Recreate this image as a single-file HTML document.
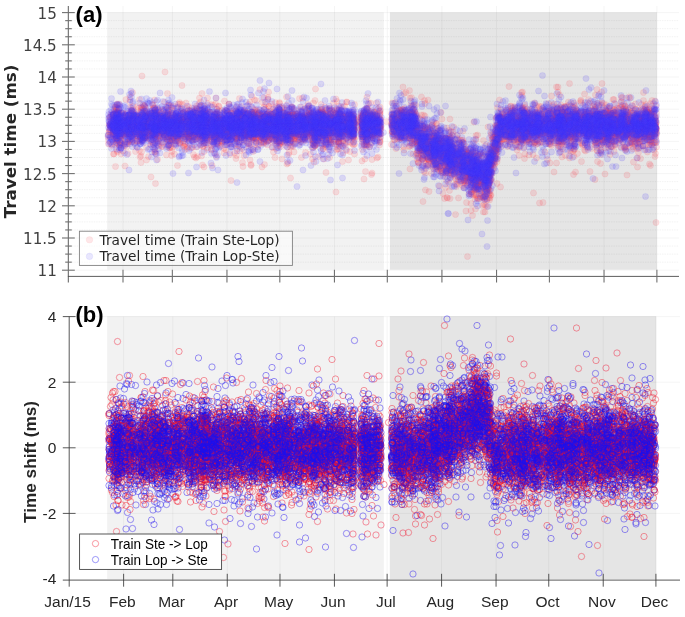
<!DOCTYPE html>
<html lang="en"><head><meta charset="utf-8"><title>Travel time and time shift</title>
<style>html,body{margin:0;padding:0;background:#fff}svg{display:block}.dj{font-family:"DejaVu Sans","Liberation Sans",sans-serif}.ar{font-family:"Liberation Sans","DejaVu Sans",sans-serif}</style></head><body>
<svg width="685" height="617" viewBox="0 0 685 617">
<rect width="685" height="617" fill="#fff"/>
<defs>
<marker id="mr" markerWidth="20" markerHeight="20" refX="10" refY="10" markerUnits="userSpaceOnUse" overflow="visible"><circle cx="10" cy="10" r="6.2" fill="#fa3c48" fill-opacity=".15" stroke="#fa3c48" stroke-opacity=".1" stroke-width="1.6"/></marker>
<marker id="mb" markerWidth="20" markerHeight="20" refX="10" refY="10" markerUnits="userSpaceOnUse" overflow="visible"><circle cx="10" cy="10" r="6.2" fill="#4034fa" fill-opacity=".15" stroke="#4034fa" stroke-opacity=".1" stroke-width="1.6"/></marker>
<marker id="or" markerWidth="20" markerHeight="20" refX="10" refY="10" markerUnits="userSpaceOnUse" overflow="visible"><circle cx="10" cy="10" r="6.3" fill="none" stroke="#f01428" stroke-opacity=".42" stroke-width="2"/></marker>
<marker id="ob" markerWidth="20" markerHeight="20" refX="10" refY="10" markerUnits="userSpaceOnUse" overflow="visible"><circle cx="10" cy="10" r="6.3" fill="none" stroke="#1a10ee" stroke-opacity=".42" stroke-width="2"/></marker>
<filter id="bl" x="0" y="0" width="1400" height="1300" filterUnits="userSpaceOnUse"><feGaussianBlur stdDeviation=".7"/></filter>
</defs>
<g id="top">
<rect x="107.2" y="12.3" width="276.6" height="257.4" fill="#f2f2f2"/>
<rect x="389.9" y="12.3" width="267.0" height="257.4" fill="#e5e5e5"/>
<line x1="75" x2="679.0" y1="12.60" y2="12.60" stroke="#000" stroke-opacity=".045" stroke-width="1"/><line x1="72" x2="679.0" y1="20.65" y2="20.65" stroke="#000" stroke-opacity=".085" stroke-width=".8" stroke-dasharray=".85 .85"/><line x1="72" x2="679.0" y1="28.70" y2="28.70" stroke="#000" stroke-opacity=".085" stroke-width=".8" stroke-dasharray=".85 .85"/><line x1="72" x2="679.0" y1="36.75" y2="36.75" stroke="#000" stroke-opacity=".085" stroke-width=".8" stroke-dasharray=".85 .85"/><line x1="75" x2="679.0" y1="44.80" y2="44.80" stroke="#000" stroke-opacity=".045" stroke-width="1"/><line x1="72" x2="679.0" y1="52.85" y2="52.85" stroke="#000" stroke-opacity=".085" stroke-width=".8" stroke-dasharray=".85 .85"/><line x1="72" x2="679.0" y1="60.90" y2="60.90" stroke="#000" stroke-opacity=".085" stroke-width=".8" stroke-dasharray=".85 .85"/><line x1="72" x2="679.0" y1="68.95" y2="68.95" stroke="#000" stroke-opacity=".085" stroke-width=".8" stroke-dasharray=".85 .85"/><line x1="75" x2="679.0" y1="77.00" y2="77.00" stroke="#000" stroke-opacity=".045" stroke-width="1"/><line x1="72" x2="679.0" y1="85.05" y2="85.05" stroke="#000" stroke-opacity=".085" stroke-width=".8" stroke-dasharray=".85 .85"/><line x1="72" x2="679.0" y1="93.10" y2="93.10" stroke="#000" stroke-opacity=".085" stroke-width=".8" stroke-dasharray=".85 .85"/><line x1="72" x2="679.0" y1="101.15" y2="101.15" stroke="#000" stroke-opacity=".085" stroke-width=".8" stroke-dasharray=".85 .85"/><line x1="75" x2="679.0" y1="109.20" y2="109.20" stroke="#000" stroke-opacity=".045" stroke-width="1"/><line x1="72" x2="679.0" y1="117.25" y2="117.25" stroke="#000" stroke-opacity=".085" stroke-width=".8" stroke-dasharray=".85 .85"/><line x1="72" x2="679.0" y1="125.30" y2="125.30" stroke="#000" stroke-opacity=".085" stroke-width=".8" stroke-dasharray=".85 .85"/><line x1="72" x2="679.0" y1="133.35" y2="133.35" stroke="#000" stroke-opacity=".085" stroke-width=".8" stroke-dasharray=".85 .85"/><line x1="75" x2="679.0" y1="141.40" y2="141.40" stroke="#000" stroke-opacity=".045" stroke-width="1"/><line x1="72" x2="679.0" y1="149.45" y2="149.45" stroke="#000" stroke-opacity=".085" stroke-width=".8" stroke-dasharray=".85 .85"/><line x1="72" x2="679.0" y1="157.50" y2="157.50" stroke="#000" stroke-opacity=".085" stroke-width=".8" stroke-dasharray=".85 .85"/><line x1="72" x2="679.0" y1="165.55" y2="165.55" stroke="#000" stroke-opacity=".085" stroke-width=".8" stroke-dasharray=".85 .85"/><line x1="75" x2="679.0" y1="173.60" y2="173.60" stroke="#000" stroke-opacity=".045" stroke-width="1"/><line x1="72" x2="679.0" y1="181.65" y2="181.65" stroke="#000" stroke-opacity=".085" stroke-width=".8" stroke-dasharray=".85 .85"/><line x1="72" x2="679.0" y1="189.70" y2="189.70" stroke="#000" stroke-opacity=".085" stroke-width=".8" stroke-dasharray=".85 .85"/><line x1="72" x2="679.0" y1="197.75" y2="197.75" stroke="#000" stroke-opacity=".085" stroke-width=".8" stroke-dasharray=".85 .85"/><line x1="75" x2="679.0" y1="205.80" y2="205.80" stroke="#000" stroke-opacity=".045" stroke-width="1"/><line x1="72" x2="679.0" y1="213.85" y2="213.85" stroke="#000" stroke-opacity=".085" stroke-width=".8" stroke-dasharray=".85 .85"/><line x1="72" x2="679.0" y1="221.90" y2="221.90" stroke="#000" stroke-opacity=".085" stroke-width=".8" stroke-dasharray=".85 .85"/><line x1="72" x2="679.0" y1="229.95" y2="229.95" stroke="#000" stroke-opacity=".085" stroke-width=".8" stroke-dasharray=".85 .85"/><line x1="75" x2="679.0" y1="238.00" y2="238.00" stroke="#000" stroke-opacity=".045" stroke-width="1"/><line x1="72" x2="679.0" y1="246.05" y2="246.05" stroke="#000" stroke-opacity=".085" stroke-width=".8" stroke-dasharray=".85 .85"/><line x1="72" x2="679.0" y1="254.10" y2="254.10" stroke="#000" stroke-opacity=".085" stroke-width=".8" stroke-dasharray=".85 .85"/><line x1="72" x2="679.0" y1="262.15" y2="262.15" stroke="#000" stroke-opacity=".085" stroke-width=".8" stroke-dasharray=".85 .85"/><line x1="75" x2="679.0" y1="270.20" y2="270.20" stroke="#000" stroke-opacity=".045" stroke-width="1"/><line x1="123.00" x2="123.00" y1="6" y2="270" stroke="#000" stroke-opacity=".045" stroke-width="1"/><line x1="172.34" x2="172.34" y1="6" y2="270" stroke="#000" stroke-opacity=".045" stroke-width="1"/><line x1="226.96" x2="226.96" y1="6" y2="270" stroke="#000" stroke-opacity=".045" stroke-width="1"/><line x1="279.82" x2="279.82" y1="6" y2="270" stroke="#000" stroke-opacity=".045" stroke-width="1"/><line x1="334.44" x2="334.44" y1="6" y2="270" stroke="#000" stroke-opacity=".045" stroke-width="1"/><line x1="387.30" x2="387.30" y1="6" y2="270" stroke="#000" stroke-opacity=".045" stroke-width="1"/><line x1="441.92" x2="441.92" y1="6" y2="270" stroke="#000" stroke-opacity=".045" stroke-width="1"/><line x1="496.55" x2="496.55" y1="6" y2="270" stroke="#000" stroke-opacity=".045" stroke-width="1"/><line x1="549.41" x2="549.41" y1="6" y2="270" stroke="#000" stroke-opacity=".045" stroke-width="1"/><line x1="604.03" x2="604.03" y1="6" y2="270" stroke="#000" stroke-opacity=".045" stroke-width="1"/><line x1="656.89" x2="656.89" y1="6" y2="270" stroke="#000" stroke-opacity=".045" stroke-width="1"/>
</g>
<g fill="none" stroke="none" transform="scale(.5)" filter="url(#bl)">
<polyline points="578,256 387,280 847,279 526,261 922,310 692,231 672,226 951,342 822,261 288,244 1015,232 233,256 1268,238 730,232 1007,234 1018,173 834,287 829,259 1239,240 260,239 820,278 298,246 867,324 460,259 431,252 1039,295 992,312 1102,283 897,321 1115,253 662,266 651,242 634,239 1045,242 1123,241 634,275 1078,246 707,247 852,288 828,230 945,351 960,348 856,200 678,236 537,281 538,253 707,290 624,265 854,298 1256,267 630,291 1186,232 758,275 434,233 677,243 1125,222 1124,275 626,244 437,260 991,315 1061,277 279,271 629,251 739,234 792,244 1272,272 552,256 498,241 290,221 680,264 1063,233 995,296 431,249 367,269 1059,251 1039,244 498,252 372,240 918,361 407,263 233,239 512,277 1086,233 674,278 393,245 1196,264 944,356 875,303 451,255 1262,223 1188,208 342,251 562,234 252,243 1128,261 947,362 842,249 883,326 585,227 237,225 1011,251 977,313 678,259 1045,214 707,258 522,240 1153,261 659,283 486,250 969,339 449,266 510,234 511,231 358,236 255,250 820,236 1055,255 559,219 906,321 538,244 1047,244 1029,268 631,264 982,347 441,276 522,252 731,248 1160,247 708,255 532,257 551,267 406,252 286,242 727,231 452,281 1228,260 353,274 869,330 1167,244 297,255 507,274 1108,228 647,250 385,266 306,272 852,302 926,285 1041,250 820,234 434,288 755,248 896,342 1021,239 625,257 970,387 830,283 334,252 1113,260 1230,276 327,262 407,245 1148,244 1215,262 265,240 731,278 1227,252 293,233 791,205 1034,254 696,284 371,268 1294,267 1040,242 344,303 557,253 1073,250 230,222 528,285 454,287 726,261 254,254 1045,248 660,236 1044,241 662,251 1189,260 1223,266 557,284 1024,251 494,255 877,298 376,234 361,243 980,366 358,259 1245,232 1223,252 887,331 290,261 840,298 961,362 1310,257 1108,242 1195,257 508,234 1250,246 625,233 662,266 627,267 1046,245 733,228 708,273 1043,238 836,273 473,260 521,260 550,244 1051,222 627,241 571,277 914,369 981,332 1046,249 914,341 660,245 494,256 598,255 386,229 304,236 438,266 436,257 1304,241 531,242 880,279 788,231 876,262 585,256 576,326 255,251 820,286 582,252 250,263 993,253 227,246 1270,250 1201,240 914,302 319,260 565,241 457,255 355,232 327,233 584,258 311,253 1089,220 502,252 857,294 1261,254 1113,326 233,258 1193,252 977,360 1079,264 411,263 255,233 1150,250 1289,242 484,248 1166,263 658,259 558,227 225,244 435,257 1169,229 1200,279 1246,270 1303,249 852,272 1260,245 353,233 383,242 663,248 901,356 848,261 232,279 982,321 430,246 733,244 1286,235 808,243 279,271 941,334 494,252 237,255 809,244 635,233 541,261 406,221 727,252 532,261 877,301 632,273 293,235 900,306 951,418 1272,234 1292,233 1101,225 412,261 439,238 1179,250 899,276 788,269 786,245 535,249 354,256 357,241 1228,244 423,247 856,280 680,258 687,233 945,350 534,236 725,253 1208,269 487,256 1005,229 556,260 1197,272 649,251 954,371 1303,239 248,270 546,285 1268,262 233,265 734,249 866,292 566,275 336,252 811,273 907,304 644,238 1057,258 1018,229 498,260 1304,201 1006,278 681,233 671,239 409,263 1005,245 1174,258 726,227 563,250 665,275 1242,241 1256,258 1307,253 880,298 818,276 620,248 877,309 1244,248 841,295 625,258 347,287 1170,252 1198,267 307,260 709,247 819,293 1156,253 281,274 1295,304 1060,286 1174,252 855,294 1191,272 1080,266 279,280 432,244 1238,267 230,289 613,274 1114,233 820,196 1050,262 935,318 312,252 723,248 1182,244 872,287 275,231 1260,257 587,253 664,254 889,307 1189,256 733,242 1110,238 526,257 356,281 312,259 289,257 1178,233 549,234 357,241 743,248 353,242 664,235 919,345 1220,262 1095,245 393,294 756,314 1302,288 312,256 1219,269 503,261 567,216 1233,242 309,200 443,284 308,235 538,212 1204,230 1197,237 1243,248 497,288 282,260 987,290 1222,237 1278,233 1163,286 1140,254 609,236 325,253 1014,246 367,292 638,245 1256,261 528,258 1313,245 1217,234 575,223 355,331 1221,229 420,224 226,240 1193,246 953,375 263,230 317,248 1024,262 1201,327 352,245 271,245 1247,231 405,270 1024,246 597,281 992,302 235,265 410,263 1302,236 970,424 647,255 728,358 670,245 699,238 538,236 895,316 703,242 930,327 1275,334 947,336 1089,251 574,254 506,271 437,256 283,247 1104,265 947,286 569,244 308,267 848,277 893,276 707,236 463,259 725,259 1034,254 313,266 1227,252 1190,231 279,256 503,224 981,381 633,231 570,285 798,252 978,366 959,360 883,315 236,242 458,249 937,344 605,278 1194,277 346,230 566,224 1298,243 370,277 691,290 532,236 1118,239 363,250 537,280 1115,251 1305,256 1172,250 1296,224 1029,256 924,335 459,241 900,321 547,254 650,261 241,243 1091,252 473,278 955,331 423,274 1034,243 315,319 724,238 474,232 1094,240 1113,225 927,336 422,280 1119,261 1015,260 981,336 1127,283 543,228 575,236 387,265 679,230 1151,277 647,270 1259,245 311,267 1047,233 1166,257 604,248 551,247 1300,273 368,254 686,271 333,310 599,238 805,239 1303,274 1007,269 377,254 391,279 259,283 1252,234 587,286 932,293 722,236 752,260 958,332 1302,241 759,222 473,256 329,235 489,282 1033,236 1152,264 563,239 679,265 1062,254 299,247 925,371 415,255 555,242 525,271 1045,251 1306,241 1097,261 1230,253 869,257 1164,251 590,267 426,258 367,246 901,317 1303,268 290,252 971,342 423,254 1276,260 728,259 803,229 436,259 671,226 614,264 240,255 1102,275 459,275 1158,264 1120,254 569,249 1158,239 753,206 1140,235 722,265 506,227 744,269 584,249 1058,219 371,287 397,254 1265,253 1249,233 1277,305 1017,266 625,281 1130,262 563,216 571,246 1200,253 906,347 461,232 1176,234 1051,259 393,259 453,221 632,250 580,251 662,247 709,308 531,270 581,263 630,291 433,265 1089,278 719,242 1041,234 1106,223 389,243 495,287 499,249 238,267 510,264 723,265 405,248 807,247 594,229 935,356 992,281 1022,212 1008,252 291,248 693,262 784,249 488,259 507,243 1073,264 259,281 806,246 609,254 1204,206 400,264 942,316 1074,255 957,351 236,259 987,314 709,288 1139,167 242,247 466,247 929,362 385,282 1137,232 432,248 989,292 1183,261 1136,224 742,243 724,257 762,257 661,254 507,242 1075,258 442,238 794,254 559,225 480,302 626,269 956,336 1152,218 688,241 672,245 1260,266 292,257 441,278 942,344 870,300 316,261 1194,237 329,261 649,267 1188,237 1253,266 1208,242 472,272 1270,247 225,248 1203,258 971,325 1139,256 1090,304 574,262 1146,268 1236,260 1204,275 1251,243 597,242 311,231 1168,231 946,323 592,271 432,196 1302,241 456,270 1117,260 1132,244 373,242 977,340 481,263 537,267 409,257 1208,238 1190,249 977,320 754,235 524,276 591,232 1253,244 342,264 1286,237 522,247 788,241 451,239 308,248 235,250 1250,256 537,242 1129,230 581,248 724,250 1132,266 608,269 1074,263 730,229 638,247 1039,244 881,297 805,219 1304,212 1277,244 258,266 1252,246 799,232 354,240 1124,231 1118,264 978,389 1215,271 1078,256 606,233 583,249 470,289 335,238 685,230 840,298 612,237 1043,224 827,245 510,240 786,243 970,384 1272,249 1050,273 1221,281 795,278 1031,274 920,293 877,328 642,209 843,194 825,268 1209,266 1124,229 1025,238 1230,228 289,258 1061,231 725,250 1041,270 536,227 752,263 1150,254 485,232 640,241 1068,236 1201,309 1221,230 1055,283 552,239 858,296 1044,191 1030,229 501,250 1094,241 1217,286 1171,247 619,216 410,281 760,238 470,253 634,239 732,237 980,396 1286,255 1188,251 1201,250 704,246 1093,241 528,214 794,241 1291,276 873,306 1080,243 559,239 1128,244 237,247 411,250 499,273 1065,231 637,253 1151,261 350,262 470,248 835,265 788,254 977,342 904,315 318,245 437,271 265,280 1204,250 636,225 868,298 902,263 956,343 607,275 504,251 351,273 445,263 259,252 1303,290 830,240 611,281 473,240 571,282 948,365 1023,256 560,270 1161,202 447,282 685,249 343,214 925,333 413,252 942,355 1021,213 882,295 983,345 708,256 342,273 1030,219 644,234 1240,280 1213,255 596,275 900,288 334,250 241,272 1143,287 267,238 1034,300 792,236 584,225 1287,259 914,290 289,252 349,252 1031,242 1132,244 1023,245 761,257 942,325 244,239 413,234 1003,267 704,272 329,259 727,227 1163,252 627,206 381,266 904,293 980,318 565,283 1043,250 628,240 741,258 1024,268 1138,246 1300,259 1199,255 939,334 1128,247 1020,291 1301,207 847,283 1053,233 380,238 1270,256 596,246 614,247 313,233 1212,222 617,227 1245,273 542,236 1247,218 386,259 988,293 1138,249 805,219 1165,233 1205,241 392,253 1063,267 845,297 324,243 573,210 240,241 746,260 878,285 271,258 1211,257 403,272 404,237 744,346 1229,230 286,266 1204,248 463,241 745,235 603,239 488,300 1262,270 225,272 1014,247 1082,251 660,221 869,303 459,245 1022,248 756,218 1281,292 1167,248 1251,231 1198,260 1294,263 798,259 338,258 425,274 1055,224 636,260 1149,287 307,253 586,228 1156,226 970,357 988,279 1304,275 242,259 946,339 1037,255 1000,233 296,253 1064,218 887,291 505,275 227,254 801,221 321,241 758,254 1072,247 474,245 1272,248 1155,307 633,270 285,224 536,246 267,230 462,361 330,250 459,248 475,254 1117,246 403,312 239,251 1225,269 904,348 671,264 1051,230 801,237 408,303 1294,224 1259,229 1123,246 546,262 382,246 893,302 231,235 1001,225 981,299 1133,227 892,346 1233,268 1200,257 264,222 493,266 1174,229 416,258 1050,242 461,257 500,268 1278,283 1053,284 366,249 1293,247 293,226 629,249 238,249 1194,251 966,347 605,234 1203,272 1067,247 1310,284 644,246 522,238 237,269 1057,268 980,325 1138,253 385,295 870,271 734,243 437,285 869,315 1267,221 1169,188 1202,230 504,264 1171,246 530,243 480,257 1171,245 619,244 1176,221 635,234 708,245 838,280 459,262 502,329 327,247 408,255 703,264 920,353 368,235 1195,277 1077,262 1130,269 960,353 392,246 734,257 984,325 1100,276 1130,230 950,347 1150,268 661,243 633,237 796,247 406,254 1049,267 393,250 1033,260 978,355 1222,255 250,332 1074,258 882,326 652,289 1101,242 947,386 1008,279 1182,254 1243,245 1227,243 881,314 753,245 460,267 685,262 251,235 648,238 912,347 945,431 890,331 497,266 629,261 1142,212 1254,246 415,222 228,308 883,344 1112,254 868,271 1209,240 952,369 453,222 504,236 995,249 1098,244 682,243 1302,252 909,329 239,257 340,251 1251,237 905,308 1218,280 1194,301 1179,246 906,324 687,261 484,262 949,304 809,232 431,229 1131,264 449,275 487,222 786,234 1154,234 1279,265 1265,259 899,302 506,262 437,237 678,248 457,267 896,297 908,324 1157,238 1055,243 830,224 885,274 532,244 1227,257 672,268 1160,276 1065,250 821,258 1203,223 756,259 632,287 680,261 658,300 319,263 1242,259 1106,268 1053,263 290,244 726,272 1256,241 282,270 1199,257 1243,247 488,240 473,229 785,253 729,220 1188,234 272,234 384,259 881,337 1073,223 743,259 890,332 921,329 238,260 1311,307 579,251 756,245 219,259 569,257 818,231 736,254 1272,234 1022,276 992,262 581,278 622,241 783,227 1214,247 311,278 258,253 561,275 347,262 871,305 1143,242 874,247 383,253 661,285 1276,250 1187,262 1297,256 495,270 425,285 792,297 1180,264 1215,262 859,303 294,250 338,296 350,244 547,237 556,262 990,268 338,250 954,329 996,254 1006,262 822,251 1030,266 428,238 799,240 502,244 941,352 1099,260 976,375 1292,232 945,337 1203,241 820,274 737,228 881,287 1001,374 1243,237 624,224 731,272 1217,263 668,242 1125,237 277,248 220,239 1239,243 550,270 434,239 973,334 236,240 1165,291 839,278 475,268 935,310 583,213 725,247 1215,252 807,241 833,279 753,242 1013,224 1174,231 650,245 1245,284 851,257 328,237 947,360 535,246 1163,287 279,301 291,242 325,273 241,245 1117,254 1224,284 1277,265 381,242 1264,287 306,249 511,265 513,245 330,144 824,224 706,266 1261,235 638,259 941,379 1099,271 338,282 800,256 321,235 463,271 900,327 1313,282 377,263 633,267 995,215 855,300 959,327 1291,299 882,325 293,236 682,226 469,306 566,253 634,288 886,387 435,243 489,263 512,260 911,429 260,244 554,237 430,249 980,311 454,249 1221,254 1200,246 628,271 1308,300 661,231 1058,250 1113,238 952,331 995,264 373,266 273,269 312,242 1121,250 440,247 1290,250 1124,261 957,364 855,254 876,288 726,261 612,233 478,284 823,261 396,276 1109,231 1238,246 826,287 669,240 1121,237 224,230 234,252 542,228 960,368 325,262 970,309 1304,253 346,255 437,290 626,264 616,209 1198,229 290,253 1000,233 1110,232 1165,224 1196,254 225,254 739,252 314,279 575,242 339,253 842,301 1011,264 989,330 553,260 801,253 906,342 438,267 1109,237 1005,259 1203,252 1227,241 961,378 1262,254 856,334 871,266 481,237 642,243 631,247 1284,236 916,329 1012,254 406,255 550,315 1179,252 1262,259 685,246 644,226 732,246 519,252 313,228 707,263 1077,255 336,255 587,280 262,270 794,270 954,359 1302,239 957,363 815,242 515,262 869,300 882,285 528,283 975,353 1091,245 742,250 908,336 562,255 334,278 755,245 1207,232 829,225 682,239 1288,244 473,222 1040,275 1125,298 748,272 460,309 1215,251 556,250 239,226 419,225 1195,259 637,245 991,295 1020,255 722,231 553,234 867,278 508,225 518,281 1180,251 613,265 329,271 908,331 807,239 280,236 599,197 523,255 1298,219 1221,235 255,284 463,261 1220,255 403,269 842,282 267,265 257,260 663,273 234,225 309,304 921,332 697,264 310,260 897,346 681,251 953,374 499,262 1176,238 640,224 1033,269 618,231 1214,258 443,239 481,267 1184,248 569,248 1117,238 464,255 454,256 1042,237 1123,243 442,258 484,232 367,249 277,265 427,210 513,230 626,250 1283,217 631,252 548,244 1101,263 932,340 511,219 481,273 1203,262 1119,190 1099,220 399,221 936,332 263,236 1276,286 397,236 1120,263 262,266 837,285 895,313 448,297 825,219 833,255 229,275 611,244 925,324 1052,247 955,331 937,307 1171,265 414,238 860,268 538,271 1253,230 905,330 1142,232 230,241 684,266 700,261 574,261 412,258 736,243 1196,267 1278,271 637,266 1064,251 727,257 1128,249 437,213 252,284 730,259 1212,222 1223,293 1004,241 641,241 809,223 1117,291 1102,255 883,309 361,238 754,240 568,266 708,245 1288,256 1124,242 648,318 823,231 317,272 678,244 749,225 613,239 322,235 583,278 1015,282 365,265 1046,249 1254,350 838,281 570,238 408,254 1033,242 442,248 341,293 903,277 617,217 1274,276 1221,260 874,318 1045,255 1259,241 422,256 472,258 581,261 931,335 972,383 324,267 1211,243 1017,241 615,246 1150,240 621,308 1208,248 1093,256 1299,261 630,292 1021,275 1278,241 725,242 1190,215 628,275 784,206 416,271 1151,231 514,261 992,252 376,227 1254,248 1267,244 219,251 922,322 952,332 352,292 503,229 289,264 924,281 1102,278 1240,243 1059,246 1217,250 677,285 982,335 971,354 977,355 900,307 651,265 504,242 1213,245 1144,246 1004,268 266,256 1251,213 907,254 237,265 648,245 612,255 1102,247 1218,266 971,340 629,281 408,225 599,247 222,248 278,260 1306,251 827,210 886,296 1128,260 827,238 866,301 490,264 872,318 1129,254 538,249 548,240 380,245 878,293 1062,267 803,265 236,248 1167,242 479,254 1213,269 1280,260 1147,232 433,227 1280,274 328,221 1250,244 357,250 448,306 1300,251 1161,236 546,264 393,241 663,234 867,318 1246,252 353,268 576,231 637,265 802,269 571,255 490,271 1078,269 581,257 309,215 571,252 1138,238 678,225 731,260 1127,251 1125,257 1257,230 508,255 402,283 1244,260 1183,232 697,261 1287,201 941,325 1265,238 981,333 880,342 387,266 353,261 706,259 645,262 314,269 286,230 556,253 811,240 645,229 1057,245 1140,301 1179,261 402,260 432,278 724,283 1278,255 900,317 1303,255 417,252 640,241 514,255 1291,232 526,235 1147,349 841,266 638,262 1291,262 1080,231 1047,247 412,270 980,326 1128,271 914,286 1312,445 306,210 1075,287 676,240 579,250 363,219 544,278 948,342 1205,242 433,251 895,317 700,303 668,234 995,265 928,327 1244,258 1100,244 678,227 935,347 344,280 1058,310 307,236 1305,270 344,243 530,236 1130,233 784,234 863,296 336,291 287,270 1259,242 585,266 942,331 315,246 294,250 701,285 356,253 541,239 560,250 558,240 584,277 749,224 965,311 262,225 689,212 279,247 325,293 1217,295 1145,237 978,369 313,236 613,266 1043,262 982,322 998,238 673,236 424,267 439,273 849,281 680,248 391,241 232,229 506,303 759,267 879,333 402,258 666,236 562,229 981,319 1213,271 1248,262 1115,216 597,275 1186,260 995,285 408,250 1262,267 965,329 978,315 1212,263 1295,280 257,271 431,237 438,260 658,270 729,241 1179,255 1049,317 759,260 451,251 537,232 744,237 417,281 383,280 954,312 732,242 684,237 744,319 1123,246 487,234 458,259 1078,212 836,301 928,336 1123,246 949,297 995,270 883,305 447,260 377,271 267,250 921,301 821,239 347,251 939,345 934,329 500,229 416,234 517,244 397,259 696,246 1122,234 762,249 808,245 995,303 1152,250 858,280 257,250 252,258 880,267 288,258 808,187 1155,241 940,329 518,271 867,310 500,255 501,235 234,255 432,267 312,227 797,222 729,270 901,276 560,279 1299,328 841,300 1191,286 286,210 1250,256 243,268 227,256 944,327 233,255 1171,271 824,279 604,221 220,234 687,260 584,263 984,306 433,229 1167,267 891,375 233,272 473,251 935,344 991,284 1198,271 559,205 913,332 1250,212 640,238 602,284 869,286 1204,251 1224,270 925,342 328,248 1199,218 1104,251 311,268 799,246 845,256 1253,269 625,318 623,266 489,267 391,225 841,287 384,216 436,266 1110,260 473,213 809,258 859,322 578,231 574,247 976,377 751,240 643,258 472,266 480,255 613,273 337,210 458,258 1060,263 826,308 1132,274 545,250 576,280 828,272 870,276 702,252 371,239 857,276 820,239 900,312 435,228 379,253 858,383 1205,261 450,252 341,268 392,269 536,251 971,354 569,243 238,265 815,243 1295,268 475,234 1115,276 707,270 984,326 461,263 449,243 541,248 367,243 548,253 510,289 859,302 1022,269 336,229 682,221 291,253 235,254 627,252 1021,262 275,272 539,222 393,251 543,238 1260,289 409,229 795,255 807,246 700,241 806,226 1202,224 937,352 946,352 888,294 636,237 725,273 501,289 1224,270 234,281 845,252 1153,231 743,257 623,226 525,246 525,243 852,303 550,266 1193,253 1105,260 578,234 500,204 442,292 479,263 463,227 954,395 460,276 827,250 409,242 745,252 1168,249 293,258 239,274 1140,272 590,241 969,344 1136,246 977,376 1020,268 462,222 700,245 543,244 1253,269 231,214 253,243 531,236 1139,219 644,259 234,255 903,295 1203,247 334,260 1020,256 757,260 482,238 289,245 664,253 737,206 1198,247 283,244 1253,271 753,244 736,260 696,262 629,249 1183,229 447,258 527,226 285,238 1142,283 876,308 1188,264 519,260 799,260 544,276 1309,263 474,253 515,238 351,257 646,253 1199,290 488,269 357,273 1196,206 626,288 981,362 404,187 795,241 396,258 729,243 418,239 1157,276 955,337 965,354 661,236 1187,271 312,236 1141,232 651,266 340,242 351,261 1028,250 478,233 303,277 566,244 1170,210 1150,257 1173,244 311,231 689,288 848,267 500,223 679,250 618,267 292,264 1298,248 1200,228 1299,290 415,238 283,258 1222,256 1215,272 1058,236 1115,226 571,266 356,265 365,209 1129,214 384,247 571,267 926,329 1118,260 1121,248 1144,237 537,262 347,273 1076,239 427,288 1083,252 266,271 1103,192 1064,258 238,236 872,313 833,307 360,286 286,218 817,263 489,276 413,289 706,248 666,252 585,258 248,242 929,323 302,290 1097,207 512,247 975,349 344,241 831,250 557,270 532,245 311,236 856,288 842,299 460,245 920,344 632,261 1179,247 975,382 1267,324 553,239 365,271 573,268 1157,260 706,276 1116,252 423,209 1261,256 785,264 534,228 423,252 1145,251 291,263 472,260 836,284 1144,261 1278,250 576,254 449,255 291,239 258,239 1292,234 909,317 903,312 675,257 1188,260 998,235 528,260 375,244 305,270 499,240 809,217 289,275 505,262 586,240 1178,245 478,260 561,266 976,373 958,336 466,264 408,271 561,284 585,253 1236,258 892,306 537,248 230,214 976,322 1131,269 801,254 603,241 861,315 982,301 755,244 1142,304 290,233 1140,275 1280,244 1053,281 620,261 1149,211 1187,252 1255,232 632,266 919,305 661,268 992,300 799,247 1122,282 839,268 1219,261 1156,239 238,208 233,262 582,267 1174,258 646,238 486,245 907,313 1162,200 618,247 745,221 804,248 747,257 1274,297 1181,264 967,353 614,242 1147,242 1189,284 309,299 1229,273 1292,270 315,248 877,318 1156,264 344,243 245,235 476,290 1141,255 1079,271 519,220 856,303 1069,249 1103,257 551,269 349,246 1029,261 970,366 279,255 242,308 489,246 516,257 272,225 403,263 1172,255 661,286 355,246 512,244 957,348 842,297 1025,259 939,329 310,256 542,264 495,275 725,259 400,254 430,271 1253,252 611,230 625,266 661,243 529,258 1299,269 1180,227 506,244 685,256 528,259 1105,240 475,238 580,249 299,260 1218,259 1125,245 291,258 645,247 1265,247 456,264 1116,252 929,345 686,282 793,243 291,276 282,255 1281,251 494,274 608,260 479,254 600,236 246,302 315,289 269,231 572,232 1296,260 818,256 257,244 356,251 365,263 1113,250 435,266 1251,263 1129,263 553,274 837,326 558,249 588,267 1212,257 1011,257 369,293 294,253 927,320 649,260 221,247 1240,243 709,249 892,294 1162,262 1028,281 1038,264 991,300 396,256 383,253 923,317 878,291 495,235 577,259 474,271 701,274 927,335 990,319 597,255 585,269 459,275 519,247 234,256 1195,250 915,314 1220,255 1107,270 848,343 1277,246 431,253 1212,260 1148,245 886,308 899,342 1121,250 1066,265 932,335 318,231 334,262 1023,223 1213,231 405,272 675,259 458,251 474,267 1284,271 1242,259 548,282 825,243 952,334 980,335 510,271 226,251 875,289 760,226 542,263 1217,239 401,270 978,306 1249,234 386,242 516,259 527,277 510,270 591,232 623,245 545,273 240,263 630,233 391,262 1205,262 560,288 1178,272 978,350 481,268 946,352 570,269 952,363 402,264 353,267 953,361 1197,267 235,236 292,232 1059,260 1065,263 1202,242 1043,217 1070,284 812,221 1277,259 1290,257 844,288 554,257 392,220 400,251 1219,246 532,229 583,282 432,251 813,261 1255,271 1047,237 695,248 391,242 1141,250 1059,268 537,213 644,272 856,312 1223,249 483,256 677,264 282,325 220,252 957,350 666,240 507,253 1310,241 326,245 1283,243 1006,254 653,266 1076,254 754,259 898,261 812,274 252,269 693,277 339,252 632,242 677,260 1214,236 944,340 577,249 325,249 741,229 363,265 901,291 972,358 310,249 1228,199 1123,285 1172,244 1204,279 1110,262 363,240 663,221 1177,252 329,204 1190,249 1045,278 234,277 904,305 299,248 1120,255 747,268 1290,244 922,329 495,262 581,247 538,253 1272,219 474,259 682,263 749,244 974,329 1160,244 361,246 942,384 406,292 366,240 792,242 749,256 305,245 1211,268 1165,260 628,324 805,239 901,333 1122,210 399,266 1159,260 228,246 547,246 529,247 1062,264 831,256 642,227 1243,260 933,304 538,243 1309,271 410,252 1119,248 408,212 584,215 605,247 310,245 392,316 245,293 1181,250 665,222 533,262 496,244 579,235 401,237 956,348 240,251 412,238 871,297 1181,235 1127,285 732,263 1078,257 1097,234 632,251 1027,253 1027,274 1131,311 865,323 1120,246 280,267 953,332 261,254 581,284 919,331 307,271 479,244 1231,242 1276,279 1130,226 973,357 310,258 222,265 1237,235 605,236 404,277 237,223 500,234 1271,235 484,230 1039,262 982,270 676,249 1187,249 727,250 960,308 393,212 1228,248 267,263 460,265 1153,231 626,253 284,281 400,246 284,221 1292,265 235,255 971,364 1142,274 257,251 283,260 1044,287 1200,274 910,333 868,322 438,258 462,226 1290,250 1261,250 697,255 1088,238 521,242 1272,241 288,232 293,254 1300,274 553,271 487,242 313,223 1214,252 996,231 873,322 892,327 1140,244 476,245 965,390 1046,267 906,264 403,245 1224,282 328,233 1154,247 862,283 585,230 1098,253 926,280 1105,248 298,260 788,266 573,278 285,252 1242,204 450,259 949,330 411,231 660,235 611,223 529,251 1175,273 1051,261 1272,285 955,359 1121,271 912,358 977,351 589,278 487,244 1208,233 701,258 656,275 1286,262 953,360 1273,262 1038,243 1189,261 1143,290 596,244 1253,271 291,278 316,221 695,258 1310,202 364,245 1139,253 493,238 546,260 676,262 760,255 1022,222 950,378 498,246 474,278 468,233 807,250 289,226 287,256 850,277 989,302 364,171 658,279 451,271 1118,283 369,243 1057,259 951,338 228,240 483,260 365,240 1260,286 1182,249 324,262 1124,245 289,249 636,245 563,259 908,319 828,256 1207,243 377,253 343,261 385,239 313,248 1049,225 375,243 265,244 325,247 1086,244 888,282 425,254 982,313 599,235 827,238 514,230 674,256 1147,272 840,258 1295,263 266,251 1203,210 644,219 929,317 945,321 284,233 659,218 552,234 733,216 387,309 868,277 1250,262 1248,245 826,250 537,241 561,244 438,252 259,254 1040,258 845,260 619,262 929,309 844,312 1202,249 858,291 1178,256 992,277 578,247 1012,281 1114,256 309,249 925,350 573,257 379,221 1038,230 1255,224 1109,261 1118,244 404,244 1279,255 399,252 525,284 561,244 1296,257 370,289 531,234 568,239 663,249 857,276 805,229 621,265 958,381 902,317 668,220 1127,240 227,308 599,243 454,250 1153,223 1277,262 388,259 309,259 568,243 900,289 425,239 538,271 893,314 440,253 628,269 1035,225 1211,245 488,312 479,291 659,257 555,245 626,283 604,259 226,254 1153,247 487,241 497,230 804,233 1212,220 743,247 671,256 533,282 1222,256 234,216 1005,235 684,241 669,256 1249,240 236,235 281,264 431,208 1289,244 704,258 379,238 823,272 803,276 1149,274 617,237 658,280 479,244 1069,249 1156,260 837,301 1100,273 948,244 294,236 1127,274 658,249 460,246 1183,297 1152,245 536,261 952,338 977,334 735,242 282,263 969,398 1045,216 894,290 259,244 1025,221 738,225 1166,245 380,239 524,271 1214,244 787,233 312,252 386,240 638,243 393,251 1213,242 1222,293 1288,275 242,251 864,282 802,271 422,258 1226,271 257,242 596,249 1014,258 447,261 537,245 356,281 1194,291 527,260 223,247 792,244 475,249 1175,286 1008,273 514,223 432,268 940,344 889,317 1047,262 1219,279 506,240 928,325 311,307 1055,247 637,254 407,232 1049,271 943,355 971,292 411,257 905,270 733,287 1057,279 290,275 1290,275 658,238 361,252 843,266 1052,259 1279,247 392,217 583,244 1274,257 957,330 231,234 472,277 279,282 956,355 346,268 1141,225 1005,263 330,238 1059,273 239,251 353,238 336,227 976,365 993,271 484,259 553,282 1064,284 642,267 599,263 1253,257 886,351 262,257 1081,255 1193,237 738,266 474,272 420,249 316,266 435,239 810,258 730,244 1264,285 289,241 918,314 899,381 1148,299 681,244 430,277 941,359 1025,263 872,284 1236,257 835,270 1004,268 992,257 640,259 1092,262 992,300 644,244 602,256 1162,228 951,330 642,229 348,257 421,236 803,243 1002,219 953,333 955,365 226,257 586,254 497,209 642,251 589,238 1165,257 1266,230 516,264 1217,258 874,308 984,325 1292,264 335,261 358,255 272,259 272,255 396,253 1019,252 827,278 403,254 611,262 672,249 1051,248 838,308 883,341 867,289 698,267 370,225 409,228 445,274 678,284 1303,282 569,248 396,236 685,254 414,279 703,230 335,248 744,242 494,249 843,277 1242,281 505,254 1050,237 1087,258 836,324 932,355 1059,244 1236,261 650,264 1040,249 544,232 1047,256 1147,224 885,314 483,228 1051,244 1018,248 938,367 800,278 939,347 462,252 802,235 498,271 355,259 340,256 464,242 389,233 957,334 1065,264 600,252 734,261 942,361 643,222 549,252 377,275 1213,245 1299,226 1143,251 287,257 833,252 546,267 258,255 530,247 1091,235 325,236 1003,245 1140,263 1265,247 485,225 957,312 1020,254 784,243 659,263 610,258 1121,263 699,268 694,263 917,330 676,284 1271,261 328,256 822,209 559,232 449,202 517,266 275,257 971,411 619,220 984,299 845,319 370,252 931,330 956,343 367,234 882,225 994,324 825,290 1001,252 320,234 1248,273 558,246 1290,256 890,307 942,355 1152,258 459,272 631,249 374,267 1302,275 637,313 650,280 1034,250 304,270 1263,271 934,353 981,328 574,245 883,271 227,230 1107,222 928,325 388,239 1157,260 1272,257 594,258 749,246 430,275 891,325 287,260 636,219 1226,221 793,212 415,250 1219,226 409,265 611,244 899,308 1214,246 733,247 486,227 410,256 360,270 1002,250 655,234 518,245 633,234 551,247 604,256 994,367 407,243 970,354 597,233 262,272 1164,265 304,255 448,253 1253,293 348,257 1305,241 659,239 855,273 386,229 1203,235 1135,266 218,249 1066,309 917,317 1043,251 349,240 1178,237 724,235 410,244 1195,270 1113,214 1109,261 664,261 894,297 882,316 649,272 785,237 1119,255 463,243 649,229 1063,250 783,247 431,241 993,267 1043,185 328,274 842,289 868,314 360,236 1308,244 645,244 914,345 479,254 531,231 609,265 1218,245 978,347 1010,272 1162,205 734,194 233,247 1218,257 839,276 891,319 873,260 262,239 532,245 315,258 1154,253 941,322 1109,232 251,232 402,237 971,344 872,299 1119,276 1296,246 353,243 966,394 237,216 556,261 1051,258 488,237 265,242 473,277 697,252 1099,238 957,334 415,256 259,249 1013,239 1301,256 1238,278 629,236 1126,224 1297,255 607,251 378,268 944,356 889,397 722,227 1217,270 340,242 1164,245 229,277 1005,279 784,251 294,223 949,355 933,405 508,249 975,375 694,231 1088,266 902,340 1286,261 883,300 412,238 994,277 437,234 307,263 702,246 733,244 829,252 728,237 431,251 965,353 508,227 535,283 1073,247 1014,278 1227,266 1151,262 787,219 829,287 522,275 828,241 253,268 599,259 605,236 1000,254 996,272 1019,274 374,218 1112,246 1279,235 1204,272 661,226 1239,239 1150,238 1130,253 1280,255 1229,225 617,230 1238,249 304,239 1059,232 459,272 796,252 629,282 1150,251 435,251 311,253 1281,247 836,311 1041,278 950,334 697,249 531,279 511,234 934,335 796,259 1254,242 1149,266 827,227 1279,285 951,373 827,267 628,259 917,396 1225,244 789,249 604,269 683,236 531,251 897,346 867,294 256,287 1179,206 1253,249 825,212 1248,233 961,366 1047,217 809,242 1176,259 517,290 1248,293 308,228 1071,232 555,240 1275,249 638,277 1209,277 758,267 872,302 1137,267 661,265 697,230 1267,249 630,263 735,235 926,361 531,258 1076,256 817,252 950,335 859,301 426,245 813,240 1227,250 438,271 684,235 1234,263 945,360 1068,249 1199,245 316,259 1208,286 1282,241 503,273 801,227 540,242 1073,240 689,248 929,348 1074,243 1014,246 1116,249 379,241 412,258 462,270 1251,258 1001,279 953,357 975,363 289,211 1251,265 1149,266 330,257 901,311 1001,287 631,268 733,254 498,251 822,252 678,220 1178,254 1049,238 514,246 868,270 336,223 954,340 993,296 854,297 724,233 916,308 995,250 1095,267 941,355 394,258 1187,259 377,276 961,347 489,247 903,313 1116,174 784,262 405,252 344,279 274,237 1239,252 1006,240 888,322 1046,257 1122,275 1045,252 641,245 1232,225 850,281 646,298 1036,280 830,270 1119,236 1130,258 987,336 1283,209 1286,228 931,316 905,317 681,268 400,279 444,221 1169,300 1095,319 821,243 577,265 978,325 878,277 1303,269 671,279 671,252 350,255 233,220 866,307 1274,279 341,227 964,363 548,255 1190,270 695,226 1044,262 1265,251 866,302 379,278 305,248 397,265 602,238 1146,242 535,290 1230,259 1141,253 472,259 627,295 492,227 431,245 556,261 266,259 375,297 385,241 1186,249 1299,242 891,315 1242,254 1193,231 1282,233 290,248 545,246 404,275 461,266 621,227 577,267 840,277 546,235 234,226 1163,323 273,259 1301,231 266,213 636,255 458,229 974,352 892,340 1138,255 892,303 325,265 1207,234 353,275 1031,235 692,277 1116,251 487,238 1061,247 1124,233 1239,271 431,246 1251,268 1250,238 826,235 1197,249 533,271 534,244 953,390 500,252 827,255 727,230 949,337 309,266 495,271 261,247 1116,286 733,237 1159,257 445,283 916,344 586,241 306,269 559,242 1143,266 564,231 990,275 1176,268 964,349 952,271 868,278 1018,280 1287,243 413,276 922,297 353,239 1233,267 449,259 853,331 1263,258 970,331 643,219 817,242 1286,223 357,246 1103,233 680,244 832,243 1078,259 525,257 344,236 578,305 548,227 871,289 1287,252 527,243 464,263 620,254 1240,235 386,259 552,258 568,267 647,267 240,290 235,252 1112,282 979,352 933,355 1108,241 577,253 339,247 529,329 879,372 1263,261 456,248 927,316 316,259 813,276 852,256 1253,246 858,274 458,274 1038,266 651,266 401,220 329,259 326,286 350,275 569,264 414,227 1027,246 1116,259 897,302 505,225 760,281 706,253 856,317 842,270 1224,254 602,244 1088,224 342,271 514,263 908,337 561,251 851,292 1292,246 1007,231 548,257 739,240 1103,220 1189,239 642,252 585,249 1077,248 1266,298 834,253 702,257 842,279 423,291 661,228 511,276 383,295 1275,276 980,331 642,259 334,247 599,255 1278,255 421,247 295,229 286,239 323,293 453,261 926,322 335,241 827,247 252,199 561,258 1287,221 485,325 487,265 486,254 306,286 255,236 382,271 936,306 831,279 482,251 536,237 1233,241 1025,244 942,407 1230,261 1136,234 706,275 1313,294 1190,256 706,258 991,294 464,226 1045,280 941,346 1120,293 490,267 535,255 310,242 589,259 1235,216 1113,223 846,265 613,234 404,239 865,333 286,273 921,280 397,248 1147,278 951,353 792,259 1243,215 556,261 773,243 1275,248 877,341 375,241 989,283 612,269 730,249 251,242 1290,279 1281,242 552,256 879,308 961,357 372,248 550,226 509,267 526,264 1178,253 285,250 1231,271 976,333 506,255 983,321 632,261 989,264 570,246 1186,212 437,221 231,224 311,229 1024,252 530,239 289,263 272,268 844,249 563,224 418,247 1203,230 339,232 277,245 1028,223 910,333 724,272 870,302 335,257 1088,260 475,239 1037,268 1078,262 1178,265 964,326 304,262 649,242 1251,257 437,253 964,354 709,240 475,256 270,248 886,346 855,295 688,265 650,249 1167,244 434,248 962,353 786,250 632,262 1297,246 1251,271 731,242 993,235 583,230 530,263 1295,254 281,260 1178,258 727,247 569,277 556,232 961,352 520,241 1120,254 1042,281 941,339 469,258 991,289 408,270 372,206 405,244 356,260 866,303 315,258 847,286 754,232 259,256 845,284 693,301 1218,216 409,253 410,245 625,266 1286,251 735,230 570,266 1205,280 697,320 434,257 685,292 1035,247 232,263 414,265 1215,254 967,357 1040,279 430,307 1295,255 279,199 805,259 237,271 1290,243 947,323 1087,220 985,303 474,242 319,263 1155,265 520,239 1246,219 799,220 994,265 880,302 315,252 378,252 1204,265 1027,252 637,275 596,252 1056,259 1098,243 931,335 1233,228 507,240 1089,238 625,244 560,269 647,248 1311,249 587,241 289,258 1059,257 380,261 549,254 511,276 967,363 1298,280 344,248 988,313 1256,240 1155,252 459,251 882,301 1075,250 637,258 227,267 845,319 685,258 1035,262 622,266 482,228 1228,233 991,298 1155,258 881,296 479,262 832,265 235,241 379,260 815,254 1031,262 498,292 283,245 621,253 350,243 942,337 373,252 523,275 670,248 517,227 343,225 1290,269 1080,253 390,268 361,287 945,319 1223,240 601,268 570,239 809,257 1030,268 860,260 868,325 870,305 544,255 509,252 578,229 393,246 531,265 1216,282 985,322 1002,244 268,271 990,315 935,513 1126,253 267,248 1313,258 867,244 889,276 875,334 445,267 859,302 874,300 257,263 903,300 868,288 955,270 1195,262 1140,256 1291,251 1287,258 524,265 308,217 1039,252 283,234 1177,225 754,231 259,266 504,256 304,236 1121,245 1245,235 1155,222 336,247 234,273 1053,274 366,250 412,250 424,243 406,257 528,244 1282,240 1114,246 659,315 613,243 1200,278 257,247 309,268 502,331 649,245 227,270 514,260 980,315 1039,230 915,270 1197,241 826,254 260,280 1252,251 555,247 1101,245 649,249 233,245 304,246 319,261 1076,262 250,242 681,252 316,263 657,243 1049,253 792,251 361,272 1100,289 610,244 236,230 294,240 341,233 1280,261 560,253 858,291 401,212 1223,248 416,233 736,259 999,200 723,239 1291,257 609,279 1206,259 750,233 1074,226 356,248 1235,251 1174,249 745,260 847,292 1105,256 415,196 1245,237 265,276 916,354 1291,255 739,241 1201,273 1296,248 611,274 240,252 353,256 523,246 360,259 243,255 1045,248 800,260 670,259 631,246 417,248 1252,262 1120,231 578,256 1100,255 1261,285 1136,246 1073,274 302,262 349,239 727,249 820,244 258,243 965,339 571,251 222,246 943,342 1006,228 732,291 1007,249 266,232 1217,243 1049,243 872,304 1103,255 729,290 727,274 557,255 696,257 1044,252 1076,215 614,241 622,248 414,283 947,326 981,391 950,331 474,248 242,241 1261,263 1201,244 942,318 316,250 457,269 318,252 1147,251 412,261 1119,253 416,265 1099,263 392,253 865,266 889,316 564,261 1215,244 1082,241 686,239 534,256 257,252 286,254 811,241 955,346 1291,251 1292,217 929,352 894,304 1059,226 559,227 740,250 1222,227 1117,293 1130,224 575,287 758,250 681,277 534,256 550,243 426,245 856,318 404,227 524,259 1117,273 1099,252 596,226 830,246 293,266 1288,273 363,245 1218,246 1195,235 804,223 670,244 428,270 404,240 1280,258 675,254 983,313 758,240 823,195 597,221 1034,258 675,298 302,354 941,340 594,228 256,232 587,241 921,318 864,268 997,251 1160,243 238,253 831,248 598,231 557,237 706,265 586,236 584,215 1150,251 1274,258 1264,252 1201,250 645,272 901,301 402,263 403,253 1215,270 1028,232 332,242 976,254 1165,250 1307,218 998,253 1272,258 358,269 1086,405 1005,248 1013,242 605,234 959,365 559,258 350,281 496,236 464,244 679,292 900,238 580,231 1242,252 539,224 427,259 265,262 505,256 284,260 905,321 241,277 820,338 1253,227 797,247 410,267 1264,211 282,221 321,260 1101,260 920,327 975,362 275,248 354,271 394,217 379,274 1242,211 831,236 749,250 453,252 904,351 892,302 1291,242 1047,221 1165,254 1303,284 1090,263 993,277 917,279 1232,230 646,257 794,240 1283,279 1222,251 226,260 846,273 972,367 650,268 306,239 1042,260 635,248 1137,243 1068,254 1114,246 505,239 901,312 645,247 955,363 735,269 618,226 907,283 663,268 932,354 675,232 895,289 450,253 1049,238 277,246 681,265 361,278 557,251 652,345 1090,252 639,253 1291,258 252,229 941,354 569,251 1146,227 1210,236 990,298 530,257 1199,260 335,274 868,338 523,286 706,246 1215,237 1179,235 696,263 537,271 359,239 1276,251 671,231 542,275 1257,254 640,266 1077,238 612,255 645,270 626,255 1198,228 1231,239 1298,246 1170,259 961,382 1113,174 629,250 231,250 982,390 491,230 558,289 1281,317 1289,233 1270,287 313,248 947,342 941,327 555,232 587,272 929,298 409,258 736,230 745,259 1062,229 938,304 390,257 636,260 956,365 233,227 318,277 623,249 256,253 1059,251 485,279 1228,239 1187,252 1186,255 297,272 656,257 678,285 665,263 1081,243 1185,220 338,250 1066,248 496,242 430,228 482,266 236,246 528,195 809,273 694,243 533,274 368,274 573,234 1273,256 233,231 1143,235 1021,229 303,250 1166,237 429,249 1212,233 1296,262 360,242 881,278 705,227 294,253 1114,236 1203,289 1274,272 856,329 1274,258 950,353 978,343 339,253 1304,228 514,256 756,262 260,194 557,292 1171,235 236,265 350,237 641,275 643,265 682,244 563,255 1073,280 1212,272 594,245 374,237 610,243 1116,184 426,244 340,296 709,259 978,395 1263,237 232,272 1078,265 403,256 1311,241 324,227 1227,230 657,239 531,263 304,266 833,232 892,292 794,222 1204,167 1208,248 1101,279 1064,248 1194,232 598,267 1167,244 698,229 1040,232 806,235 325,243 377,261 589,269 1045,221 1057,257 1196,266 408,272 393,251 1084,239 373,244 1274,229 216,273 914,311 809,227 854,296 1265,269 307,260 473,233 290,274 438,254 1206,252 562,250 560,267 1300,267 649,252 622,255 451,279 297,235 645,251 438,254 242,273 1188,236 892,277 741,239 973,364 611,245 370,252 1178,262 575,257 460,259 497,263 1280,237 1269,245 1073,271 957,345 968,333 334,274 1119,235 1285,283 546,225 610,230 602,270 1171,229 433,233 1171,302 631,266 484,245 730,255 559,249 1120,218 391,256 1204,264 405,250 819,240 994,271 432,238 1203,251 1201,260 312,245 1291,258 996,290 363,240 1310,268 447,225 311,237 359,238 233,255 866,294 659,261 757,250 1183,268 401,291 230,234 975,341 1295,280 238,263 431,266 363,273 1046,273 1193,268 953,339 1206,258 447,242 761,221 1032,291 1139,243 993,275 1081,256 395,313 653,232 620,263 366,225 394,233 1197,254 953,364 1253,275 527,267 511,237 527,287 673,256 734,255 974,413 576,231 240,234 790,249 587,229 507,237 537,184 817,255 841,276 634,261 384,260 308,221 1015,249 940,350 308,239 1066,265 263,220 798,228 1068,287 289,237 444,251 948,338 660,253 1152,251 666,251 1209,276 295,236 1067,386 610,249 1166,262 847,230 293,238 836,286 462,250 806,267 253,226 995,318 1215,235 623,280 922,312 515,236 682,241 897,314 523,272 1174,261 419,244 1243,260 934,317 1036,253 1215,271 454,268 1016,250 413,255 1137,277 288,254 406,240 265,248 596,252 1286,261 451,258 1265,278 1046,249 1187,252 1169,251 1183,264 882,260 942,322 467,244 563,286 263,252 1100,256 1267,259 829,233 327,251 855,287 1120,279 1228,257 394,223 1069,244 1077,251 628,260 852,328 731,343 1249,259 824,270 301,263 804,234 237,252 723,258 590,236 531,250 254,239 474,276 1121,265 1115,254 1014,221 255,259 507,234 1261,275 947,366 252,270 1097,252 1047,238 1201,256 1039,257 694,204 1152,240 316,262 547,271 492,271 1152,222 900,325 430,259 1062,276 1017,272 1073,316 1288,258 1297,230 1312,254 968,330 1155,235 520,179 1042,242 1129,249 651,278 1100,257 616,243 563,251 1161,235 523,253 526,229 1238,273 1077,258 626,253 600,257 1114,255 574,253 641,223 461,244 334,258 1289,261 932,337 1271,218 859,282 798,244 225,232 1122,282 611,247 937,339 1293,258 564,237 1000,235 558,241 397,251 664,262 420,241 388,243 375,294 293,320 1186,254 1188,231 241,270 1043,259 887,304 392,243 970,360 414,249 1226,257 648,264 1037,242 1168,260 1081,253 1114,229 663,264 408,250 805,276 567,261 376,266 731,236 852,284 1219,231 452,247 505,254 499,239 1278,296 741,273 602,264 640,256 434,268 259,232 412,243 1165,239 531,249 888,320 915,312 1097,222 1229,241 1157,248 1300,262 982,329 303,236 697,236 1278,244 1189,218 647,282 805,241 959,341 833,253 603,253 951,359 908,350 1247,244 395,274 397,257 1223,231 843,306 543,235 995,283 1213,210 1179,248 394,246 1279,263 303,255 536,238 1138,270 507,250 294,276 618,230 434,251 994,275 540,238 873,327 338,251 512,225 1058,260 849,259 865,249 458,259 318,292 658,244 1273,253 271,244 860,306 287,262 1065,269 595,264 1029,213 531,264 1128,249 1289,292 566,239 230,219 1108,208 402,236 653,254 791,237 889,291 926,262 228,263 1223,251 1019,273 339,289 1033,279 1042,256 232,245 1266,247 329,259 732,248 1306,268 407,267 1102,242 1180,253 265,283 291,242 1125,283 245,227 811,261 1213,225 1172,272 341,271 1129,226 489,244 1304,223 661,281 990,299 598,255 990,273 901,320 1035,232 289,269 333,284 1049,268 643,268 1073,253 577,249 579,266 695,252 415,246 905,298 346,266 598,242 879,282 894,256 547,249 706,235 601,254 652,274 1245,250 1179,232 1311,262 893,335 243,243 1269,257 818,236 634,286 1175,257 686,306 831,268 1190,221 523,269 635,237 394,239 1178,220 389,267 1297,251 1054,238 812,185 414,269 945,324 949,348 651,236 1111,286 464,281 390,268 797,239 1288,270 478,225 474,252 1150,264 429,227 1135,211 625,286 907,333 609,237 859,304 632,244 1142,245 873,333 1049,254 813,236 493,252 371,235 1078,232 1028,247 914,328 363,248 610,276 461,262 473,266 1273,249 636,281 1038,251 628,227 1170,235 616,212 1175,251 324,258 1045,256 534,261 985,274 1191,271 736,251 342,276 594,252 309,246 443,247 427,263 296,250 675,270 1083,284 1152,274 359,247 975,346 308,269 979,315 1134,245 934,308 725,251 1180,237 1175,240 407,293 1180,343 1108,240 954,370 283,304 703,256 646,269 742,238 1125,255 670,248 1079,406 562,253 415,247 293,295 304,257 1054,244 260,258 680,228 490,223 587,267 883,290 1252,220 967,424 621,237 233,239 698,257 897,299 448,255 879,296 506,274 743,232 428,273 389,233 231,255 351,282 955,326 978,359 879,282 1146,303 304,242 222,288 709,241 1167,247 788,261 1153,261 266,220 311,259 951,377 1145,275 1258,194 1235,256 644,270 899,332 1263,242 904,324 706,258 1216,245 237,254 881,308 736,242 538,247 262,228 1124,275 1179,272 1272,263 748,257 500,267 1151,245 1298,218 663,234 1058,256 575,256 1109,226 388,224 834,258 334,259 648,240 554,245 377,220 979,400 1221,255 351,232 574,228 1175,268 1082,249 998,266 1241,256 1205,249 1118,261 956,343 861,284 1048,252 744,261 475,298 305,272 513,256 725,245 729,256 623,229 817,250 883,313 273,251 984,304 1274,239 593,237 263,284 969,351 290,246 748,265 493,225 1101,278 1265,265 583,269 807,252 894,306 1170,262 1212,272 330,263 343,283 1217,260 996,257 498,266 512,282 353,249 867,287 1194,179 1127,233 524,334 636,231 1297,274 898,272 661,258 945,322 558,250 1085,285 572,263 965,375 217,288 406,281 1122,269 785,255 937,331 701,253 1177,246 428,269 844,334 1164,253 330,262 317,282 708,262 1287,230 562,254 1071,257 964,374 739,294 1002,244 1003,237 1106,275 475,256 645,264 1098,266 410,236 985,329 581,294 856,258 336,256 398,260 672,284 791,254 1311,286 384,257 761,259 985,278 908,290 336,244 935,313 947,348 409,275 332,257 599,239 977,348 815,248 533,250 829,257 1144,243 1097,257 455,270 1147,247 625,260 356,274 815,257 1261,245 410,219 532,232 810,256 760,284 1202,253 1202,303 1220,309 1194,245 846,316 785,272 459,254 1034,277 854,298 657,251 414,238 343,271 250,267 1288,240 283,264 1015,243 802,233 557,233 256,252 240,252 1281,256 356,261 660,262 681,241 239,291 628,259 1095,233 436,256 952,323 468,252 379,264 1198,257 503,252 1239,253 536,195 300,269 504,228 419,224 1170,246 726,239 438,259 740,247 337,236 743,235 478,234 637,228 1238,250 1026,249 573,194 428,238 597,247 449,248 955,345 988,326 1052,250 1249,295 454,251 955,325 950,324 733,265 1123,288 1179,240 275,250 870,288 572,219 923,342 428,277 975,350 252,240 537,276 1043,262 959,357 1140,239 961,306 938,352 1186,266 1130,230 817,269 657,275 1168,224 360,208 340,244 233,257 942,388 1158,239 857,305 1147,263 1231,238 1122,246 472,317 877,331 881,338 991,311 1256,248 806,174 911,311 893,304 584,275 686,244 1014,272 815,260 979,387 629,253 1286,245 961,367 1044,248 1119,219 992,281 521,255 240,233 970,381 1232,284 1141,231 384,240 282,215 1122,238 567,232 233,209 413,254 1118,255 379,251 333,244 970,364 1222,243 1179,274 1206,250 230,273 1258,261 505,240 1206,280 375,265 837,325 572,234 1156,250 1279,248 401,204 701,255 652,248 660,250 504,272 1158,256 1221,248 1291,242 1046,252 289,211 598,279 832,265 650,257 706,244 529,259 315,246 1075,267 271,253 405,330 1282,221 350,239 1082,256 1276,234 725,248 940,355 484,273 807,241 667,206 625,252 1228,260 941,308 904,342 1170,250 390,275 230,250 297,313 1214,276 381,269 1019,256 292,241 833,258 1097,245 639,268 588,260 1129,252 301,249 1224,279 228,253 825,256 1199,236 788,260 1026,253 894,303 911,303 1053,267 1142,252 301,281 1188,263 1024,241 1036,272 1175,245 1103,248 459,221 403,252 409,256 1273,227 940,338 560,261 1044,250 1239,263 1229,234 826,249 948,357 561,250 630,238 687,247 671,228 748,230 983,358 577,243 242,259 547,232 351,238 926,323 449,263 824,247 1150,227 877,279 277,234 491,259 1200,250 226,228 504,193 316,254 1116,268 1187,253 823,255 1122,278 894,311 1088,232 588,243 1224,229 256,307 1116,251 971,360 432,268 696,258 579,235 1015,264 1037,247 895,396 1028,259 415,239 406,234 426,265 1239,264 1087,245 1091,241 576,250 1097,260 891,276 473,242 287,252 606,247 1293,260 568,273 1083,213 673,267 406,256 379,267 568,237 881,302 934,362 889,339 680,272 408,255 339,237 1022,249 736,220 486,245 507,266 902,310 913,361 511,258 1313,263 1120,257 1245,195 483,264 520,275 1142,248 481,266 409,252 303,253 933,349 960,397 509,254 434,273 532,248 1098,264 405,233 503,258 1049,261 991,250 634,248 695,236 761,253 366,257 1206,253 504,261 278,255 291,215 1196,257 278,262 723,233 1184,262 233,242 1121,247 697,254 1215,256 450,266 1307,245 1086,256 1042,234 824,227 679,276 859,289 386,262 1240,240 625,295 1236,244 1072,244 526,265 984,347 619,249 612,253 268,241 1102,245 897,321 709,276 1226,246 1046,253 983,305 425,242 879,288 600,230 387,255 513,248 1130,257 350,267 824,261 506,249 941,330 1225,293 612,259 1022,233 628,259 481,251 645,248 295,237 531,270 556,275 1126,266 1151,278 972,350 745,229 1194,226 271,253 694,275 831,258 1290,267 633,254 594,267 978,379 808,257 893,311 946,323 1132,213 501,236 808,255 1297,263 887,320 411,255 957,397 936,320 1075,251 876,296 434,218 1132,267 961,340 1139,229 1177,199 354,256 1259,267 536,198 1272,272 1292,267 500,236 864,316 1071,259 1073,227 1119,233 833,229 738,270 1242,294 1221,259 744,231 1226,245 605,196 1302,229 497,227 522,268 524,258 538,235 507,250 744,233 721,244 234,240 545,295 1298,239 627,242 1195,302 1028,280 1112,235 1076,270 601,265 338,237 457,244 925,366 904,305 453,228 1213,284 998,291 927,330 605,234 387,247 1035,284 1149,260 724,247 496,262 386,240 726,268 284,152 1068,286 608,276 1095,252 732,249 944,317 557,243 1308,224 968,335 359,284 1258,252 235,304 673,265 412,275 879,294 952,356 1216,265 518,253 232,285 461,255 1256,247 571,231 336,278 669,247 622,236 641,245 510,266 281,247 869,318 423,271 266,239 706,263 344,295 1109,242 558,267 584,262 545,263 894,312 452,300 952,279 559,207 464,246 593,266 1201,288 1117,252 239,290 1224,250 688,269 1232,270 543,208 551,278 263,234 749,249 1032,237 660,240 653,232 232,245 1121,274 1271,208 973,377 359,205 1026,263 1113,259 296,263 683,263 835,258 529,228 303,284 953,355 1193,277 474,252 674,221 753,237 1271,278 380,256 405,275 1138,247 730,264 440,264 246,226 694,256 675,234 433,313 1256,260 824,244 1014,250 241,268 1313,257 705,236 587,245 359,239 1170,234 1253,259 583,242 949,378 579,269 954,375 526,235 1017,272 357,250 632,241 990,317 999,249 523,234 252,260 821,225 258,268 371,247 413,273 987,304 1070,228 366,241 1178,255 976,386 971,398 236,259 336,228 670,243 549,215 400,251 1104,267 1310,248 1267,235 927,319 475,266 1271,256 302,258 738,255 408,287 607,236 829,283 222,227 673,300 1287,253 405,235 555,261 1182,243 1046,242 975,348 621,253 1085,228 832,251 1149,242 1054,247 869,294 703,244 843,230 808,240 1104,242 296,254 1232,244 1119,246 361,218 1163,236 575,269 872,285 629,254 307,216 992,306 1107,273 377,250 312,253 705,243 1198,251 1217,235 1203,184 477,251 904,329 855,317 972,344 602,214 501,246 950,398 1000,283 398,252 1217,235 903,341 795,235 324,255 466,236 557,276 624,273 591,275 330,245 975,347 301,227 524,233 1221,251 688,264 911,307 1000,249 1273,263 1262,282 301,250 693,252 826,246 358,245 1303,226 283,216 951,373 744,249 1310,233 850,207 908,320 1048,280 298,263 1241,249 454,260 751,258 1015,293 663,258 1139,316 929,317 900,323 435,261 664,254 1029,221 548,245 748,242 266,225 683,248 282,242 585,259 478,262 1189,238 533,254 700,239 1038,311 1207,207 320,254 218,264 1220,225 575,269 549,231 313,252 918,311 1175,271 324,258 1064,247 1093,265 1189,249 1023,226 433,247 352,268 816,249 1293,227 1265,239 558,253 549,238 997,282 898,312 1004,236 1115,263 1176,264 955,346 1090,265 890,315 1141,275 382,238 244,289 1290,212 814,228 622,227 1148,245 628,258 1193,263 1285,273 1043,261 608,249 596,258 729,246 341,242 976,378 497,261 256,250 1017,265 397,243 949,328 1305,225 1260,225 344,258 264,249 905,304 957,337 470,219 490,272 512,251 956,329 313,243 501,247 1094,261 392,253 1038,262 1176,232 1192,286 1198,248 1279,284 1147,293 904,324 545,245 1311,256 457,267 262,241 819,181 791,252 1058,257 434,251 606,250 558,257 851,289 1001,243 296,244 962,364 1048,251 895,299 1237,265 411,255 972,318 646,230 231,256 1148,269 1118,249 1148,237 1250,257 1043,259 1299,289 328,260 706,250 1128,274 265,243 477,242 387,262 1213,241 328,269 427,239 1168,237 1096,254 1261,245 306,225 1184,256 605,255 981,329 1016,244 822,268 965,371 1128,225 845,317 513,246 622,269 1250,250 936,364 1221,243 880,291 706,240 1168,253 784,236 621,231 539,273 444,271 1151,242 1103,265 1144,254 1249,255 349,308 644,281 376,263 674,268 552,253 989,327 407,246 553,217 1233,268 597,254 425,252 1206,261 446,262 853,265 618,254 665,242 845,280 757,269 353,251 260,243 1306,254 685,250 624,253 1050,264 1313,269 370,243 1089,244 1242,237 552,297 896,326 475,225 870,297 251,290 271,228 512,278 1194,235 427,258 693,204 875,284 451,275 1291,260 591,272 816,235 916,315 1291,238 978,349 1155,238 658,253 549,274 1050,308 1014,246 466,260 437,256 1024,217 574,235 308,263 545,267 456,271 893,330 648,289 471,275 433,273 1163,253 302,245 353,244 1117,281 662,255 686,240 1168,263 807,255 242,257 1124,263 400,256 895,297 1066,276 584,259 660,247 598,246 947,390 1049,281 1164,248 1153,225 533,250 976,339 1282,267 858,320 1079,269 524,231 698,250 684,275 852,287 1180,251 746,253 880,280 305,248 1264,272 952,352 868,302 749,254 337,248 951,378 818,221 1045,270 548,257 955,377 475,242 957,366 980,351 744,252 474,224 582,231 682,273 436,237 243,257 863,347 1239,248 945,350 292,273 1110,262 220,273 739,258 362,245 978,368 1273,254 497,249 1279,232 311,367 1248,222 1071,210 621,248 1055,228 239,236 449,269 552,233 585,231 383,234 601,245 1277,257 352,243 1097,243 846,279 834,318 1116,249 1135,273 379,254 745,271 1303,268 529,256 1147,282 1064,245 1094,260 1148,313 1310,248 389,249 800,225 1146,214 1303,256 982,343 242,279 672,384 461,258 353,253 313,247 1115,254 955,346 1067,257 724,257 1078,260 1097,256 1273,243 759,290 1014,254 511,259 339,253 282,312 1287,251 311,231 1069,263 1217,227 922,311 1304,247 1067,270 517,227 1057,280 1195,323 610,217 431,236 285,244 552,277 784,264 1191,190 1125,254 397,246 940,356 628,256 1292,219 545,238 435,268 989,290 489,256 1214,215 1242,249 543,253 280,233 942,300 1199,269 243,263 474,282 1242,239 1309,238 1169,243 1117,232 339,275 1059,254 572,264 997,260 525,274 301,235 1149,291 634,249 387,250 958,355 1275,259 1302,230 241,248 576,264 674,218 1273,275 314,230 1021,261 1248,208 1149,261 564,239 288,254 531,209 1242,252 1216,257 522,277 307,289 1220,270 593,245 254,293 664,259 1121,270 1226,245 483,234 629,252 239,244 553,283 551,205 1183,249 1242,230 306,239 1120,249 1147,254 684,262 612,257 1250,265 271,291 630,256 256,240 465,236 547,263 682,241 330,231 1053,254 864,251 1174,289 406,272 709,279 538,249 728,291 852,306 596,252 1150,255 1114,244 528,238 1301,269 1214,222 290,253 665,242 760,284 675,245 1047,221 746,258 391,249 424,270 1082,242 796,248 356,251 702,271 1082,231 1040,258 1265,255 1077,282 1108,344 489,260 1296,237 848,322 584,227 1105,211 446,264 326,274 865,318 1282,254 1085,256 353,215 920,337 438,275 815,232 726,257 1216,247 636,255 253,253 275,282 375,274 448,259 905,330 1171,238 1196,232 819,265 649,242 689,257 993,300 1187,229 1129,213 621,255 1292,255 349,262 398,250 1111,238 1143,265 342,257 1304,275 565,241 637,281 434,255 1251,300 1214,255 993,308 1226,226 1173,246 735,217 960,386 405,230 1150,259 741,257 284,284 554,269 278,229 921,317 1153,248 379,241 287,244 1255,262 942,330 580,238 1178,247 239,244 855,274 1295,252 641,251 1263,248 571,231 891,306 653,270 243,266 796,249 1260,258 515,230 825,265 432,247 707,237 1171,236 1116,219 1205,244 636,235 1008,254 620,256 925,326 962,339 505,279 1224,253 588,243 998,279 550,274 967,328 694,235 1284,247 566,261 500,320 357,270 432,255 827,274 971,357 1071,259 967,281 271,303 1281,234 1239,247 732,228 873,275 457,287 353,257 948,359 1229,219 927,375 1191,230 423,273 468,245 1304,253 523,230 262,255 1135,262 617,269 1190,270 925,357 398,208 709,232 304,234 629,247 1107,241 1226,199 1167,259 1282,263 619,233 740,270 425,272 735,270 708,249 230,245 1119,251 550,269 915,307 1230,289 1284,254 1026,259 571,252 522,232 475,248 650,287 868,273 1052,265 1202,243 706,274 1048,234 435,287 978,353 829,222 1244,228 1221,240 255,250 1091,275 950,324 483,264 723,269 904,335 453,259 226,263 1262,258 981,360 666,226 1184,254 1257,259 538,243 1047,265 685,214 358,235 1126,217 1130,239 1015,257 407,235 674,233 1279,259 231,242 1052,251 1134,247 1311,255 483,275 709,247 1101,255 266,247 800,274 278,254 1022,284 414,243 952,391 430,253 586,284 225,238 393,263 820,246 1240,215 619,260 454,265 976,347 955,348 515,243 438,245 1091,260 734,264 878,306 1173,278 1306,240 1301,233 234,268 532,259 706,222 1299,260 473,311 943,388 319,228 894,300 308,263 1119,272 1093,276 563,262 561,253 1181,260 724,322 870,292 1301,251 587,219 855,313 735,239 1276,261 1004,257 232,258 1059,248 670,263 843,298 387,234 640,252 604,256 1129,239 1176,258 847,309 947,367 934,331 705,240 234,301 295,264 682,252 630,276 908,311 1264,276 672,264 573,272 274,272 603,238 929,304 567,276 728,263 1172,234 1256,249 1017,245 1123,244 254,268 872,337 911,307 659,246 1149,215 551,242 662,233 538,267 964,363 646,297 640,267 1134,240 264,242 286,275 377,252 433,224 872,247 955,397 854,308 1170,242 785,264 375,265 404,252 1227,282 1202,254 674,260 364,244 337,281 722,235 640,259 1172,242 391,279 1192,239 730,318 261,239 226,254 1234,252 1054,254 980,349 984,278 588,304 1310,265 489,219 257,242 1203,242 448,244 567,250 849,201 1088,262 946,334 959,349 474,247 991,290 1299,271 324,247 960,320 549,267 583,292 1266,294 305,219 1204,272 755,258 820,248 426,249 338,269 709,237 1279,245 601,256 610,240 632,242 546,249 408,233 993,277 546,269 1111,234 758,243 232,248 349,248 238,240 1220,277 829,270 938,388 893,283 475,242 1132,290 824,253 340,257 981,330 681,247 732,275 1289,255 241,245 498,255 1140,254 1282,263 330,262 623,263 1210,348 726,229 545,252 702,237 1130,255 883,305 343,311 565,242 530,278 237,218 616,249 848,283 548,268 577,240 539,276 1211,275 831,210 724,242 410,264 423,250 1280,242 575,240 789,268 942,339 794,244 1242,274 754,262 852,306 1073,260 955,326 1052,253 308,231 1063,270 436,259 733,284 282,234 877,284 1312,267 1297,225 1285,250 703,256 586,293 1173,258 636,259 263,252 950,342 419,242 709,259 487,247 398,271 945,309 553,262 1177,253 705,288 752,254 1299,273 289,213 943,359 795,256 681,232 484,260 488,264 708,232 956,309 242,272 386,274 721,250 423,298 1278,234 231,256 451,244 1243,195 860,302 901,274 1216,226 328,231 942,333 480,273 228,257 1308,286 983,265 1076,260 1181,269 296,263 653,242 819,242 465,240 1287,249 374,270 337,212 430,280 475,270 1270,247 1145,249 646,226 884,238 731,268 233,280 248,244 709,247 816,254 631,241 1301,249 635,279 792,266 1044,279 1157,274 1201,272 861,260 1170,250 335,240 1292,250 235,257 517,225 928,343 633,269 564,318 1036,242 310,232 1233,270 674,255 283,275 1308,228 510,221 1191,265 1041,247 751,261 1240,264 733,265 1313,226 1207,265 434,246 845,300 1234,229 338,258 362,251 1053,246 642,261 703,257 1123,225 1273,266 386,238 1070,285 892,289 475,234 436,252 454,255 1265,239 219,235 677,234 1029,243 567,267 942,371 1065,232 447,248 864,315 290,255 813,248 629,273 258,260 314,269 644,245 423,262 1052,261 423,242 955,364 303,255 413,244 359,254 512,256 876,300 1280,249 851,253 233,248 632,250 1097,222 1295,260 366,263 992,237 928,332 293,232 501,238 510,246 1219,232 978,338 1167,256 359,243 968,362 1125,259 1129,253 971,340 297,242 1004,258 1054,257 1108,241 1199,245 1289,241 319,239 1134,250 573,240 1190,280 1002,243 443,286 965,411 226,268 963,344 819,292 750,267 296,247 275,213 981,303 1099,239 495,242 472,261 630,273 1064,236 1145,256 1215,259 1199,245 522,237 581,263 1105,237 527,255 873,279 716,260 1137,204 505,260 789,280 860,256 288,276 441,270 262,265 834,306 917,316 1001,270 1151,344 241,232 289,248 827,252 753,279 677,248 868,299 243,281 826,226 238,258 703,236 820,241 1165,267 738,259 1255,241 1181,248 943,312 269,247 819,225 802,275 746,235 1070,242 509,200 978,337 559,243 1301,264 1239,250 707,250 504,247 1280,261 869,292 1045,255 1311,235 1040,245 1228,303 851,274 549,260 1034,250 1292,209 373,278 858,284 693,264 1119,251 904,319 585,258 477,258 973,339 219,263 629,236 600,269 1196,285 1025,257 708,249 647,261 389,314 356,275 809,244 922,328 1235,269 1169,235 357,208 456,248 890,300 493,255 691,252 1196,244 506,248 1179,249 1139,238 1050,235 870,277 958,320 1118,249 847,302 1017,269 754,241 706,257 617,235 1123,250 631,246 866,328 353,244 1070,242 748,236 932,336 1049,210 1278,273 408,240 940,313 1086,266 1214,228 885,302 1227,256 413,236 1229,250 1068,243 537,228 1002,247 614,230 1045,273 1170,253 311,303 1102,247 1195,211 1284,252 955,332 1075,259 762,268 369,258 305,209 1148,206 1001,283 994,290 451,260 240,233 636,225 659,251 217,270 729,260 1270,283 575,232 729,224 876,291 654,219 619,246 338,251 576,273 1060,277 760,253 424,266 812,260 910,310 628,244 1264,226 429,245 349,246 822,270 1008,250 1287,248 1125,279 491,228 381,266 226,241 945,332 370,299 1080,219 658,259 1044,260 685,229 230,228 1312,212 415,207 308,227 1047,244 683,240 921,332 1137,269 1297,225 236,238 1049,238 856,319 892,302 460,235 747,224 391,254 1181,230 509,237 1034,260 1045,251 1226,252 233,256 530,238 685,232 807,240 743,349 839,262 806,255 1206,250 523,254 1156,244 755,246 1001,263 413,261 1102,254 546,267 1126,237 1075,252 1012,251 629,246 1176,262 408,334 1124,251 1175,295 833,255 501,260 501,247 875,337 1312,246 1138,277 363,240 511,264 428,234 734,259 1251,274 940,315 934,335 1109,265 802,220 1112,247 974,358 784,238 1212,260 784,248 1082,247 343,252 1080,246 387,223 1136,272 1215,289 876,257 626,234 476,230 893,361 805,258 1216,241 760,268 635,245 565,225 1241,228 404,262 1100,261 817,246 890,315 1211,254 1117,262 681,238 313,237 476,238 503,251 1289,252 652,229 783,289 1004,258 1080,285 734,217 1116,235 312,253 1273,233 261,215 1045,184 291,226 612,263 1123,215 568,239 642,265 559,219 899,328 687,256 578,243 494,272 747,268 609,259 914,277 1253,256 1222,269 260,239 487,261 607,279 729,273 319,260 625,242 1287,185 1042,244 1043,255 607,235 899,327 404,255 357,253 529,257 1174,244 624,254 402,258 318,230 320,242 735,277 618,240 459,253 648,236 1160,230 1277,269 949,309 693,234 1100,326 553,238 966,395 1226,259 547,252 740,247 597,240 1281,249 938,356 1122,255 752,269 700,246 1018,275 1072,254 867,305 396,236 234,240 986,315 1062,264 600,241 231,241 250,279 552,252 492,263 518,250 631,249 582,244 480,227 350,242 928,314 580,241 1212,236 1053,227 919,327 1068,256 1043,275 1176,271 596,268 869,294 907,340 294,257 1119,265 1053,244 1248,216 533,252 494,270 1059,239 356,247 612,262 1045,273 970,352 1017,242 634,263 723,244 226,255 233,235 432,229 967,392 1280,261 224,291 559,237 938,347 1129,252 1162,252 958,370 876,331 458,262 1039,239 976,333 650,254 380,233 818,240 1194,238 424,331 404,268 1080,254 1106,266 1254,248 1113,260 630,257 826,241 1115,268 252,243 369,238 238,239 701,264 1082,274 846,403 924,340 843,312 645,262 646,246 957,311 915,331 362,226 1171,265 915,302 922,325 901,284 928,332 744,273 784,252 903,316 1069,206 947,328 947,380 376,227 1311,237 464,233 574,229 1274,248 804,225 488,225 557,275 684,264 637,273 1002,272 685,266 1307,263 1272,292 936,356 404,255 1178,241 483,213 834,289 650,249 910,337 1122,229 447,236 1143,231 369,235 1047,260 1292,250 561,267 1182,249 955,359 395,268 901,339 903,322 494,259 1147,241 970,373 804,275 248,265 741,289 394,246 475,252 1082,260 1108,270 244,227 1077,225 646,247 525,241 1062,257 330,252 237,225 747,260 492,264 1251,230 1262,275 652,258 634,245 617,253 680,246 989,312 551,272 1046,256 759,244 677,282 427,252 659,253 1162,243 246,248 1291,221 900,397 1124,255 831,240 444,281 314,285 825,260 677,258 750,237 513,257 1123,255 1195,269 891,347 414,248 525,264 974,400 887,323 1063,251 1103,255 486,333 856,283 1154,229 873,288 502,277 607,270 1130,260 800,257 734,273 919,354 917,323 1082,254 323,263 344,244 1294,220 876,312 1075,243 601,258 945,350 786,253 802,252 1048,254 617,252 231,257 964,345 792,249 373,250 514,257 1194,254 337,235 705,271 796,229 503,249 386,255 1009,251 527,265 400,258 1090,265 1073,281 1058,258 315,217 1118,256 847,254 1191,237 240,263 508,233 1170,261 352,226 839,294 1265,253 1205,251 845,284 950,332 303,243 1153,250 1125,225 244,261 746,234 1231,291 700,260 293,271 323,280 1205,248 230,263 981,359 630,260 694,238 1231,209 863,307 505,245 1123,258 377,266 1269,248 361,237 1190,251 894,299 929,360 331,259 399,273 803,245 1237,238 1224,260 1198,242 628,255 403,239 265,185 1013,263 364,249 993,273 1281,267 362,235 555,268 284,251 929,328 521,231 232,242 428,256 838,315 1053,263 1147,250 558,254 1009,243 639,247 459,260 748,260 574,294 395,235 840,268 1116,276 1200,244 630,270 1017,273 455,278 506,265 910,328 894,312 1206,233 893,337 506,299 253,258 894,337 1310,313 963,350 217,281 650,258 1301,247 549,220 1237,234 561,293 382,247 1227,254 1072,289 1058,246 725,299 662,250 743,285 391,242 503,242 735,291 335,187 679,252 885,279 1084,227 320,245 347,212 1249,253 343,266 984,296 732,282 439,237 840,286 687,249 635,249 1167,224 1103,253 1251,247 465,252 1064,262 733,262 882,306 396,269 1052,261 403,258 259,253 1100,287 295,234 649,252 977,346 582,242 261,253 452,243 234,257 980,289 935,370 400,231 1064,252 1047,241 309,266 1152,229 391,234 1002,257 353,232 336,240 656,243 833,284 1312,259 1121,303 283,272 434,275 393,271 334,248 1016,231 1069,245 1153,238 1143,254 423,258 624,249 650,264 1192,253 1196,247 441,242 1121,246 412,240 1088,237 1083,272 1202,300 493,253 906,333 886,297 896,312 274,236 1104,250 901,322 825,229 868,266 1195,262 467,256 557,282 1292,243 1027,281 1229,282 648,263 603,315 1273,265 672,241 1267,254 922,287 334,270 1231,220 1244,258 329,245 1255,270 877,315 1176,253 1205,250 1085,254 440,257 442,255 509,264 1145,244 742,240 312,273 1197,234 230,227 446,239 1206,280 787,243 594,264 969,394 268,269 505,276 727,287 849,276 339,256 1129,247 869,291 631,178 427,267 761,239 696,270 1051,254 651,271 1222,238 658,266 491,265 318,272 615,244 1138,259 399,268 620,272 408,243 298,250 378,249 312,278 402,249 986,292 1112,240 845,240 1118,227 1126,261 1046,235 438,244 1276,229 1075,235 679,239 331,259 434,246 547,262 381,253 673,229 451,246 535,265 676,276 1049,232 278,216 807,293 235,287 641,248 414,296 1129,237 598,269 1121,264 1055,229 980,322 291,271 636,257 1189,220 1044,257 907,329 1064,236 624,233 340,257 1128,235 1087,244 926,328 1197,277 329,270 1312,274 1240,264 335,238 820,275 1295,251 1042,270 727,258 621,245 1292,227 531,260 471,250 598,287 1239,244 302,253 748,244 798,253 631,272 1113,265 805,232 721,244 1152,247 334,239 978,359 761,275 603,251 1060,255 381,258 942,324 834,276 379,253 355,261 948,357 1154,262 402,225 900,312 476,268 560,284 573,263 676,259 1166,289 727,276 746,276 1062,251 290,257 561,250 650,214 555,258 817,229 574,241 703,267 226,262 1188,266 624,266 344,220 324,259 735,251 1114,249 880,307 1216,263 459,287 967,306 907,302 957,351 1194,227 799,256 760,214 316,219 1286,259 708,262 260,204 622,251 673,259 799,275 1242,236 627,251 581,356 1247,235 1038,241 665,251 439,264 544,249 851,346 403,254 506,229 825,243 664,269 297,256 1044,265 1213,266 267,238 555,248 325,240 409,252 868,295 925,341 741,276 564,244 729,254 626,279 989,274 857,271 895,317 1196,249 1139,261 873,327 268,241 685,323 984,326 990,303 367,225 1250,296 740,247 422,277 661,288 386,261 977,347 598,269 817,226 396,251 1266,245 1115,257 1057,275 619,255 634,269 538,252 1304,275 530,249 329,219 1192,252 1311,249 577,309 1222,257 787,227 434,277 1291,260 418,247 677,274 1200,255 506,260 288,249 887,298 1233,263 992,298 1213,235 376,245 536,250 1064,248 840,297 525,205 580,260 974,360 1172,225 994,276 1113,242 235,242 1135,288 604,253 1018,267 252,246 468,266 231,333 1185,231 1108,255 1237,250 625,250 633,240 612,267 410,218 497,267 1013,258 1212,267 945,301 1150,233 308,260 1131,231 793,255 481,248 289,233 1087,250 1043,266 667,251 438,240 939,347 904,294 336,259 1159,280 864,295 1266,263 461,254 893,311 1293,235 464,293 628,240 1204,252 313,236 1123,266 423,300 574,328 569,247 1278,246 1229,259 754,316 430,265 1206,227 932,362 553,239 733,240 1201,243 931,298 468,262 640,245 760,230 1007,261 423,244 1218,270 328,269 1133,229 1086,253 900,322 294,243 942,421 1086,253 1183,251 909,296 308,270 280,249 883,316 1237,246 655,229 1196,260 1003,237 644,233 1107,251 687,257 861,281 955,320 397,259 529,269 725,279 949,333 809,238 305,233 678,254 1211,251 236,245 345,265 749,248 1134,259 1023,248 1104,249 815,238 585,273 531,217 515,293 1284,241 321,252 950,358 651,226 662,257 744,260 389,234 646,260 687,239 934,337 939,328 247,265 733,290 1303,246 559,213 1040,242 630,264 850,232 480,247 1289,252 583,255 630,255 893,343 1163,239 1155,266 940,331 592,259 749,255 577,250 1082,254 857,319 586,262 505,241 557,265 222,252 336,231 931,299 510,262 402,250 902,284 1216,231 281,269 1263,245 1146,228 499,238 355,267 529,276 626,254 895,303 233,228 577,270 725,251 1086,253 1192,260 846,283 949,380 796,275 847,303 274,282 444,232 1287,258 706,265 696,240 708,270 953,325 497,277 788,229 1288,252 1164,259 369,273 281,267 985,339 339,221 487,249 302,257 513,201 523,247 632,246 848,274 532,242 643,268 1260,216 280,314 497,264 686,242 1050,215 1144,273 648,247 581,261 1302,255 472,254 428,266 345,281 1211,296 287,269 1054,233 697,252 1272,270 1173,242 310,223 633,254 1285,239 751,229 649,277 433,265 679,264 1252,298 1159,245 492,258 410,237 626,267 1233,247 434,256 458,208 976,358 1237,265 723,275 385,241 551,232 627,245 311,234 894,324 589,277 1147,261 880,334 277,247 448,249 645,292 846,293 369,262 498,238 675,259 622,252 651,238 649,255 630,258 1105,244 725,261 837,236 823,253 1191,282 1256,219 660,216 1301,258 444,246 622,250 1070,226 927,304 476,228 913,373 1005,254 343,262 896,311 246,262 669,250 597,279 385,222 951,306 929,324 1277,265 872,283 1053,272 493,261 1264,250 888,310 1304,247 579,270 356,252 405,269 585,265 396,242 1149,257 1253,250 649,228 535,244 1167,268 882,305 586,230 1265,278 707,253 645,224 487,266 665,235 1096,287 998,273 369,251 458,209 1133,226 411,226 1113,242 467,258 293,243 1057,246 740,266 869,314 352,244 954,329 671,261 1190,359 651,293 403,250 957,330 932,422 733,263 313,245 408,263 1059,273 983,305 747,248 806,255 1191,278 1103,291 316,262 237,232 256,268 679,277 462,252 547,304 242,286 979,326 1301,331 1074,267 1157,237 274,283 537,232 673,289 390,226 1300,242 663,257 405,226 929,314 644,248 346,273 348,241 746,270 1100,244 277,256 936,307 1260,235 1252,258 482,263 505,276 1198,254 659,271 254,266 524,246 653,220 561,237 968,409 930,367 739,271 1126,248 795,266 438,252 1100,225 1169,239 709,209 965,394 732,240 1091,262 1189,270 1100,259 365,227 366,285 535,233 359,250 1252,258 265,259 624,251 731,274 1033,293 1078,244 402,246 555,265 695,244 848,293 669,288 302,252 448,258 558,241 405,221 1229,249 900,317 474,247 1227,268 596,251 343,277 538,247 300,230 378,273 1299,258 551,250 729,245 1205,283 1023,231 840,297 928,363 283,235 1273,238 991,284 634,252 401,264 257,241 232,243 704,252 725,243 486,251 732,234 1231,252 509,269 1151,269 390,266 1153,226 893,330 495,243 630,254 795,225 590,245 1159,257 1243,264 1273,254 1142,236 676,267 1079,270 723,253 1041,240 894,324 450,256 610,239 825,219 408,263 1215,275 954,365 1123,253 683,252 1125,237 1239,277 525,252 741,206 377,241 627,288 827,254 739,247 269,258 425,259 1037,236 898,314 391,249 325,253 1275,316 1226,246 926,339 959,339 897,334 1215,237 1094,238 754,234 1072,233 438,212 895,290 943,370 633,258 480,244 1119,272 798,239 851,380 1160,238 1048,295 979,345 1099,246 947,313 1286,292 377,213 1030,261 927,343 221,260 580,258 733,283 681,235 534,238 1003,293 686,281 287,256 899,335 410,243 1260,196 468,258 474,268 744,252 789,279 1306,286 541,240 499,257 408,237 942,355 899,335 584,245 875,293 898,316 1025,250 515,269 542,241 1045,244 452,247 1028,269 741,271 1019,251 351,229 758,254 861,293 899,367 1097,285 872,276 1253,251 505,275 1049,269 1307,241 623,258 563,237 510,281 538,275 867,312 871,307 529,263 725,237 340,263 291,252 1292,267 326,249 669,266 958,369 1215,267 672,198 808,300 479,240 535,233 1189,249 451,221 637,276 736,241 894,395 817,247 1038,284 1296,261 1149,299 1171,259 326,267 302,256 671,244 972,347 490,262 1013,220 1278,240 1229,256 378,275 529,233 428,254 684,256 950,359 1197,251 319,259 461,277 1177,262 761,238 312,243 657,252 1006,269 1220,216 292,268 1213,238 485,252 1136,230 682,287 927,285 742,276 479,197 1266,249 1101,261 760,246 466,247 577,230 1178,251 1290,240 510,260 285,259 1142,239 280,245 309,270 302,226 924,361 659,278 683,250 584,262 242,260 914,295 267,259 471,275 866,286 282,275 359,256 1066,256 931,307 1102,230 912,368 671,270 677,298 894,308 631,271 1198,241 1270,238 496,243 1153,234 808,239 678,212 610,267 987,293 581,265 1227,219 983,311 499,231 466,264 1265,259 822,249 396,259 339,210 1150,257 242,287 871,310 426,243 1264,245 1124,314 661,280 460,250 810,249 1263,255 630,201 459,244 1031,216 386,272 624,277 662,280 1142,254 500,258 605,247 760,227 645,258 411,256 370,237 987,276 382,274 401,237 988,298 1041,285 336,252 507,246 399,196 1195,255 522,261 705,261 407,249 342,262 691,238 611,305 247,242 283,279 1024,268 1212,275 431,263 483,271 549,239 646,225 235,279 1172,255 1181,253 233,214 1190,290 485,284 493,255 689,244 1119,264 1242,254 674,203 662,238 1122,262 969,362 701,229 265,257 822,244 235,209 306,262 549,250 315,236 884,311 327,219 626,260 1308,267 1104,243 424,269 1075,270 1024,226 506,217 406,251 642,255 788,230 937,318 1265,250 1151,260 894,315 969,375 1135,262 239,259 334,248 601,234 1300,283 826,234 313,268 1125,256 472,237 1145,258 1118,243 1024,245 521,280 222,253 296,253" marker-start="url(#mr)" marker-mid="url(#mr)" marker-end="url(#mr)"/>
<polyline points="1178,245 1066,226 387,233 410,245 433,315 888,317 977,298 228,244 672,244 592,264 307,238 737,241 1273,246 903,318 1244,227 806,260 401,239 1006,203 1035,214 869,289 1182,264 678,276 243,226 745,265 458,251 637,244 509,264 1011,201 360,254 257,230 851,268 284,257 474,254 331,230 1171,249 248,244 270,267 1139,312 822,267 595,251 734,266 414,264 1254,303 394,293 1066,275 530,274 227,229 1041,249 560,214 662,243 882,331 818,254 518,253 886,301 1012,251 405,241 314,253 501,234 580,218 1274,221 863,243 461,252 487,256 1188,241 509,254 973,289 1020,261 857,273 503,243 577,248 1068,248 345,243 922,293 787,258 1308,260 472,236 650,201 838,265 1296,254 1070,255 1122,194 998,233 1044,237 421,231 1174,273 1246,250 335,294 1064,244 836,274 483,241 1209,256 339,254 892,342 1066,266 963,313 1040,257 1118,247 327,247 1218,280 447,240 1158,259 1049,239 1126,254 1013,273 924,275 1116,225 555,302 918,306 1089,263 1265,249 1136,240 1170,286 1056,246 1043,281 1095,233 563,255 1002,258 956,343 477,253 1291,254 653,280 1004,250 288,259 1191,232 646,240 256,260 625,255 699,265 335,264 516,299 1151,265 580,250 315,242 1065,222 492,310 1128,256 451,186 1149,250 951,317 283,252 1302,242 405,287 799,243 541,260 1013,270 1281,260 402,210 297,230 1044,273 1190,255 464,252 258,239 267,233 1120,273 315,215 757,245 1253,224 576,230 1075,263 495,227 1069,235 346,244 513,251 399,255 421,213 538,239 236,229 508,256 1053,230 856,272 978,317 1194,256 249,262 1225,263 1183,265 1232,248 475,253 303,271 610,278 1002,244 1169,280 975,441 455,243 569,261 935,344 618,212 1180,259 968,331 636,257 1105,262 1238,263 357,230 1212,269 572,268 1181,235 660,246 969,346 679,274 628,285 281,276 1140,259 1293,233 673,268 1275,238 791,254 433,274 794,285 285,229 809,233 299,207 915,315 429,283 1084,263 581,239 866,306 951,302 621,290 1117,236 1194,288 1089,251 280,271 1128,253 1115,217 573,229 309,232 563,235 309,265 1228,258 800,243 327,256 375,253 616,244 1205,248 1276,259 1147,258 920,336 268,254 518,243 944,325 735,266 287,266 916,360 1254,262 1038,293 1075,268 951,346 943,323 967,308 504,249 346,246 387,225 849,276 909,346 741,240 892,346 287,242 526,272 625,296 363,312 659,253 218,234 871,298 1006,237 903,289 844,213 802,252 1065,277 227,258 1205,249 1114,228 898,322 1092,288 564,256 293,220 705,266 557,245 481,247 402,266 541,271 420,240 1235,253 525,268 944,357 862,296 914,336 685,237 997,226 412,257 1053,245 745,241 740,245 701,242 333,246 1241,247 1077,248 630,270 830,236 324,256 986,257 728,262 658,251 652,250 584,218 876,284 702,248 824,257 380,289 570,240 836,276 653,284 698,223 613,265 1298,261 649,264 1139,218 1288,248 821,254 807,265 621,232 1304,256 976,366 684,252 1212,258 334,234 557,236 302,276 680,227 432,246 307,289 870,304 707,240 1031,259 957,355 1226,231 490,229 320,237 318,236 338,206 1087,256 647,252 870,294 1262,284 747,259 488,230 396,245 1247,233 823,253 231,240 540,237 1227,252 229,251 952,335 1104,242 730,263 388,245 527,264 1143,255 334,246 1096,261 652,267 1307,247 929,330 1119,238 266,280 680,228 558,263 1177,259 645,263 279,245 646,229 430,247 460,246 843,289 481,244 1287,259 381,297 262,246 372,258 1150,288 575,234 286,223 907,289 839,282 917,330 932,297 283,250 544,249 448,242 570,243 350,258 645,257 965,326 842,288 1149,281 1004,269 1101,264 856,316 339,253 596,242 507,247 1241,258 933,337 278,243 299,237 281,245 709,258 223,255 634,228 532,266 305,238 1069,219 376,221 549,250 1102,269 1292,255 645,259 1000,246 821,307 1116,245 1225,257 1197,275 371,264 632,245 977,369 703,236 360,232 981,304 1278,278 696,242 1206,236 407,242 708,283 374,229 1158,257 510,237 290,272 480,243 1215,277 538,264 831,275 1289,242 590,249 1244,225 233,241 1133,263 1124,278 955,317 1145,270 478,285 446,248 1268,243 1278,232 880,289 505,235 881,295 1126,225 330,255 335,240 455,281 603,242 982,344 671,293 739,294 1066,244 1295,212 1237,236 721,253 544,252 443,271 513,210 1090,265 936,343 1019,268 250,287 882,288 1169,271 1234,241 635,249 1127,256 493,248 1010,261 1092,254 1222,258 848,243 899,327 880,299 411,223 423,258 1294,263 629,265 253,234 574,255 852,308 1254,247 946,339 279,270 1152,237 1127,271 918,309 1272,242 704,224 787,290 292,258 1015,234 261,274 401,244 339,268 1242,233 1157,255 1305,240 1244,236 897,299 570,250 576,243 420,238 504,224 1036,248 328,236 1141,238 749,255 737,208 1230,282 939,312 727,269 629,255 969,400 1296,300 526,264 1207,255 694,259 310,254 389,216 951,362 880,271 356,236 1190,241 289,222 704,256 804,265 843,272 1002,242 413,233 1090,237 1299,259 1308,217 955,346 1067,248 266,241 524,259 1048,234 831,247 1169,266 1277,257 1098,241 1252,218 427,257 603,250 556,260 403,276 291,208 246,242 1090,276 648,264 497,261 525,250 394,230 223,297 898,295 528,219 844,259 623,217 874,313 1300,259 863,304 952,338 643,262 403,282 318,225 1310,248 504,259 501,257 1170,254 1243,272 226,246 1020,246 1206,251 304,222 611,260 1047,254 1307,261 350,244 288,260 1040,266 510,238 1276,261 264,261 1218,234 1081,246 1265,267 1186,259 485,227 1203,235 607,260 1278,255 1037,257 758,248 500,232 884,296 615,229 450,225 797,258 1231,247 609,254 1123,238 226,243 1043,264 1223,250 232,240 887,277 753,246 1056,250 1275,279 482,275 742,245 1151,235 282,250 1310,262 424,283 685,258 975,361 610,217 432,261 510,234 1058,241 338,256 1185,273 1107,261 289,241 1187,270 1121,256 734,268 944,355 933,318 1197,241 526,265 646,247 615,279 513,246 977,327 325,232 239,211 1242,251 340,240 1012,235 1184,258 553,245 1309,252 969,393 1025,269 318,250 589,248 960,335 1059,252 395,249 943,319 1273,232 1262,253 860,293 385,283 578,245 1039,190 657,237 1119,235 589,261 1171,235 310,258 996,285 281,287 1250,280 693,277 572,246 1213,233 1176,238 1152,263 636,261 1080,262 863,313 912,311 755,248 872,299 870,302 855,305 436,253 388,260 995,273 321,232 623,221 1159,226 229,242 521,255 1186,357 610,254 1044,264 1169,259 408,200 681,229 600,239 1080,250 611,241 1023,234 965,328 1177,234 852,281 999,235 825,235 986,321 1193,260 447,280 953,326 641,267 1269,234 1140,231 603,260 749,265 797,247 1050,244 458,249 385,266 513,249 1218,256 356,269 1124,256 963,382 811,237 547,267 449,240 239,256 1124,264 1298,241 1024,259 968,351 393,260 817,233 736,231 458,208 784,268 947,360 1177,273 1251,301 276,233 595,262 429,252 697,235 234,244 427,284 1167,269 901,340 895,278 911,327 870,326 733,238 836,268 310,274 830,220 1016,275 487,246 499,237 1044,266 1302,239 1072,272 420,254 451,235 340,270 867,283 1076,233 1156,264 419,236 897,293 880,310 701,251 1137,274 627,238 1277,247 554,240 1272,252 1162,252 1187,252 554,248 275,295 1303,234 423,307 1049,265 378,253 1145,257 270,257 989,317 425,252 1141,243 1029,245 329,241 1133,268 895,278 859,267 1152,260 1094,260 446,266 739,232 483,221 748,242 882,271 1214,257 891,212 1041,266 683,291 432,256 506,244 548,282 1225,248 1224,250 727,234 952,296 1197,233 537,261 919,310 953,303 385,243 1145,233 1018,235 847,287 234,232 255,265 566,253 1092,221 305,245 236,259 868,298 246,252 819,265 236,238 964,326 446,273 1017,251 1112,258 307,251 247,261 375,248 1296,236 738,236 825,243 679,267 1160,251 352,289 628,241 994,282 799,229 1013,239 732,247 1155,276 1293,242 1153,238 373,229 745,239 631,244 1166,272 877,293 483,267 676,254 1313,285 475,255 241,238 543,254 662,242 320,215 1101,250 488,246 796,248 300,226 1252,274 432,235 749,282 952,360 505,249 645,227 1001,256 910,332 643,269 1242,226 869,354 550,253 276,243 628,251 504,246 1227,252 734,267 1192,229 508,265 335,266 805,281 706,264 481,258 532,258 537,265 1171,231 326,231 983,360 923,297 415,261 435,310 237,253 941,345 673,217 706,245 798,290 947,367 527,277 491,244 312,261 845,290 520,227 1126,238 1295,258 601,264 1243,253 561,262 679,216 238,241 1222,246 1032,246 673,275 428,223 945,321 899,289 220,250 440,257 1077,247 483,243 404,227 728,244 242,295 708,271 231,236 631,245 785,241 1268,236 227,227 559,282 745,275 869,311 432,196 658,248 966,375 910,306 607,219 400,254 641,267 658,220 647,237 931,357 561,257 1305,220 914,271 296,299 962,336 1070,274 632,244 1005,224 868,219 821,232 488,225 798,274 827,245 494,240 691,221 938,381 753,299 598,258 726,264 1146,203 454,221 1113,241 1248,245 459,256 424,243 493,238 1178,236 1073,248 905,316 955,329 863,255 1159,254 343,240 933,343 1043,253 893,282 405,237 1025,254 1002,269 609,254 1293,259 303,249 951,312 1031,248 947,318 409,269 384,281 220,285 894,314 506,252 723,244 510,264 1167,244 1076,229 1274,232 529,243 500,244 650,267 428,288 1177,250 584,266 628,274 1118,240 864,307 725,240 319,250 1121,272 344,195 676,260 941,327 530,253 609,249 643,289 556,246 466,237 808,265 1134,269 515,257 1215,275 1125,265 538,253 871,264 349,266 1078,227 1179,236 814,241 872,292 453,255 858,273 686,259 817,254 387,257 1042,234 1058,267 1077,242 1156,247 637,262 1243,296 1073,263 1156,237 1175,250 665,250 581,250 612,221 1146,249 845,285 309,255 552,257 407,229 304,267 462,294 997,237 1209,254 853,275 1232,238 564,246 832,272 1204,235 334,249 1103,237 537,239 963,333 1048,235 757,242 1247,235 1159,246 822,253 1129,275 1241,260 1086,217 808,246 1129,270 456,245 536,246 342,253 887,308 1210,253 816,276 339,241 1037,275 1306,243 317,250 430,262 890,285 974,363 927,309 1153,232 956,336 1270,248 571,232 631,285 442,256 996,256 569,237 960,344 507,268 733,280 813,285 869,301 1257,267 1250,264 1182,202 1308,228 463,259 422,266 455,235 823,238 1046,259 732,255 1086,278 1109,253 557,233 526,265 966,333 308,257 1052,240 1187,264 379,255 1214,277 1098,257 447,272 356,275 822,249 296,264 518,225 535,224 868,304 382,227 529,263 991,261 273,247 464,230 1029,257 1296,241 665,306 1262,254 377,241 1090,223 412,258 272,245 408,242 1000,242 556,260 561,260 1249,243 1194,271 1194,207 272,238 725,239 1232,248 622,229 669,254 1140,242 665,245 1281,251 1296,225 951,352 1030,215 1024,274 1290,225 1262,237 1239,281 352,263 875,257 945,304 392,233 549,258 305,266 479,224 883,258 818,246 449,263 234,271 249,236 498,286 603,255 476,246 511,268 277,240 849,279 1171,235 1160,259 235,257 1056,248 1125,224 332,214 446,252 658,264 271,279 1205,284 1073,254 1196,244 431,298 958,357 933,330 470,237 660,260 559,250 1296,263 1060,253 676,258 560,242 477,261 400,215 598,259 758,286 1247,237 1186,222 896,302 880,282 1300,256 894,314 742,261 871,284 809,276 1299,232 997,231 1279,251 499,305 450,261 1213,238 502,250 808,266 441,240 823,229 729,260 1120,247 683,222 617,253 1237,262 739,240 485,234 707,230 269,231 1222,230 399,263 501,261 1242,240 1081,257 600,214 277,233 1064,218 251,247 901,330 661,247 894,307 329,271 1273,247 678,245 957,333 1212,245 257,248 1000,289 484,249 910,318 1199,210 672,252 878,275 794,295 1178,280 265,245 743,243 613,245 642,302 879,261 1031,244 1107,253 957,348 1200,273 1165,223 840,246 1275,258 1309,242 642,247 493,228 802,249 579,236 1196,267 562,229 730,238 657,268 808,255 1142,205 1273,229 945,322 385,269 557,230 910,296 502,190 824,286 1049,277 1147,220 1202,251 826,244 462,231 904,337 1286,218 1088,214 967,347 363,216 1066,254 1115,270 1291,255 1307,251 601,252 1023,258 250,248 754,240 1228,255 299,252 1087,279 389,251 497,303 555,260 312,238 730,266 667,265 815,234 316,242 903,333 1026,274 989,269 726,252 997,298 463,262 902,308 1241,250 686,261 592,256 969,345 1002,251 685,273 1293,252 1033,255 476,255 630,252 1149,256 354,246 405,263 438,240 1231,243 472,244 800,269 417,262 885,318 724,246 1034,239 881,255 576,280 329,258 1222,293 439,266 840,302 1190,280 366,239 1195,256 1276,262 1134,265 266,238 559,219 648,265 502,251 452,256 746,255 512,256 1177,232 1224,252 828,253 289,234 307,275 374,258 611,251 1175,255 328,235 459,231 707,258 365,238 684,258 1206,256 662,266 656,289 1257,256 650,249 361,272 568,239 267,229 546,218 665,288 610,255 237,257 1281,228 939,333 1208,181 557,237 1224,254 308,297 1118,263 378,301 353,261 286,243 400,239 516,251 879,308 981,358 838,331 1027,226 285,274 256,263 313,240 1194,243 429,248 1170,205 872,275 740,241 272,244 695,254 611,249 647,259 641,218 1085,251 230,253 605,246 938,336 358,267 970,327 474,247 841,277 950,369 622,331 663,246 966,374 447,240 1069,252 1200,228 1264,237 559,266 1139,253 498,288 640,247 593,233 414,237 1098,288 1115,276 1011,216 1076,261 1110,246 1203,235 840,266 1043,221 1035,262 304,304 928,312 429,266 477,208 688,243 889,334 236,248 527,264 321,267 362,251 1029,244 841,293 1096,254 1114,239 750,246 1243,254 617,250 733,253 1062,288 953,320 649,243 575,262 1243,237 869,237 600,279 739,260 343,236 1070,265 922,314 396,241 907,323 1277,268 897,427 329,234 1274,246 667,198 545,279 819,255 806,199 957,314 954,380 1202,253 525,236 484,254 606,252 335,255 531,257 1290,255 1246,276 904,311 744,225 1203,305 453,238 312,282 1030,264 647,273 1015,217 997,228 1119,276 967,360 788,235 1148,269 392,233 474,240 439,248 745,254 832,242 1292,247 874,280 264,221 692,299 242,297 410,245 971,366 693,241 899,301 899,323 383,238 429,252 843,319 246,248 895,304 1045,259 1139,250 573,272 630,249 857,262 979,343 608,252 1207,252 387,244 936,316 1067,260 1191,272 920,262 1271,234 654,255 503,248 1190,201 1016,238 1030,255 745,215 572,243 1290,272 984,325 660,243 757,264 965,335 726,252 424,239 980,362 680,237 364,258 283,255 877,307 1067,299 1042,221 567,244 695,237 1053,275 405,220 595,261 1026,242 824,248 1150,243 288,235 413,237 559,268 501,275 1307,207 645,242 991,291 762,246 393,279 328,250 686,293 289,239 264,274 313,225 869,281 527,244 793,240 786,259 472,292 701,232 348,276 377,257 572,250 1280,256 397,245 1298,263 993,257 1176,272 1023,238 1057,261 388,290 258,268 1099,217 391,241 756,240 579,261 474,268 1243,203 235,228 503,243 418,246 423,251 1138,293 319,267 587,265 634,255 345,252 310,237 821,267 923,339 873,296 934,343 979,338 1069,244 378,240 1117,259 350,271 1176,270 1226,252 661,248 1091,243 464,244 790,239 238,219 868,329 734,257 307,261 650,249 290,257 1201,302 1253,268 668,281 1158,262 839,251 1044,198 1159,256 1013,228 961,354 607,243 506,236 948,313 430,237 1308,252 1293,257 894,313 1172,235 374,233 703,231 1023,270 505,251 538,249 694,235 241,296 1016,261 607,252 333,297 1151,278 1114,259 1244,258 899,317 487,273 530,254 638,252 1105,252 436,256 436,282 998,265 434,228 497,266 684,239 855,290 956,331 708,223 445,248 422,326 905,294 1119,233 288,236 234,257 872,300 1226,254 1290,214 409,232 1190,237 644,229 783,249 1124,239 1215,269 1146,245 1016,234 357,260 797,245 242,231 497,236 948,374 1098,231 625,270 883,322 422,260 1206,240 945,339 855,239 1139,248 542,252 1098,260 1151,253 217,237 303,227 975,340 1032,275 239,252 578,250 491,234 1022,269 874,227 588,217 953,291 383,262 482,249 325,276 755,255 1045,218 969,350 826,231 464,263 624,236 1053,250 1216,244 514,264 1107,245 657,246 503,250 836,280 629,255 576,263 1092,237 340,267 1017,249 1053,237 612,245 619,265 298,246 702,243 1116,297 511,269 630,265 525,254 342,264 1215,223 880,322 355,261 468,247 1087,255 1301,246 1220,246 788,261 664,242 1044,254 1196,244 736,240 1215,318 974,344 904,276 940,318 412,230 895,313 819,239 1226,262 611,251 462,256 391,244 248,256 1224,267 321,253 886,325 279,276 481,254 1047,275 1273,247 1166,249 918,284 787,262 1295,244 450,237 897,302 552,262 405,251 739,255 1096,244 379,256 926,327 1192,242 826,252 576,271 1014,268 385,248 404,241 997,298 1119,276 313,245 1201,253 625,263 390,249 503,269 1250,232 1146,231 354,241 302,235 938,392 785,255 472,251 608,270 428,306 649,255 731,258 961,350 855,304 591,242 412,244 935,371 291,232 974,339 573,246 892,296 983,306 850,301 1231,253 1090,270 568,267 1049,246 1192,233 629,251 1291,259 470,260 529,249 1273,271 1103,245 747,293 320,186 951,333 732,281 360,231 546,264 1079,265 539,235 1178,259 812,264 629,268 393,257 1050,240 415,299 328,240 893,344 310,256 565,277 475,225 1216,261 1059,227 868,301 1196,261 442,241 350,250 915,313 1247,259 674,247 1222,226 339,282 485,233 971,359 431,225 1200,256 1120,233 979,315 309,271 637,242 587,262 579,286 596,247 726,279 909,348 582,215 955,412 1067,254 603,247 615,235 1017,241 819,276 1181,215 702,249 312,253 658,244 1190,231 963,349 951,345 786,268 952,407 923,322 527,183 308,258 266,229 981,300 1089,234 378,276 724,261 313,251 1122,294 633,245 405,232 1073,251 851,337 1043,279 573,254 581,252 819,245 636,254 504,254 871,328 544,240 786,249 641,256 980,295 474,222 566,246 548,260 1128,232 512,259 1211,256 1165,256 734,275 829,233 251,260 1038,247 557,217 571,268 579,272 1234,262 1177,252 951,295 940,330 1116,232 415,267 1113,263 390,264 1043,279 238,232 454,249 528,263 1031,290 414,257 1100,250 691,228 429,265 647,270 1066,295 222,252 255,244 630,258 239,236 1063,266 232,242 294,270 447,248 645,248 317,246 559,228 705,255 1228,225 312,267 1204,265 968,368 492,268 922,338 1284,253 845,283 1083,305 929,310 917,309 1275,272 1289,300 811,277 266,233 274,268 391,250 465,255 570,257 972,340 479,267 644,240 537,268 300,251 1263,272 750,277 1307,243 838,296 1119,252 1018,271 1131,254 226,235 903,341 285,284 735,240 627,241 829,252 1040,247 1110,233 867,290 286,278 346,249 326,236 906,343 866,330 866,313 335,237 496,242 967,396 1269,247 1241,237 359,240 1037,253 460,244 805,239 979,276 276,256 524,249 479,287 1225,249 375,239 1146,255 739,243 652,263 236,263 264,240 1039,224 1236,257 1257,256 558,282 1250,229 1039,206 361,268 1166,252 1294,244 219,260 808,280 958,388 965,349 952,320 1123,269 630,253 1195,227 941,337 1174,224 578,260 1132,277 1030,259 980,323 635,268 960,298 407,278 754,232 847,252 576,193 543,236 497,249 1275,249 458,231 533,245 1127,250 824,238 462,236 1071,253 468,258 672,229 404,254 664,250 1203,271 266,266 438,235 937,316 401,230 990,302 900,321 472,234 795,255 459,256 1026,215 1210,258 966,353 484,250 591,249 280,230 883,282 1047,273 454,289 629,230 1188,241 958,357 556,244 872,282 364,261 577,254 1289,267 1052,246 1312,257 1019,239 433,263 843,288 707,244 828,204 278,239 611,246 1076,247 929,321 350,246 1159,249 450,290 930,330 1227,237 1118,247 1108,253 446,247 1192,290 398,245 671,274 296,233 526,244 755,282 544,277 1108,262 976,340 260,257 403,232 1199,228 849,297 1313,267 529,270 337,259 643,214 286,273 327,262 275,252 367,231 1227,238 1114,250 1205,227 913,288 865,240 977,328 344,265 436,248 700,269 1156,221 427,237 452,252 641,297 852,298 675,244 1075,264 827,271 1200,251 980,312 1248,256 422,257 1193,254 404,272 349,239 755,263 500,250 468,265 232,272 623,255 681,258 992,251 652,227 899,301 1100,244 455,265 358,232 1103,257 1251,272 686,274 286,256 729,265 1172,251 239,285 960,327 1024,270 556,242 355,216 396,257 1108,267 1122,256 1250,260 1044,250 405,254 895,342 531,268 1288,266 709,244 990,316 250,229 659,241 561,272 704,271 1017,225 945,340 651,245 548,258 312,258 658,251 378,230 1135,246 291,272 1240,246 1055,241 1177,263 1036,267 1022,227 1036,259 300,224 335,283 898,308 995,279 891,276 228,244 671,239 681,219 1269,249 240,258 557,216 976,346 548,243 326,203 643,226 917,298 469,254 512,269 433,235 607,256 510,232 948,327 936,365 874,304 386,224 261,273 490,277 610,225 638,230 958,378 243,247 472,221 957,346 596,270 1228,251 799,244 1276,269 453,280 703,206 258,276 661,276 924,285 509,267 1081,238 603,223 784,229 1052,269 424,214 864,289 861,288 844,300 808,214 1241,226 417,266 994,278 1054,252 284,276 905,308 705,264 493,250 1142,232 833,242 973,331 330,251 1130,284 985,346 636,226 221,253 262,182 751,265 1120,264 278,243 1119,262 876,315 500,268 872,299 564,257 954,332 1232,333 249,292 390,257 1024,231 854,267 482,276 336,257 389,258 812,267 351,238 352,227 291,266 894,311 648,231 632,264 657,265 1309,262 1130,271 415,249 617,236 602,244 1243,245 222,220 1193,254 406,242 1042,284 641,244 385,228 663,256 1038,229 940,375 878,329 661,261 732,277 1100,237 1067,260 1030,222 1280,250 823,281 1301,246 1102,272 746,252 872,330 262,245 256,278 297,220 273,240 226,241 709,260 462,280 624,276 991,270 409,248 509,254 414,252 1220,234 962,340 1250,294 969,371 833,248 853,301 284,234 800,239 871,337 312,257 395,238 1299,280 559,240 856,331 638,242 1089,245 1029,252 614,257 1221,229 1015,233 544,244 1291,250 835,271 1158,246 359,251 1069,233 1176,265 945,304 1023,266 1122,250 1067,260 284,251 300,255 926,298 734,238 1090,254 747,278 948,340 646,240 967,364 1289,220 698,233 1222,260 1140,252 297,228 1237,263 874,293 648,255 372,247 558,244 517,244 513,247 358,236 1195,249 1186,232 530,257 221,234 1274,269 1290,227 353,227 422,270 624,216 1009,270 1201,226 1001,244 1207,257 290,234 322,248 1277,230 611,232 1113,226 435,262 302,262 514,244 858,282 1032,248 478,233 928,376 959,346 676,242 1152,235 581,281 259,237 756,258 1258,260 929,257 626,219 892,305 625,252 1125,257 465,231 610,258 555,295 812,241 678,262 810,248 1023,237 1304,263 1064,232 952,339 528,234 618,252 265,236 826,270 866,303 1210,254 974,334 1187,254 1000,255 1075,230 347,216 237,240 1300,253 596,249 265,246 1222,280 296,233 690,259 787,212 1218,234 651,246 229,269 1290,234 320,258 369,257 439,249 709,219 1068,209 973,387 1114,248 1226,223 992,241 1218,242 1277,261 467,238 744,239 891,267 1194,249 1001,236 548,247 1062,241 754,269 691,235 297,247 970,353 450,273 1074,265 1050,275 596,232 1129,236 843,273 906,296 1038,269 652,266 229,237 1075,262 1263,266 1115,252 255,243 1046,244 1272,244 617,259 1287,250 396,248 335,229 481,253 985,297 410,273 244,253 1198,223 832,266 923,328 597,255 892,288 699,243 1247,275 1084,237 1120,238 701,241 755,246 800,200 437,275 1116,251 881,290 351,247 754,238 1119,213 813,224 455,226 1229,273 1044,251 513,285 706,225 537,237 1138,245 1289,282 649,270 861,292 424,251 678,250 1197,240 940,310 927,297 387,257 674,242 1152,253 1073,255 237,278 506,230 994,281 571,243 854,287 969,367 567,244 685,252 1131,217 1191,242 618,224 680,263 1145,260 308,233 951,340 453,272 820,264 844,264 1059,244 221,255 875,306 622,249 1025,255 274,265 634,267 1068,271 629,274 941,296 327,244 403,235 402,220 1002,249 448,229 834,275 1310,267 733,243 1106,260 471,252 300,288 842,272 411,249 526,226 1009,245 729,250 275,231 880,302 1096,230 793,229 619,253 941,288 700,257 250,242 957,374 558,250 254,273 806,243 460,250 236,239 1097,251 783,238 977,349 394,219 1135,266 792,251 218,243 1171,230 403,230 282,239 650,236 352,227 654,255 924,342 746,237 685,243 1299,263 226,231 566,263 1067,262 767,265 597,226 1093,282 1208,267 891,283 939,345 1087,258 1281,260 1003,245 1179,254 810,220 1258,256 797,260 867,294 259,255 696,264 337,224 1141,240 947,331 241,249 615,256 1049,256 453,273 550,252 1031,245 867,354 1030,268 408,260 581,240 486,290 743,238 1256,227 679,238 335,216 1001,265 379,250 568,268 978,298 921,300 1300,241 1065,208 685,261 569,244 921,299 502,225 297,276 745,254 468,267 668,247 314,245 951,348 812,261 790,238 440,228 1288,239 425,336 438,261 1140,230 1182,246 1026,262 532,287 1015,239 402,238 327,253 406,225 419,231 1265,249 405,244 706,263 623,237 259,247 1232,278 353,252 825,247 474,252 233,271 1090,244 900,322 301,257 735,243 603,246 574,254 495,211 1136,254 910,324 1200,229 427,285 1297,266 481,219 949,331 904,373 1173,279 1310,220 559,276 384,254 594,265 1266,244 1137,272 956,338 256,244 567,256 811,288 1311,221 1262,233 232,255 1047,256 537,281 379,239 1239,244 817,256 877,312 555,238 339,238 405,265 731,252 464,266 1003,263 1035,248 523,252 230,262 1184,250 958,328 497,237 1213,254 503,224 728,264 1093,209 673,238 236,210 1237,256 994,279 900,289 661,247 948,339 817,256 1312,257 692,230 355,253 1216,257 612,251 1016,292 292,242 449,257 942,297 1152,245 982,342 1301,244 852,275 626,245 446,254 381,241 1120,241 817,218 827,233 255,247 440,247 686,253 1102,261 393,226 621,256 341,244 1291,264 926,324 403,228 966,358 570,257 435,251 304,265 1050,273 690,222 1114,217 1133,244 1119,267 703,233 239,268 435,263 1195,228 1170,266 262,246 221,274 1214,268 1143,281 901,298 358,249 554,221 329,255 952,349 1021,252 1304,242 914,308 1187,256 582,242 557,224 340,244 316,227 459,253 678,243 830,201 387,235 1175,294 240,268 1280,249 392,231 604,248 225,278 618,256 434,295 487,258 302,236 537,239 1167,265 412,286 1170,262 463,271 343,245 1255,254 1157,237 1144,267 309,254 551,259 1175,292 1076,254 284,227 927,352 640,226 620,254 820,256 645,248 1247,245 854,314 529,228 1137,241 453,239 389,269 983,312 344,254 1125,256 252,266 441,278 1104,249 733,247 401,251 954,317 956,341 247,251 612,286 801,270 1185,269 1076,254 893,322 1176,246 1229,253 631,248 573,255 910,303 558,257 334,254 1116,250 1263,251 1088,278 1028,315 272,234 757,264 329,255 1127,263 553,278 966,295 340,281 252,250 529,177 1100,272 240,255 1003,242 528,279 1066,210 868,298 678,240 753,257 336,245 641,262 679,242 1210,267 1048,250 1120,267 1240,259 739,245 1119,271 1218,245 1064,266 468,247 925,323 450,232 315,291 763,235 694,222 332,247 981,322 313,246 574,251 894,306 919,325 987,302 1270,257 1290,229 955,344 401,290 841,250 1015,262 665,244 1046,253 254,259 516,299 1034,250 696,240 743,237 653,287 523,245 870,287 480,215 1021,247 902,350 1059,242 1271,231 1269,270 1052,254 1219,243 1276,288 702,260 758,269 730,268 991,285 921,358 1146,259 604,224 533,256 332,248 734,232 1206,242 264,272 691,286 907,303 1108,217 256,239 1121,232 1094,311 303,227 1032,236 541,229 1031,256 996,236 1024,251 1038,212 1108,220 573,277 877,371 1045,282 894,313 426,243 785,252 267,230 1195,248 294,259 284,254 1030,232 1004,252 275,240 746,252 485,228 1144,240 901,324 808,246 324,263 1069,234 901,265 461,214 631,239 503,249 878,382 1257,285 482,252 1178,233 669,241 408,269 737,271 1220,212 870,326 523,256 1163,240 1196,245 1243,267 928,334 287,282 537,255 683,256 859,266 227,251 1047,285 1305,260 1226,256 661,247 366,311 941,333 1129,269 1024,254 859,258 701,245 353,250 639,265 251,230 976,324 1267,277 914,310 232,235 240,263 1073,252 558,235 851,297 701,256 956,298 464,274 726,257 926,325 940,343 281,265 949,243 1312,257 1243,246 1228,261 658,212 277,256 1184,263 898,264 894,327 596,228 450,233 996,240 358,259 647,263 369,263 259,229 258,229 468,245 409,255 888,292 282,224 1041,245 542,268 274,254 399,268 870,286 234,225 461,294 1266,259 380,267 434,254 971,363 407,252 1024,230 1093,240 1019,284 684,238 554,178 844,242 858,292 581,254 1044,246 892,275 698,263 1051,236 1071,255 1177,266 979,356 824,244 555,251 930,301 896,338 1214,259 677,242 294,257 637,264 868,301 618,211 631,275 616,232 1249,245 929,360 1082,267 442,269 379,264 327,244 464,262 817,252 956,337 496,260 1288,254 995,269 334,265 679,226 333,278 684,250 373,252 537,269 1015,233 1215,245 788,228 723,268 464,277 1008,256 553,239 759,239 911,329 1242,253 1202,272 538,240 358,314 273,232 454,232 797,242 1097,263 751,242 898,307 479,243 512,236 530,269 852,271 744,286 1229,230 291,234 855,254 868,306 1058,287 1244,231 823,232 553,258 880,261 745,241 320,306 1164,250 1252,255 705,234 463,258 650,265 941,335 303,232 1107,269 1164,237 576,243 419,183 727,260 827,258 884,346 881,299 1290,233 698,252 633,289 627,238 295,205 726,249 1204,236 756,204 473,214 404,261 946,347 689,239 1177,260 426,242 1138,253 1161,224 851,296 558,225 1189,277 1060,257 910,343 633,266 879,305 671,227 629,231 575,250 1071,244 981,320 580,254 272,231 1042,272 1176,280 634,281 452,311 1258,257 1170,286 605,239 603,233 1008,268 574,238 1123,239 686,255 939,320 326,238 985,331 897,309 603,232 976,335 458,256 312,262 1195,262 1169,256 537,260 316,251 503,238 976,339 1286,238 579,239 970,360 277,273 1134,255 659,257 430,241 306,280 461,257 796,257 865,288 709,259 234,230 887,326 1147,252 1218,276 1307,248 1217,264 487,250 377,272 584,181 1198,272 577,241 480,230 838,301 707,256 577,242 459,213 599,239 924,353 954,361 564,213 603,243 403,235 226,261 1190,260 784,257 304,279 535,258 501,243 1201,261 449,269 630,254 384,250 926,314 1130,258 429,230 913,297 1189,233 380,232 675,246 612,268 406,246 745,245 1143,244 706,251 558,218 492,204 1178,261 580,228 1182,260 593,251 401,227 559,252 670,252 746,244 421,224 1085,217 553,213 992,279 574,285 956,347 1072,255 233,240 504,240 1047,253 1039,257 527,234 1163,244 735,236 362,251 338,264 1241,259 283,235 1086,247 1087,262 441,274 238,239 893,291 907,295 253,257 996,244 665,247 960,363 223,257 1270,257 626,289 1163,221 387,246 435,246 661,246 1091,259 1225,248 1157,268 1114,282 807,220 1269,289 866,321 646,318 439,278 885,308 408,230 477,227 992,317 1110,239 1027,295 546,262 1093,258 299,246 907,334 1288,261 365,263 531,240 509,250 758,216 841,266 1267,226 1092,264 290,276 571,274 519,262 1234,264 1016,213 938,279 919,295 622,244 646,280 303,254 406,232 379,232 232,245 367,225 1240,262 635,263 948,345 233,277 671,253 583,246 891,262 513,235 1095,242 952,321 325,259 1155,232 734,266 835,248 266,264 1005,250 479,218 501,254 1009,264 581,249 462,249 605,266 1313,232 1291,268 645,287 246,246 348,260 1050,255 818,227 286,268 929,334 646,270 1308,254 850,298 671,264 388,242 1039,225 647,253 1193,221 1247,222 1033,266 1171,222 958,339 1140,292 722,223 1029,270 756,246 1130,259 1139,233 872,292 311,260 260,259 1246,223 403,237 920,339 573,236 408,248 927,339 529,253 1298,232 268,242 251,257 1279,229 1065,262 909,325 737,236 1116,266 1104,258 873,334 783,252 415,276 235,208 825,233 1210,253 436,277 910,309 642,168 1302,250 905,292 1190,227 233,298 422,262 1192,264 387,255 1209,226 384,262 453,281 963,337 1198,189 478,243 233,257 931,331 555,239 1019,244 276,260 426,291 386,258 1266,264 1158,269 954,339 760,248 1136,261 673,239 1110,230 1034,249 965,343 311,274 480,271 700,248 798,266 377,262 986,264 726,241 1023,236 1302,274 480,261 707,246 836,315 1220,270 1011,250 587,252 294,256 1281,231 824,241 369,267 285,281 246,241 555,248 1231,267 1024,241 337,207 1311,234 890,290 1006,245 633,243 948,358 852,297 584,228 629,234 1091,288 306,255 1167,282 709,249 423,259 557,239 977,371 1059,231 813,235 701,248 606,235 1022,243 797,264 1118,244 639,259 892,314 541,252 354,239 1293,228 356,247 881,303 492,262 412,231 342,267 1215,234 384,252 1001,242 843,340 981,324 281,261 554,266 1039,222 1153,258 827,244 809,240 1219,274 221,276 1198,248 1298,240 990,323 349,249 1212,250 1005,236 956,330 973,321 337,290 428,275 907,303 841,289 661,236 916,322 303,247 495,265 315,242 721,268 984,313 1096,278 889,318 658,257 433,218 1221,241 1178,234 1119,237 358,287 827,252 730,244 903,332 293,260 808,246 1058,294 820,251 1021,257 1011,224 531,264 914,303 273,251 290,237 364,254 846,276 1188,235 479,243 476,245 1250,249 643,233 506,247 926,345 1136,222 940,390 883,303 742,223 1238,270 807,251 440,254 1124,263 866,282 1114,262 228,218 315,263 1044,249 929,323 635,265 370,278 407,247 1099,256 1077,258 836,291 831,267 1252,255 1070,224 881,276 886,304 840,257 1294,220 314,254 432,233 454,279 251,230 457,239 226,258 576,246 1241,278 425,269 474,243 241,261 1288,273 935,336 707,285 637,276 461,248 687,273 1182,263 625,234 374,212 943,384 979,365 504,247 1104,242 481,253 1096,267 1280,244 358,263 698,230 1308,232 1059,258 1179,254 1057,244 1283,235 488,277 412,239 302,279 873,299 452,255 624,238 435,271 1056,239 646,243 1144,228 1277,258 739,248 1234,239 699,266 467,288 424,259 1118,251 1220,254 639,264 848,247 411,272 389,279 552,271 1137,258 880,308 1206,267 689,247 427,233 1231,310 317,224 955,356 608,260 337,200 334,254 1165,236 1291,244 575,294 301,253 337,248 508,241 477,264 953,331 1037,245 1289,257 974,387 903,287 697,280 505,245 246,281 976,333 914,337 377,250 981,306 987,325 476,248 898,293 1077,235 895,319 938,344 340,243 388,236 1136,250 756,261 632,240 644,276 342,269 313,308 895,314 441,245 630,239 1090,232 681,255 585,262 573,256 1075,230 501,268 792,263 1135,223 832,255 304,245 335,249 325,218 1221,263 1215,267 284,253 1281,268 459,254 1040,241 1226,244 1178,266 1012,220 1115,241 1208,241 941,345 1277,253 1081,261 927,313 1122,257 1022,258 314,258 390,222 945,323 1190,252 298,248 970,325 471,231 473,234 731,289 502,263 273,252 400,236 1182,175 315,259 647,238 619,245 723,292 947,322 919,347 1253,260 1044,230 606,261 833,249 492,282 891,308 1194,243 723,222 951,321 240,232 526,252 794,225 1030,219 564,249 249,242 1058,261 600,261 806,253 474,284 948,292 696,228 1210,252 675,270 682,253 581,249 728,253 653,256 428,243 1219,256 1259,254 746,238 1117,251 315,229 649,250 366,275 882,266 743,250 1295,253 355,272 1199,268 816,257 928,331 847,277 658,252 815,236 1244,231 805,253 1077,231 1152,245 811,253 1252,242 828,233 833,232 1204,252 239,209 1151,228 789,270 428,249 311,287 672,251 1130,256 1025,270 541,245 572,234 354,257 512,231 655,317 859,309 512,250 381,234 1255,230 264,283 499,250 1217,238 1063,265 448,241 403,255 428,245 285,253 406,250 1194,238 694,223 515,254 856,295 930,317 353,282 597,239 403,278 920,340 576,282 546,244 1001,261 1052,253 505,241 1122,220 462,248 867,297 410,234 1203,239 473,231 243,251 635,280 1229,238 601,222 485,198 990,262 926,306 1162,245 892,324 870,271 1250,275 547,249 411,263 571,281 589,288 486,242 377,281 1290,259 1180,279 1075,253 1245,242 311,263 996,239 309,240 1173,265 1120,251 517,218 508,267 268,268 835,279 1302,236 304,205 379,268 231,263 697,261 520,161 907,307 735,262 262,243 1270,251 1055,246 1263,240 254,277 924,302 685,238 543,258 1145,245 933,311 977,328 359,268 793,219 1309,272 232,270 396,251 414,220 1015,240 933,340 891,312 943,353 673,241 850,258 525,245 887,296 433,286 796,261 637,258 547,240 503,229 633,258 598,238 324,258 1141,237 829,231 678,220 878,276 524,227 460,254 410,222 626,281 1171,249 946,300 493,259 1221,271 361,252 704,262 907,327 306,275 621,245 788,242 1099,261 489,242 746,229 458,274 277,256 235,256 383,257 1140,256 924,327 462,255 982,345 481,241 1158,267 1144,253 379,282 238,250 1109,254 1068,260 627,223 1048,240 1049,256 1020,227 820,238 1217,266 1021,252 871,280 243,265 911,318 375,271 267,265 459,230 393,263 1293,279 647,249 352,228 635,245 242,261 762,268 830,236 1104,244 1291,393 1250,250 739,247 981,349 706,240 1252,223 924,319 239,300 253,242 364,299 436,245 463,242 1221,303 689,251 1172,157 982,317 973,339 289,245 224,280 396,255 903,304 412,265 647,237 389,220 234,256 401,240 1048,225 818,231 669,243 497,233 1019,255 571,241 758,234 586,257 666,255 551,264 729,225 1118,199 785,236 900,326 976,352 920,318 819,224 938,336 1153,246 461,269 238,295 956,325 408,243 461,260 461,281 1250,274 465,247 939,355 268,225 1107,242 976,320 843,335 475,226 881,297 1096,262 1276,261 1085,313 443,265 683,235 705,272 621,261 530,249 902,297 481,223 964,333 970,336 1138,241 694,225 973,381 808,239 982,328 858,300 921,304 430,265 611,241 1083,240 880,297 632,246 610,252 825,272 843,278 945,289 548,235 265,217 1282,249 785,237 1219,290 478,250 1226,281 1109,253 1006,243 918,307 354,243 606,272 675,233 346,228 918,299 560,255 829,242 228,260 524,253 822,260 466,242 687,251 666,274 953,344 880,332 1114,220 515,252 434,225 584,274 1172,279 667,255 847,280 510,247 1179,260 635,227 599,240 820,261 387,239 870,310 651,251 649,245 1198,268 602,241 1139,287 559,251 760,256 578,218 1129,233 464,258 888,255 1041,254 389,225 424,258 488,236 854,246 951,306 1187,256 644,232 869,310 657,229 1107,251 984,303 423,260 1028,270 1254,288 369,259 254,223 911,280 1187,265 254,309 1103,205 295,244 867,337 857,296 649,245 666,241 315,250 535,257 437,263 1096,230 342,251 607,274 497,273 1034,278 324,262 238,217 409,263 298,235 592,243 927,317 1122,242 553,239 937,327 1145,247 490,252 223,208 443,244 220,256 352,239 545,255 1245,240 511,269 656,260 1028,231 264,258 1211,266 1168,265 356,248 1123,261 454,216 982,351 499,270 997,273 1144,264 729,219 1235,237 363,269 788,263 506,247 858,287 548,239 724,268 641,255 452,247 526,269 493,212 1219,247 328,266 583,262 424,260 759,253 1089,249 955,402 1132,246 822,244 460,228 900,299 1099,261 449,239 228,261 1178,222 936,379 753,232 572,227 1272,268 1177,226 813,219 472,263 686,259 1217,253 485,270 313,260 348,245 1078,245 1312,245 557,256 804,232 582,251 598,247 330,244 1289,269 358,268 1043,248 980,292 1192,261 253,288 511,250 811,264 1146,228 1263,259 590,254 327,256 970,357 681,308 1196,262 868,270 998,236 585,242 744,279 581,268 367,261 863,317 1052,246 574,256 919,340 841,274 595,248 882,321 566,250 1262,258 270,255 289,275 1088,273 633,253 290,276 943,327 751,236 1187,273 905,271 577,262 877,309 1006,261 907,320 305,254 435,252 942,306 584,201 744,244 729,244 977,341 577,242 902,292 310,245 289,264 1123,238 436,340 438,248 240,246 1296,249 926,341 683,223 784,229 241,245 1035,248 497,255 822,243 439,263 1139,249 499,248 673,247 1209,227 1153,253 647,241 832,258 1178,250 1096,236 1143,218 1026,241 1177,269 961,299 725,261 601,235 482,244 1244,247 483,260 1214,258 1251,256 1217,268 972,359 243,236 932,342 522,237 1190,280 1162,245 669,215 688,232 1168,241 570,252 651,285 957,354 555,271 978,316 460,306 825,225 453,251 557,233 930,336 948,342 1172,245 1121,236 983,297 993,235 746,260 657,288 872,236 1125,258 1186,248 426,253 1042,230 612,239 902,317 897,317 487,270 952,350 1149,247 552,289 449,279 596,242 869,304 470,246 1278,247 1256,243 578,256 1166,211 1173,266 823,212 1096,227 376,254 795,216 1048,258 484,260 653,216 1266,258 365,276 500,241 342,260 384,243 1250,253 939,317 399,266 1294,253 1000,235 446,258 1043,250 224,224 375,238 298,271 1238,217 670,267 804,259 453,290 761,261 985,290 925,305 1132,215 866,301 382,230 554,250 1195,250 293,253 888,296 737,282 558,239 229,258 820,258 1073,243 412,251 996,258 1103,262 383,233 237,236 470,265 629,251 1002,210 956,340 850,252 962,350 753,243 1100,269 636,237 266,235 1039,208 392,234 408,234 847,300 682,241 637,261 364,248 240,252 285,281 1099,268 1150,290 953,346 658,266 1165,235 1052,271 604,226 662,234 885,342 643,259 667,263 1057,254 1130,270 560,230 960,372 261,262 870,303 399,252 452,236 625,216 1128,240 1011,251 520,265 228,248 1226,276 1081,253 399,249 1244,316 904,253 257,237 869,316 733,217 406,262 362,247 1122,243 286,251 1236,266 732,217 1018,250 259,262 1045,247 439,262 802,222 824,235 1138,258 500,231 1175,211 847,332 239,247 311,259 1199,271 1049,232 632,240 415,286 1119,278 734,218 1114,260 426,224 572,257 1303,260 1237,242 1011,244 667,250 462,258 1123,234 228,252 385,249 249,240 303,252 792,212 308,267 1212,242 1074,280 298,282 570,261 658,231 643,248 497,229 241,215 594,248 498,301 1162,222 1041,292 232,230 891,368 967,324 828,257 394,262 883,295 879,334 943,364 811,272 297,207 800,261 652,242 806,234 349,245 973,312 572,245 549,244 1130,237 558,230 444,268 611,264 807,240 267,223 698,273 947,315 485,254 262,221 699,236 655,270 943,306 1188,247 974,493 506,267 971,303 579,263 226,265 436,242 1204,243 537,255 528,249 910,278 1310,253 576,248 462,278 306,294 708,247 400,270 1211,246 582,270 447,229 553,261 736,277 1286,246 1139,248 895,288 1153,232 349,242 419,228 658,243 732,201 840,291 590,266 342,244 604,236 233,277 240,258 402,239 621,259 1267,257 317,281 926,335 627,269 581,238 1267,277 577,270 269,287 393,334 585,262 331,225 708,268 281,283 971,367 1301,274 538,240 652,233 530,249 734,311 725,274 674,240 415,256 969,312 1012,273 1240,246 290,253 253,241 339,255 523,249 576,241 754,243 359,242 949,332 326,237 1003,262 474,302 1030,245 433,257 627,228 623,241 995,233 608,270 1081,244 414,279 725,236 240,284 1183,235 871,309 904,312 1118,283 724,263 507,243 963,334 991,342 662,235 649,240 275,252 989,304 901,318 363,255 403,240 731,262 947,330 1116,249 612,260 514,243 1280,252 631,280 1175,249 524,236 318,259 1150,236 312,228 819,216 227,246 853,282 682,246 548,227 721,226 1305,273 508,276 338,290 352,259 1279,253 1068,229 1058,239 484,205 1228,284 435,225 1219,259 389,242 260,225 241,251 346,347 453,252 1097,283 241,265 432,244 851,249 226,248 994,264 1203,243 1002,273 1116,247 871,280 450,274 423,233 869,301 741,230 377,346 264,222 287,209 1286,262 723,252 745,251 575,323 1240,256 602,248 1075,237 501,212 490,246 1003,235 1090,247 337,221 686,233 1024,258 787,230 1214,263 653,242 1305,256 1238,236 826,252 315,234 296,250 525,242 238,240 330,247 703,264 397,265 415,216 1309,272 733,237 1311,255 500,261 609,256 249,250 733,248 434,283 1026,256 402,250 894,316 574,216 396,269 279,206 1303,272 480,255 1172,247 788,250 400,281 1115,208 407,234 219,246 1102,232 733,226 310,259 1131,231 606,239 1206,244 1151,227 1236,267 945,317 675,234 524,245 542,255 220,248 404,237 391,233 1049,227 798,266 976,346 1198,213 851,275 1210,268 700,264 248,289 310,257 970,336 1192,248 1219,261 329,273 1059,255 1058,254 753,249 1072,248 882,296 911,319 882,291 1092,258 1300,252 550,231 811,264 698,230 1149,232 1039,239 809,276 652,290 1032,266 849,277 1206,240 250,258 306,255 331,264 229,235 953,339 871,329 1043,227 694,261 740,227 403,235 561,245 1173,282 489,256 749,247 1226,256 1243,257 420,245 674,238 241,274 237,262 322,235 1179,274 728,221 564,243 979,330 482,266 441,269 305,249 1098,250 550,279 373,245 240,261 894,318 1301,230 1247,250 608,250 998,253 641,240 899,282 882,303 1170,248 634,241 1174,241 956,379 686,243 733,242 750,282 298,247 326,254 308,262 497,237 1037,244 705,260 1217,302 858,280 638,229 567,283 493,230 479,229 402,246 980,347 1088,256 229,268 615,238 905,301 611,240 428,279 580,235 489,226 517,236 588,254 587,267 674,252 1299,299 557,253 1120,231 1268,241 1055,253 534,229 381,244 678,287 556,254 1068,265 1169,217 1107,264 1078,270 332,219 996,289 1151,229 528,244 1117,233 587,258 521,267 846,253 1251,244 451,265 1022,251 942,367 953,348 500,242 871,267 463,246 488,280 851,297 672,234 1134,280 1191,237 502,300 551,259 1278,262 641,230 1176,299 535,241 349,263 1152,239 597,250 1295,230 786,207 324,213 1122,251 250,272 620,253 1106,272 605,231 518,253 498,244 331,234 309,249 669,274 1065,280 1301,244 1198,233 1311,261 318,270 855,277 388,245 462,238 547,259 1157,251 368,242 1272,256 327,243 504,259 454,248 748,264 1131,233 1292,260 279,254 1008,241 361,256 883,278 344,254 1175,272 1047,248 997,291 1177,247 649,248 544,294 1206,240 1017,273 1002,269 1078,246 551,248 834,272 1057,258 551,224 440,260 725,247 1226,238 1204,242 755,262 533,241 1080,262 1077,240 1008,238 237,268 321,251 733,220 1264,234 609,269 440,293 881,276 226,250 1268,245 888,282 277,269 452,244 427,234 808,266 870,292 364,246 923,290 217,276 978,329 1214,242 234,245 1292,227 516,243 834,246 815,254 384,241 329,240 1094,221 404,256 407,240 735,250 1175,244 324,247 942,348 1076,261 898,293 248,267 631,231 661,301 537,237 972,360 1126,265 409,252 1227,237 660,250 967,344 309,260 1075,259 985,371 906,293 877,318 1307,295 1129,299 516,256 1276,234 383,228 652,266 428,246 1094,259 948,319 459,271 574,267 439,270 236,272 242,255 969,334 517,231 932,310 1182,241 1155,241 1212,234 668,265 1124,224 1117,239 615,262 1223,246 820,245 365,222 1188,249 463,239 344,245 540,259 726,235 577,230 678,254 832,248 977,345 759,257 312,230 685,356 818,262 682,245 791,264 528,219 976,313 406,239 257,262 463,257 291,223 594,234 1253,232 909,373 216,270 526,240 268,234 548,253 1127,248 1207,215 638,245 934,311 449,268 869,295 282,261 1006,244 994,254 1142,269 406,224 979,342 488,251 740,227 443,257 596,234 890,303 976,328 506,252 495,222 744,307 988,285 379,263 833,235 225,267 428,283 1157,260 1064,243 583,251 307,249 631,272 218,287 286,245 1277,245 670,248 336,240 382,251 1252,252 628,290 896,285 473,236 1183,260 594,373 746,249 1097,256 1025,224 630,259 1266,254 553,223 1166,270 1202,238 821,245 855,259 792,227 1007,254 346,264 752,215 461,280 229,210 257,260 946,370 1295,237 869,316 483,255 744,270 1048,272 1178,277 274,229 433,267 706,268 1011,260 468,259 1143,232 1077,231 1218,288 1005,252 636,246 236,230 221,248 1103,267 403,211 311,293 532,273 404,265 841,253 947,280 701,257 1182,282 442,234 462,288 310,225 1163,255 313,250 427,247 929,376 347,241 735,289 707,269 425,270 1178,268 797,260 850,239 1117,283 284,271 1287,246 562,261 241,183 683,268 1171,251 836,271 406,274 510,242 1048,225 1046,225 363,223 303,253 256,231 855,331 467,267 866,285 1040,211 1198,263 700,247 342,236 537,233 632,251 337,243 796,252 1048,256 340,265 606,235 474,230 601,283 263,187 706,235 798,208 961,393 507,249 803,256 400,268 303,249 836,296 1076,236 391,235 638,257 476,261 1308,245 1092,276 1292,226 679,262 570,264 864,273 1121,245 1287,235 462,216 802,238 1089,328 874,271 373,249 745,262 1225,333 405,248 820,271 520,323 1170,241 217,255 433,257 1109,252 1202,193 1093,326 586,253 1054,255 549,227 451,283 293,197 869,311 231,255 1161,223 980,342 1191,214 1161,262 761,245 625,263 342,209 1122,240 989,337 285,241 504,256 1243,256 886,296 968,355 709,250 509,228 788,248 672,242 1303,264 747,262 444,261 803,227 824,287 415,246 225,289 754,256 311,261 290,263 702,254 1243,243 1287,243 1063,229 337,244 469,259 1277,294 1192,223 1137,248 744,236 1053,246 1063,231 803,246 696,263 950,371 1294,254 1056,234 971,362 553,247 907,320 236,240 559,234 1041,243 403,237 996,265 913,330 1190,249 1150,277 956,377 1221,260 1273,247 850,282 725,270 546,253 661,251 291,265 974,398 256,245 1146,241 835,260 371,264 685,267 962,334 937,342 1139,258 752,246 1286,292 1125,241 807,227 333,255 1163,246 373,245 425,255 249,211 490,237 984,344 743,229 724,278 1156,249 684,237 651,217 465,246 1202,242 267,229 973,360 282,248 296,234 629,255 892,319 247,213 1021,246 1030,235 1211,219 556,231 360,229 617,279 238,249 1099,283 1286,292 674,246 882,252 708,261 1169,254 1005,275 1173,257 370,245 258,340 1149,288 551,270 465,274 1213,242 226,249 971,373 809,232 735,244 285,266 1053,219 382,231 518,268 637,276 327,269 411,242 952,343 1154,238 567,260 631,235 955,352 1112,254 242,224 498,263 933,328 914,309 631,244 546,239 1140,223 1227,239 544,235 1018,240 1160,260 548,262 431,254 1172,245 424,247 466,282 473,244 567,233 1220,240 982,337 975,352 233,261 311,232 280,288 650,258 507,253 844,208 235,268 351,259 460,232 1139,222 857,282 1209,226 265,206 273,260 590,262 1262,253 463,250 644,275 1091,246 474,227 423,272 750,231 986,286 864,252 533,268 1194,239 405,264 1197,260 1152,253 727,223 838,251 584,214 968,304 627,248 304,248 1157,278 1045,246 730,229 410,235 356,260 794,197 495,253 1065,245 428,262 625,256 508,267 845,331 579,246 1256,267 888,286 944,326 262,216 350,238 1041,252 458,262 1249,224 234,266 831,238 528,261 827,269 739,249 1146,241 411,270 1277,297 574,220 978,345 827,218 499,256 850,272 637,273 1141,242 452,238 289,253 1195,256 914,330 539,233 901,328 1289,244 666,225 575,224 1007,240 1306,257 1178,238 733,207 603,228 1262,237 1070,206 313,286 311,243 928,322 1130,252 1103,304 621,263 410,285 1293,229 524,244 897,293 1228,255 900,319 460,249 1035,237 558,241 593,267 412,255 654,234 407,225 976,346 697,244 789,207 547,258 350,232 1193,250 667,262 1291,249 658,261 1308,240 947,328 1201,282 307,253 1241,254 986,285 1164,258 1037,248 565,243 670,243 998,277 553,245 681,228 1138,248 834,282 401,211 259,250 304,248 336,231 377,229 1081,241 478,267 877,276 368,282 1023,255 701,238 473,257 823,257 1121,264 570,268 973,371 229,237 1246,284 829,247 1142,264 1107,242 986,312 1106,270 1069,264 880,352 303,314 1071,279 432,257 901,291 901,279 559,221 677,255 896,327 668,258 1205,263 232,225 464,235 221,284 1065,264 883,315 1282,267 448,225 581,281 1048,226 1128,281 993,265 1267,244 409,263 1123,234 604,259 573,272 280,251 637,245 928,287 1138,257 1280,250 284,255 941,361 1305,299 870,291 739,245 1077,182 504,268 337,274 1018,237 663,219 448,269 316,259 1202,290 576,235 531,246 1254,241 956,346 1248,248 934,337 1289,232 1275,245 869,294 902,295 610,253 349,234 1161,243 735,279 282,238 629,235 733,223 821,234 728,254 1234,252 694,248 343,268 299,298 590,268 614,217 849,265 730,246 866,296 847,276 235,246 934,334 1044,250 325,284 491,250 924,340 820,249 751,235 1121,277 1130,252 464,260 1248,254 823,291 470,255 413,236 657,241 1303,245 1114,187 699,276 251,254 722,237 1225,239 1126,272 480,246 456,244 976,334 605,258 1296,243 952,332 275,245 823,263 313,237 1176,218 617,253 241,243 828,270 1126,243 1135,290 1118,249 291,236 1128,257 234,209 366,229 1174,289 928,346 640,286 1119,246 1087,300 798,261 1190,262 739,247 966,359 873,320 337,246 505,245 944,355 1201,256 1158,244 610,258 529,233 262,240 952,374 235,245 454,237 272,238 560,244 295,244 1101,236 1064,246 921,316 431,243 1044,262 332,261 595,248 574,260 365,227 737,269 1302,249 953,331 356,214 1093,238 956,372 728,226 607,238 1062,239 335,260 1072,242 969,360 443,265 310,286 977,309 968,320 828,246 1292,231 1053,238 683,255 456,232 389,263 1174,275 322,253 488,244 1002,275 740,262 498,252 405,240 730,236 1176,259 324,236 1179,295 825,240 574,241 516,245 483,265 474,236 698,251 242,247 1153,211 437,241 1267,226 1176,243 395,227 239,276 1116,238 443,236 485,235 1264,260 288,239 512,247 919,286 1084,274 1121,232 1235,261 1214,255 320,277 450,239 499,263 1139,210 617,267 474,254 306,236 1303,245 875,292 867,257 577,266 925,285 1061,253 1284,257 1109,260 516,262 594,261 1140,250 977,367 430,286 1064,269 1215,255 1219,240 1218,271 1078,284 1097,227 822,235 806,244 573,212 1202,273 1065,230 557,296 1071,239 922,298 581,262 962,348 892,320 724,250 473,266 890,278 1223,265 1272,267 355,259 1267,257 1302,229 503,289 310,220 976,347 473,242 237,220 448,257 1293,247 995,225 1015,249 506,255 346,238 796,271 1052,246 356,239 1105,228 1230,259 245,233 1180,243 835,301 668,253 1174,244 1236,264 1004,254 605,232 1170,290 1140,250 1259,271 790,217 1098,232 324,243 525,239 1088,259 976,329 898,325 607,241 1280,235 283,253 747,267 248,245 567,279 346,249 440,253 1167,251 1216,267 1268,253 330,248 1279,246 678,228 672,251 1148,226 964,468 1034,247 524,252 1127,264 1194,277 482,276 604,239 807,234 991,279 1277,246 1059,288 1108,281 895,296 478,227 1016,256 1239,225 629,276 801,274 813,239 926,301 1167,235 705,210 506,246 954,340 439,266 1172,234 398,219 1052,237 480,259 706,235 822,253 1136,234 1287,282 802,271 785,250 904,329 456,245 348,227 251,272 609,244 977,322 610,256 661,360 572,241 905,304 851,274 392,226 802,272 933,347 517,270 981,328 692,253 578,240 275,252 585,237 731,256 1102,238 279,255 308,240 310,227 751,264 504,236 1089,268 1179,232 940,375 942,346 676,240 823,273 352,261 310,232 749,263 1099,249 1118,243 324,260 675,233 932,311 1092,213 951,278 629,291 723,273 879,307 1198,260 606,340 829,215 315,254 706,267 1273,258 264,256 1205,225 311,219 1311,203 490,237 952,362 233,286 464,294 475,271 1276,260 1038,244 947,347 636,267 976,371 897,332 271,257 725,274 305,250 475,241 318,253 1190,238 736,187 1198,264 517,251 1147,261 567,227 301,222 429,252 1040,226 1290,237 1181,243 333,215 798,347 1204,256 310,260 536,241 734,253 1028,272 920,309 537,230 1252,237 269,286 1051,274 317,298 624,237 1135,265 1078,228 313,264 706,260 1163,216 537,251 646,308 562,264 1277,237 702,252 310,217 633,254 324,250 481,231 1160,256 726,230 1160,235 1011,248 693,253 429,236 642,246 554,286 1128,275 577,259 725,250 726,254 240,271 740,243 733,299 403,259 1060,303 746,227 979,381 348,247 788,273 1127,217 632,323 236,238 406,237 921,290 1062,262 260,236 915,315 545,260 633,261 284,227 422,252 1201,240 611,311 447,247 1197,261 707,228 820,256 996,255 873,304 1176,267 1116,243 796,225 353,224 745,260 529,242 558,230 256,222 595,241 1312,242 1133,251 1172,251 585,257 553,248 470,227 1106,259 866,283 536,259 499,257 921,363 847,309 267,265 358,257 238,250 903,301 266,240 786,273 409,267 1119,254 1032,257 1313,219 1262,195 735,237 966,341 1101,249 629,252 319,236 549,255 861,312 587,227 1243,243 574,234 458,236 944,293 241,251 434,281 421,226 597,268 535,240 461,244 1197,192 291,233 326,252 757,259 701,236 1230,250 1024,245 1193,255 1236,266 908,371 428,246 1175,205 874,343 897,335 455,224 1143,268 1287,274 904,330 307,239 901,320 939,339 1222,265 1106,251 501,264 749,242 502,253 524,255 1280,273 235,255 928,288 373,229 329,245 1088,250 383,220 409,217 250,252 320,251 706,239 296,262 1049,263 857,264 1158,239 701,223 981,234 581,248 1249,277 1070,250 969,296 232,227 559,220 525,277 1212,305 353,272 280,244 1019,231 758,265 892,288 1010,290 599,231 324,242 450,244 883,287 459,238 971,326 441,260 956,345 512,265 281,288 811,240 748,269 994,317 638,235 466,222 986,309 564,257 286,230 652,279 958,318 1078,244 262,262 995,246 417,253 1067,246 966,356 870,279 1101,272 385,260 490,237 958,342 505,299 412,234 855,305 1078,255 1126,243 229,246 869,298 846,271 874,215 263,194 481,265 558,227 1096,235 265,248 586,291 1078,226 1123,252 484,297 804,234 923,362 972,334 887,287 481,251 997,258 236,239 1214,273 1044,221 1309,268 583,245 308,226 1150,245 439,258 638,228 586,253 962,329 1248,261 653,246 226,244 413,252 750,260 1155,245 342,272 1263,249 365,218 597,219 564,271 1087,260 995,290 386,247 755,241 478,250 1017,249 1185,258 401,244 1299,275 348,230 242,267 559,265 1139,292 526,245 1039,250 958,333 1252,261 943,318 1044,243 593,237 1255,258 605,239 482,258 598,291 756,257 1149,239 877,287 1028,279 835,265 394,264 827,238 908,347 967,324 1202,241 326,249 1238,276 1043,265 653,238 924,338 944,347 583,242 612,237 563,263 1017,253 249,306 343,259 1029,253 684,264 1244,252 536,237 473,250 886,302 581,272 327,277 787,246 976,307 413,272 1171,224 257,280 1243,252 234,256 503,257 923,332 464,235 219,250 1152,293 1148,297 1198,241 1201,227 736,249 938,310 659,237 932,343 350,236 456,272 1297,251 674,250 457,269 1217,263 240,235 358,242 351,261 508,259 699,245 948,376 462,248 898,329 882,353 658,297 1278,205 436,241 755,266 982,312 1301,228 995,295 1168,262 502,251 741,252 1049,256 558,256 978,328 1079,258 259,189 1003,242 785,227 943,343 632,236 632,258 1278,244 634,275 616,213 267,248 1212,255 630,244 440,241 1268,233 590,258 892,296 760,242 1154,243 981,265 1226,248 452,249 1263,245 368,233 531,233 1218,260 1195,234 890,265 1068,237 1311,218 1198,248 954,348 1155,231 784,220 1170,257 1199,306 474,275 1194,270 1001,265 1068,274 825,252 506,255 998,255 500,243 681,263 828,237 310,271 979,311 1073,260 942,355 847,296 328,248 353,229 849,355 283,198 701,259 330,254 1076,236 1140,241 328,243 1132,258 516,253 970,359 1312,254 791,241 329,257 320,231 946,346 966,324 273,253 574,262 978,327 679,224 674,260 959,349 507,224 986,275 553,265 1178,233 1209,279 979,329 708,268 437,297 240,268 808,272 644,249 319,236 1068,258 524,223 487,224 441,250 230,238 325,230 812,250 822,268 417,266 572,263 1105,249 380,228 498,218 337,245 328,289 522,258 414,256 1249,233 467,269 1276,261 1203,261 1190,263 997,269 619,247 1260,258 804,246 324,243 462,243 364,252 227,284 1211,284 635,265 1309,236 234,237 1148,241 474,256 1140,263 248,254 251,256 461,264 823,215 990,285 948,344 941,342 784,240 1102,277 1120,243 1023,279 564,240 538,250 398,237 686,251 1207,245 303,254 1069,323 509,239 684,205 953,341 431,298 1061,217 1173,225 953,335 752,285 236,244 978,354 889,296 1061,263 623,230 330,226 809,250 956,337 1078,252 706,220 1194,278 364,239 881,225 304,226 447,244 973,349 254,246 628,245 520,258 862,293 585,244 1219,212 227,251 535,259 851,293 409,261 1214,243 279,256 532,242 357,296 263,264 1099,250 939,348 1289,250 415,210 1073,263 426,257 330,249 634,218 689,247 1130,250 1152,232 1169,276 381,229 616,243 641,243 944,322 362,268 559,237 546,271 706,273 343,259 757,243 941,348 1151,236 1018,249 291,265 1113,251 222,278 460,241 537,225 570,246 1205,309 722,263 462,241 499,266 1300,266 578,246 1195,286 912,279 1014,247 659,271 400,250 971,333 863,255 1312,280 412,240 973,380 300,201 1045,236 605,285 572,268 938,388 1171,249 549,247 390,251 902,302 323,232 1077,237 1119,255 934,312 1302,251 358,264 591,254 475,253 553,275 1229,207 895,357 522,291 687,237 844,289 1003,251 1128,248 801,274 976,413 1076,272 815,230 1024,267 731,248 909,308 993,301 1011,257 1067,262 950,343 819,232 254,266 812,255 465,256 1049,258 332,243 226,252 1118,249 394,253 449,219 1150,265 1302,245 481,241 272,231 345,216 553,239 942,341 644,310 1237,272 660,247 411,230 1309,218 461,253 1027,221 927,330 1273,260 319,247 900,356 405,252 548,263 978,355 1176,250 614,256 482,220 307,236 1145,315 663,235 818,247 1268,239 566,244 603,259 469,251 1188,240 263,258 1210,259 1064,255 489,240 1087,254 969,325 450,284 924,332 926,324 410,271 1282,247 1065,257 1216,278 474,365 646,238 1104,220 810,252 535,269 789,249 915,352 866,301 748,248 1031,238 951,331 505,256 1151,293 938,298 399,253 887,297 1190,249 734,246 1291,224 544,260 241,243 1301,248 243,226 428,273 608,274 492,234 505,256 980,352 1163,240 1291,238 459,252 697,250 1021,225 1045,241 337,291 980,315 833,270 791,238 931,316 1148,235 481,253 353,251 739,262 1126,241 1053,269 627,304 1291,262 904,307 1197,242 902,302 266,203 386,254 618,229 492,294 1126,239 811,256 451,254 304,274 1309,220 1227,261 1014,242 1202,251 957,350 246,235 568,253 486,264 1183,238 285,243 804,225 1280,270 577,206 915,342 434,263 659,267 967,342 1196,272 571,291 682,213 1194,252 441,267 339,240 236,246 302,238 530,255 489,238 489,276 474,227 504,214 596,248 552,224 1293,245 815,260 1188,250 322,252 945,330 825,229 750,229 423,247 674,236 344,257 308,259 1229,225 1055,227 549,262 347,256 1276,250 1021,257 828,242 1017,237 1020,288 452,221 1293,244 1042,262 281,237 898,321 467,252 553,248 987,308 558,253 991,288 217,270 1168,229 1077,244 807,230 497,225 830,235 643,253 410,212 731,255 891,311 524,262 1244,236 869,283 424,232 238,273 596,258 785,229 363,234 226,230 1156,233 1230,289 731,270 1005,266 1247,227 1233,222 606,203 660,247 982,317 877,311 803,231 295,254 586,235 503,249 445,270 1292,261 709,245 829,242 500,254 480,284 431,309 889,295 795,228 976,345 606,256 1290,243 808,306 1292,252 1214,262 262,277 826,243 1167,248 354,255 217,229 314,239 586,257 704,252 902,310 342,251 1245,270 962,341 953,243 352,271 366,245 919,323 1114,226 408,231 701,254 237,235 972,374 1249,275 1307,246 234,276 311,307 881,260 235,247 339,251 240,286 235,282 913,312 1044,238 1266,248 858,212 311,246 621,236 1249,261 377,285 1173,239 330,240 344,236 1121,283 282,251 1156,283 1199,261 727,304 981,313 1305,251 932,342 1076,242 956,310 677,259 675,262 978,362 341,256 327,223 802,246 893,315 1185,241 1027,229 1305,245 801,256 1012,270 423,247 511,244 847,310 576,278 1291,247 1034,270 1120,244 535,283 400,268 522,284 911,328 913,259 1115,269 896,363 1076,247 259,288 936,440 824,262 706,233 1051,233 1048,242 1263,240 1064,258 586,236 536,199 1278,221 843,266 637,236 559,278 530,258 1272,250 572,259 760,266 839,238 672,238 271,247 255,249 477,261 1227,261 857,274 1124,248 429,229 1214,235 1137,269 218,242 1121,258 660,248 785,243 808,224 847,272 946,360 826,263 1195,232 533,223 1304,289 406,252 250,284 696,260 570,267 1273,235 485,219 751,260 397,251 357,258 923,348 695,256 1141,219 382,227 744,271 403,251 842,285 659,217 667,261 405,260 1193,249 945,346 679,267 822,271 1213,239 404,254 1189,236 993,260 965,300 797,251 760,245 762,251 312,256 1135,299 815,220 1113,241 300,255 801,264 1034,225 1151,265 681,295 464,256 943,312 811,242 455,264 407,244 254,246 391,241 394,251 589,241 315,200 1200,273 573,280 1080,237 384,240 259,235 1179,250 356,235 1136,222 536,242 265,293 869,266 1113,250 516,237 652,233 411,276 693,261 441,254 1049,244 870,283 332,253 1085,293 1290,243 344,227 733,239 417,229 996,264 394,239 1311,274 466,266 472,264 228,250 698,240 340,249 316,260 239,253 1012,289 873,326 648,266 523,253 527,237 693,259 925,315 315,266 1255,205 414,233 591,261 1198,233 1066,255 257,243 1238,286 1023,271 834,281 227,255 253,243 1263,301 1074,262 1117,250 479,249 1165,260 545,269 408,287 583,233 628,248 675,240 795,242 596,274 1047,296 267,250 660,294 956,332 1283,226 638,243 867,318 459,280 980,309 324,239 1113,224 1158,256 902,328 258,252 908,317 899,284 1095,249 1312,241 687,252 810,241 1059,272 402,221 824,251 530,255 1048,261 291,232 434,251 1278,250 423,251 513,264 624,243 235,252 567,225 279,256 635,246 1247,239 515,261 845,318 547,238 1117,249 256,250 495,255 355,243 612,243 569,226 647,249 458,260 1153,258 1120,248 813,231 1190,271 1082,260 1279,256 533,256 1168,253 899,275 857,306 1025,295 620,267 388,273 496,248 832,228 555,264 744,251 873,267 801,279 564,275 742,249 1111,248 521,257 806,258 831,246 1105,226 709,301 929,343 757,267 291,238 1115,226 359,312 891,291 732,283 1098,253 1231,261 869,272 828,249 479,293 1078,275 642,286 1124,245 450,221 937,325 899,286 555,283 1148,266 818,249 600,290 974,361 375,223 242,267 1223,236 356,254 1264,267 266,242 421,257 223,243 917,307 752,247 242,226 894,292 882,322 1070,259 1056,225 627,248 1231,281 971,393 265,269 821,249 490,252 1245,230 327,262 743,257 513,244 439,230 1279,228 825,250 284,256 537,237 1122,233 651,277 1186,252 1023,249 821,224 1110,267 323,250 1254,267 1247,251 1135,255 455,272 575,253 1175,250 908,310 416,218 1096,215 336,257 254,257 1309,253 607,244 635,255 574,264 1075,224 1292,181 817,252 1260,248 851,296 363,249 1210,263 545,230 951,354 756,227 811,238 1276,252 1104,279 1039,215 678,273 930,330 962,379 827,266 499,255 627,225 1046,196 1010,259 899,324 473,242 1264,274 902,341 923,306 757,270 240,229 227,241 868,286 1069,252 1289,245 876,271 917,303 847,289 306,267 479,275 653,245 970,345 444,239 890,354 1107,249 865,283 1029,264 557,253 350,267 242,296 462,272 847,273 977,365 1186,238 1217,274 473,247 1265,246 476,225 1238,257 942,356 325,247 388,254 524,248 265,272 1286,244 1204,245 709,237 348,252 682,275 842,280 391,278 274,260 1077,236 641,247 745,233 287,252 632,222 891,276 308,257 485,254 650,239 285,247 957,324 816,242 1204,236 1131,256 1109,286 1125,236 1242,191 869,296 409,261 1105,214 1050,267 1151,243 1178,245 437,248 644,246 1172,247 940,299 404,305 680,250 507,278 709,269 900,300 991,278 482,262 492,248 551,234 234,238 430,257 501,266 389,236 1237,262 1221,239 674,265 571,279 1249,278 976,325 373,232 561,261 1026,225 1129,231 995,233 602,262 750,258 590,226 1060,257 284,257 1274,316 266,253 356,225 236,227 735,268 501,247 1073,237 1179,236 1011,242 1024,234 242,246 579,280 1121,254 330,276 250,215 1046,250 276,240 879,294 432,259 1213,284 1196,264 523,268 569,227 493,253 398,236 1076,256 736,279 1065,267 491,237 1093,255 675,330 427,268 551,245 1154,277 1248,264 1233,244 325,264 522,273 888,267 441,231 1028,257 1273,243 1271,240 491,270 762,253 1313,210 809,231 381,229 660,232 1085,151 795,256 485,250 826,240 1251,244 259,237 350,256 1049,266 394,235 1050,208 285,273 390,260 1035,246 360,260 618,234 564,228 297,243 349,251 244,244 1049,227 995,313 240,238 451,237 827,218 331,249 423,247 463,237 1269,231 309,258 511,265 284,269 610,276 1122,262 1313,265 359,269 1158,266 1044,245 1227,248 355,263 352,252 335,227 1272,274 1086,253 1117,237 728,289 1195,241 973,356 407,235 420,255 291,254 792,251 761,240 1209,291 413,262 229,277 730,257 1270,245 274,264 265,252 976,355 1092,207 915,337 739,273 977,328 844,278 941,309 474,280 525,195 877,298 870,300 1140,250 631,250 1282,234 306,249 586,238 897,322 598,253 1148,247 972,333 893,279 489,220 957,309 608,194 950,364 896,427 805,271 496,227 337,255 1138,232 1163,260 1076,238 363,249 412,251 1100,227 474,209 708,266 248,241 492,246 1238,268 1202,268 260,229 1214,238 1150,231 558,241 1130,214 836,259 1168,262 1066,250 384,244 313,268 975,314 1176,260 943,335 874,274 1103,261 1224,227 1056,280 902,328 476,248 454,241 1244,248 310,262 426,264 630,277 392,258 845,306 225,255 846,268 1191,218 633,241 1216,265 310,253 626,264 662,284 1128,272 419,238 1258,239 259,273 1265,212 867,287 1020,279 531,253 650,236 574,310 1169,242 1290,236 1124,228 233,239 1064,234 1075,287 1032,346 1109,274 439,262 572,280 1257,286 1065,223 412,245 249,269 1122,264 817,263 1089,192 1221,264 1223,247 1211,255 738,269 676,247 354,248 671,231 405,255 556,256 492,238 225,211 1292,264 897,306 1153,233 462,238 1301,235 274,294 1118,306 946,342 1080,266 544,240 309,216 547,238 970,378 819,257 1090,234 550,245 700,247 798,234 1166,258 1120,304 362,239 652,276 389,273 1221,255 1190,236 942,369 419,274 337,252 1022,260 1133,267 313,246 1179,245 1149,256 850,284 715,234 265,277 704,249 227,229 387,240 1126,278 1049,246 1061,235 512,285 857,264 838,257 1215,242 843,266 705,238 560,240 1054,255 363,257 486,290 957,345 230,259 686,265 980,253 1001,217 348,266 591,228 1046,259 410,280 408,217 624,246 731,239 926,343 1205,220 759,222 886,298 990,290 1001,268 624,245 1274,257 504,250 380,222 403,263 512,239 1021,274 649,272 1185,227 521,220 961,308 284,230 413,227 596,269 698,250 1006,263 667,255 597,234 233,247 286,227 367,251 1151,243 846,293 822,202 347,281 354,277 1033,233 521,238 491,248 545,245 1194,276 1208,243 1071,255 1022,273 498,269 509,301 390,208 302,258 312,256 571,264 1178,179 460,256 940,358 1217,242 1125,241 385,260 1252,256 635,274 402,227 1073,253 879,278 898,279 1114,233 506,260 246,232 250,258 847,292 661,228 466,251 649,254 1193,249 605,251 340,283 804,250 671,240 474,246 334,232 919,287 964,347 1082,228 1238,250 986,309 1173,259 250,259 975,322 1230,242 973,325 1048,272 860,297 401,262 926,355 1139,275 1011,260 682,221 556,273 664,267 466,260 1127,249 569,243 817,256 391,259 1278,268 1008,247 1119,251 1269,244 1236,246 577,241 943,314 571,273 374,233 392,263 1197,271 698,272 822,224 260,200 1290,263 1120,241 1097,227 232,263 374,269 937,361 1195,310 632,225 1187,204 1272,256 1119,253 1170,260 982,377 1064,264 1265,254 580,321 340,229 680,233 686,253 1151,236 409,245 1003,245 566,262 822,244 693,267 754,247 499,242 1295,263 1270,220 618,254 1188,268 699,249 1039,249 483,265 605,244 1046,230 870,310 826,327 660,222 240,235 899,302 1193,246 664,256 312,238 897,305 677,239 300,246 552,243 707,229 458,258 958,362 1217,229 1254,264 558,267 1214,251 410,233 427,237 1294,249 1222,259 1277,262 409,223 672,254 1004,227 418,243 630,278 1215,289 596,253 1012,240 997,277 587,243 684,219 412,241 799,186 1019,262 1087,221 450,247 968,327 445,260 979,320 874,293 675,251 439,248 434,256 983,320 1072,262 557,253 365,305 1301,257 481,257 1093,238 310,258 360,245 260,253 1196,235 743,266 1269,263 825,249 459,239 410,260 598,240 378,226 1066,236 926,320 311,220 392,256 1069,259 1150,224 696,224 1261,215 531,204 230,256 463,247 761,244 354,235 748,248 807,234 682,251 558,285 658,294 586,248 433,247 431,271 648,237 732,260 701,273 883,316 278,242 1188,222 692,247 513,253 363,258 1045,220 304,257 893,338 1096,244 960,305 341,267 995,249 980,337 438,254 1237,224 800,246 997,277 935,336 456,250 1186,244 1278,253 429,274 1273,251 632,244 850,311 370,237 1302,279 257,230 363,256 424,241 462,278 379,248 502,254 1181,283 1302,233 754,280 1081,268 1059,237 406,256 304,232 1152,274 825,236 638,255 562,257 538,166 1053,266 1202,253 848,359 1172,234 558,248 1289,238 1232,263 990,288 860,317 1241,237 426,258 551,259 499,277 253,231 742,246 611,249 954,361 685,272 491,272 836,295 599,245 276,240 901,280 699,226 884,297 826,265 313,203 831,265 1179,222 537,258 1051,231 946,328 1291,269 1116,236 553,236 310,231 576,236 903,315 1253,196 355,222 935,344 1133,285 1290,240 1171,214 733,267 291,252 970,371 683,271 287,286 1103,218 280,257 1003,292 467,210 994,208 1167,268 383,255 1081,241 452,248 1240,233 1195,229 1177,256 421,270 1090,258 476,245 408,250 286,242 620,255 543,248 941,346 854,295 754,229 964,330 868,322 380,263 517,267 1195,258 598,263 1064,261 259,250 1153,219 1038,250 631,313 288,222 891,302 1082,230 1268,241 386,235 649,247 1060,273 1277,270 1054,274 731,230 870,305 868,347 1252,266 1077,249 517,186 1274,238 547,261 1203,273 1128,247 1115,247 544,203 545,228 1101,255 1289,281 955,338 1009,259 375,254 1282,253 470,285 368,248 888,312 1033,244 1193,252 669,229 406,272 962,323 552,254 734,267 1090,248 349,289 1178,251 794,273 475,261 1218,214 402,260 902,312 657,309 722,245 1170,256 267,255 904,300 488,263 1135,244 387,264 241,248 1045,240 810,263 955,330 473,243 1022,245 501,270 1300,286 471,255 303,270 474,236 877,289 614,270 1119,235 299,278 549,243 885,323 555,244 523,273 285,255 1200,243 1191,231 399,287 851,287 442,235 919,319 278,269 370,253 1233,261 679,268 409,260 401,239 844,284 902,330 844,277 529,233 369,242 1101,247 1280,253 866,263 538,248 1049,264 380,248 934,330 613,196 478,220 632,219 1171,248 524,270 426,255 733,269 872,312 834,251 932,321 610,246 648,271 834,293 1210,236 586,215 1203,203 258,240 732,248 953,377 1245,211 1277,248 515,267 1025,251 1311,254 534,249 264,250 345,263 509,257 511,239 350,287 285,280 1129,264 1007,244 641,240 413,263 735,244 888,316 514,243 941,332 259,268 759,241 264,242 303,242 440,225 859,314 795,248 741,253 269,259 909,340 1268,244 997,303 561,242 279,278 1150,248 551,242 277,264 353,269 450,242 877,270 629,246 823,251 802,231 410,275 898,312 551,271 458,243 1157,277 801,203 310,252 1046,249 616,252 756,255 432,249 263,255 332,270 602,275 1308,271 1074,264 881,264 1042,195 1053,225 428,233 1001,237 696,269 813,252 478,264 602,263 1083,235 879,296 1018,254 835,297 389,250 532,274 1276,247 954,340 872,349 990,287 971,391 547,257 513,256 569,248 285,215 470,238 489,263 558,237 463,252 521,249 336,262 928,333 1253,262 398,267 1192,259 325,262 865,281 310,299 675,263 891,345 423,240 387,242 340,266 726,234 1214,281 373,274 1191,269 1145,214 459,230 254,263 344,245 632,235 380,254 637,235 377,249 842,283 1051,247 469,249 1171,262 1253,271 799,246 387,283 458,253 641,230 501,180 1136,224 1275,226 1142,296 273,263 725,249 1031,223 906,324 1168,239 990,313 802,191 1194,295 408,240 218,223 871,289 1045,259 653,260 238,252 1045,248 350,208 1078,247 239,256 684,253 425,263 1125,229 1045,234 1195,250 1121,216 527,258 685,258 829,208 1103,269 614,239 223,197 449,265 916,306 340,249 967,338 953,333 222,230 1185,244 957,321 352,250 232,265 623,248 534,261 430,254 996,237 595,260 1268,269 899,309 1288,267 1074,267 1238,260 1152,267 724,289 400,241 605,278 698,221 819,262 1281,266 921,350 910,287 376,242 1004,305 1245,259 626,228 850,278 411,263 700,246 1148,261 1271,238 901,284 591,287 735,254 486,247 909,344 738,235 1253,259 962,352 629,244 1261,253 956,325 647,232 560,244 1185,239 1241,239 812,244 387,271 502,247 626,266 1179,267 695,254 824,245 1260,260 302,232 1290,279 631,250 1189,270 1177,227 678,284 1022,251 498,274 740,231 920,354 630,230 725,233 1011,254 1147,245 1304,241 566,240 243,245 1188,276 1054,250 1202,242 461,254 549,270 892,341 562,248 1046,258 942,373 831,238 1100,252 313,320 1041,268 490,254 1274,286 403,246 342,246 1020,233 1127,254 1121,261 659,248 583,244 581,236 890,296 1248,263 892,322 235,236 288,244 229,253 948,349 316,284 685,310 737,248 544,255 918,350 495,259 868,304 472,222 424,244 375,234 347,275 508,246 1011,271 974,383 901,354 610,280 912,327 804,253 563,253 1027,245 677,225 1024,247 235,261 1214,240 530,234 595,240 1228,266 874,284 926,325 1175,242 676,258 1166,245 757,237 1147,292 414,257 374,256 1046,242 1024,268 565,276 832,311 405,218 453,252 647,229 813,243 641,265 222,241 1214,254 600,236 512,246 675,255 1205,285 453,257 949,357 698,256 485,271 1212,251 1290,246 565,260 248,250 835,257 566,234 648,260 813,235 637,282 709,252 1308,223 340,261 375,243 760,275" marker-start="url(#mb)" marker-mid="url(#mb)" marker-end="url(#mb)"/>
</g>
<g stroke="#4a4a4a" stroke-width=".9" fill="none"><line x1="68.3" x2="68.3" y1="6" y2="282.5"/><line x1="67.9" x2="679.0" y1="276.4" y2="276.4"/></g><g stroke="#707070" stroke-width="1.1" fill="none"><line x1="62" x2="74.8" y1="12.60" y2="12.60"/><line x1="65.2" x2="71.8" y1="20.65" y2="20.65"/><line x1="65.2" x2="71.8" y1="28.70" y2="28.70"/><line x1="65.2" x2="71.8" y1="36.75" y2="36.75"/><line x1="62" x2="74.8" y1="44.80" y2="44.80"/><line x1="65.2" x2="71.8" y1="52.85" y2="52.85"/><line x1="65.2" x2="71.8" y1="60.90" y2="60.90"/><line x1="65.2" x2="71.8" y1="68.95" y2="68.95"/><line x1="62" x2="74.8" y1="77.00" y2="77.00"/><line x1="65.2" x2="71.8" y1="85.05" y2="85.05"/><line x1="65.2" x2="71.8" y1="93.10" y2="93.10"/><line x1="65.2" x2="71.8" y1="101.15" y2="101.15"/><line x1="62" x2="74.8" y1="109.20" y2="109.20"/><line x1="65.2" x2="71.8" y1="117.25" y2="117.25"/><line x1="65.2" x2="71.8" y1="125.30" y2="125.30"/><line x1="65.2" x2="71.8" y1="133.35" y2="133.35"/><line x1="62" x2="74.8" y1="141.40" y2="141.40"/><line x1="65.2" x2="71.8" y1="149.45" y2="149.45"/><line x1="65.2" x2="71.8" y1="157.50" y2="157.50"/><line x1="65.2" x2="71.8" y1="165.55" y2="165.55"/><line x1="62" x2="74.8" y1="173.60" y2="173.60"/><line x1="65.2" x2="71.8" y1="181.65" y2="181.65"/><line x1="65.2" x2="71.8" y1="189.70" y2="189.70"/><line x1="65.2" x2="71.8" y1="197.75" y2="197.75"/><line x1="62" x2="74.8" y1="205.80" y2="205.80"/><line x1="65.2" x2="71.8" y1="213.85" y2="213.85"/><line x1="65.2" x2="71.8" y1="221.90" y2="221.90"/><line x1="65.2" x2="71.8" y1="229.95" y2="229.95"/><line x1="62" x2="74.8" y1="238.00" y2="238.00"/><line x1="65.2" x2="71.8" y1="246.05" y2="246.05"/><line x1="65.2" x2="71.8" y1="254.10" y2="254.10"/><line x1="65.2" x2="71.8" y1="262.15" y2="262.15"/><line x1="62" x2="74.8" y1="270.20" y2="270.20"/><line x1="123.00" x2="123.00" y1="269.8" y2="282.5"/><line x1="172.34" x2="172.34" y1="269.8" y2="282.5"/><line x1="226.96" x2="226.96" y1="269.8" y2="282.5"/><line x1="279.82" x2="279.82" y1="269.8" y2="282.5"/><line x1="334.44" x2="334.44" y1="269.8" y2="282.5"/><line x1="387.30" x2="387.30" y1="269.8" y2="282.5"/><line x1="441.92" x2="441.92" y1="269.8" y2="282.5"/><line x1="496.55" x2="496.55" y1="269.8" y2="282.5"/><line x1="549.41" x2="549.41" y1="269.8" y2="282.5"/><line x1="604.03" x2="604.03" y1="269.8" y2="282.5"/><line x1="656.89" x2="656.89" y1="269.8" y2="282.5"/></g>
<g class="dj" font-size="15.2" fill="#404040" text-anchor="end"><text x="56.8" y="18.5">15</text><text x="56.8" y="50.7">14.5</text><text x="56.8" y="82.9">14</text><text x="56.8" y="115.1">13.5</text><text x="56.8" y="147.3">13</text><text x="56.8" y="179.5">12.5</text><text x="56.8" y="211.7">12</text><text x="56.8" y="243.9">11.5</text><text x="56.8" y="276.1">11</text></g>
<text class="dj" font-size="16.7" font-weight="bold" fill="#262626" text-anchor="middle" transform="translate(16 141.4) rotate(-90)">Travel time (ms)</text>
<text class="ar" font-size="22" font-weight="bold" fill="#000" x="75.6" y="22.4">(a)</text>
<rect x="79.4" y="231.2" width="213" height="34.2" fill="#fff" fill-opacity=".55" stroke="#808080" stroke-width=".9"/>
<circle cx="89.5" cy="239.8" r="3.3" fill="#fa3c48" fill-opacity=".12" stroke="#fa3c48" stroke-opacity=".08" stroke-width=".8"/>
<circle cx="89.5" cy="256.4" r="3.3" fill="#483cfa" fill-opacity=".12" stroke="#483cfa" stroke-opacity=".08" stroke-width=".8"/>
<g class="dj" font-size="13.7" fill="#262626"><text x="99.6" y="245.2">Travel time (Train Ste-Lop)</text><text x="99.6" y="261.3">Travel time (Train Lop-Ste)</text></g>
<g id="bot">
<rect x="107.2" y="316.2" width="276.6" height="262.8" fill="#f2f2f2"/>
<rect x="389.8" y="316.2" width="266.4" height="262.8" fill="#e5e5e5"/>
<line x1="76" x2="680" y1="316.60" y2="316.60" stroke="#000" stroke-opacity=".045" stroke-width="1"/><line x1="76" x2="680" y1="382.20" y2="382.20" stroke="#000" stroke-opacity=".045" stroke-width="1"/><line x1="76" x2="680" y1="447.80" y2="447.80" stroke="#000" stroke-opacity=".045" stroke-width="1"/><line x1="76" x2="680" y1="513.40" y2="513.40" stroke="#000" stroke-opacity=".045" stroke-width="1"/><line x1="123.61" x2="123.61" y1="316.6" y2="579.0" stroke="#000" stroke-opacity=".045" stroke-width="1"/><line x1="172.80" x2="172.80" y1="316.6" y2="579.0" stroke="#000" stroke-opacity=".045" stroke-width="1"/><line x1="227.26" x2="227.26" y1="316.6" y2="579.0" stroke="#000" stroke-opacity=".045" stroke-width="1"/><line x1="279.97" x2="279.97" y1="316.6" y2="579.0" stroke="#000" stroke-opacity=".045" stroke-width="1"/><line x1="334.43" x2="334.43" y1="316.6" y2="579.0" stroke="#000" stroke-opacity=".045" stroke-width="1"/><line x1="387.13" x2="387.13" y1="316.6" y2="579.0" stroke="#000" stroke-opacity=".045" stroke-width="1"/><line x1="441.59" x2="441.59" y1="316.6" y2="579.0" stroke="#000" stroke-opacity=".045" stroke-width="1"/><line x1="496.05" x2="496.05" y1="316.6" y2="579.0" stroke="#000" stroke-opacity=".045" stroke-width="1"/><line x1="548.76" x2="548.76" y1="316.6" y2="579.0" stroke="#000" stroke-opacity=".045" stroke-width="1"/><line x1="603.22" x2="603.22" y1="316.6" y2="579.0" stroke="#000" stroke-opacity=".045" stroke-width="1"/><line x1="655.92" x2="655.92" y1="316.6" y2="579.0" stroke="#000" stroke-opacity=".045" stroke-width="1"/>
</g>
<g fill="none" stroke="none" transform="scale(.5)" filter="url(#bl)">
<polyline points="1113,906 844,954 661,985 920,852 1131,945 888,878 588,855 366,897 612,912 758,847 711,886 1181,904 867,915 415,914 522,881 1167,823 1063,903 1231,912 1187,825 459,949 820,905 795,929 1065,751 233,884 905,779 1289,913 1250,897 1222,892 1076,855 587,889 932,854 1041,885 316,975 434,927 927,856 1301,937 1273,986 1047,836 1237,963 1301,861 992,868 603,866 1307,890 1181,902 1153,991 276,930 334,911 1207,1001 934,864 1039,858 825,857 900,918 1218,863 1027,861 748,898 350,824 1261,907 1031,917 1217,860 242,936 301,888 1167,972 949,886 650,897 336,886 365,903 607,916 510,870 1173,931 971,901 1246,851 817,908 746,926 237,827 239,755 570,919 1275,925 645,901 1057,884 706,853 405,883 528,941 1067,958 841,830 976,799 1208,845 1295,824 1230,858 798,898 548,911 339,883 1181,834 841,844 330,905 290,851 1057,940 968,834 869,863 732,910 507,914 425,899 1118,876 461,894 807,872 319,925 1016,864 276,897 1019,889 981,732 1197,895 1116,852 1262,917 925,791 1130,943 994,911 704,915 1225,890 674,881 1278,817 592,934 648,891 894,850 1216,911 623,974 870,860 731,917 623,915 1093,891 1074,839 552,907 1130,938 259,942 1257,891 453,882 902,865 384,903 659,923 375,881 340,891 1212,891 761,900 948,805 501,901 1253,833 587,861 548,850 1047,838 1118,912 537,906 1227,914 1196,851 1291,870 1170,876 1138,876 1147,900 1113,917 1157,943 430,840 1085,853 1263,914 895,860 761,938 365,863 784,997 571,802 533,938 1212,815 501,903 976,821 1012,849 1117,841 628,875 876,843 295,885 1150,835 1030,974 700,906 319,888 1192,868 524,941 627,863 867,909 1159,865 243,851 1139,824 400,831 878,930 1152,862 574,916 670,962 658,965 284,868 1002,859 445,874 1209,1038 1139,881 966,786 636,814 1114,941 1214,897 548,932 536,897 812,966 897,712 959,836 458,894 389,963 830,999 493,800 680,877 659,908 1066,951 1132,805 347,910 251,809 292,863 789,951 956,810 609,959 392,898 401,903 242,816 290,942 1201,876 237,932 429,969 1048,931 899,864 490,876 1067,851 499,881 1028,848 672,892 988,909 1194,912 734,938 1068,900 588,923 505,834 976,808 1262,926 1067,942 1233,991 675,900 541,847 1076,861 507,857 308,876 728,902 945,843 276,921 539,870 659,944 758,852 528,907 1231,928 746,921 1126,916 1267,901 424,912 1072,874 268,903 560,964 891,886 430,880 554,906 278,935 1274,874 223,860 503,857 635,871 919,856 1167,895 1165,938 802,847 225,930 608,901 726,880 394,827 266,881 399,883 1124,923 531,779 410,938 892,900 531,868 233,829 511,857 1126,883 694,882 1178,864 296,854 916,875 988,971 619,963 759,910 1261,909 398,892 1266,915 891,953 876,890 1292,861 564,870 636,848 967,819 460,841 585,882 922,859 1257,867 479,952 1260,939 285,909 1215,908 1121,868 498,880 504,888 723,853 736,930 604,879 378,926 583,907 919,892 1087,962 1265,829 734,849 644,940 396,902 1021,855 349,847 762,871 1217,908 707,915 1128,858 457,898 404,867 533,887 869,883 1025,864 1241,965 575,890 1107,909 963,806 453,928 784,976 625,952 1128,849 262,895 1227,842 1139,930 844,888 1301,871 552,918 1030,890 219,880 912,842 670,886 1211,870 429,879 507,888 686,910 930,876 1113,908 839,829 788,974 870,890 408,954 508,911 327,915 331,849 1137,910 1283,850 439,840 1125,920 832,906 528,907 705,946 379,878 247,896 260,853 448,920 1211,864 1281,857 1242,908 366,867 396,908 1251,979 449,815 846,818 579,865 1210,906 242,874 397,893 536,926 875,848 857,879 630,842 1291,876 601,898 614,874 458,820 938,866 316,913 558,898 252,1011 626,857 472,864 1135,916 1210,936 1282,940 634,884 306,915 1193,871 336,890 1026,877 1310,850 616,979 226,960 485,886 665,920 1034,974 1206,870 1151,980 1046,900 1039,889 932,872 238,903 529,971 242,904 679,889 1043,923 1077,890 747,834 341,910 641,919 445,898 969,815 251,856 896,955 743,882 1275,970 1175,932 439,973 679,953 297,866 1208,932 808,844 328,861 1091,855 897,1003 492,894 1129,813 899,950 387,885 975,893 553,867 1084,955 508,902 724,891 387,879 876,869 1051,847 1093,896 361,847 454,865 1252,933 1255,908 979,710 433,895 756,890 1176,931 611,879 968,796 485,833 1288,838 943,903 352,923 1250,787 809,888 990,912 631,838 1031,895 626,896 802,936 597,998 740,910 1104,918 970,837 247,885 684,914 576,910 784,817 453,909 1004,973 731,947 892,831 1214,876 867,867 708,873 1210,998 734,845 1275,949 895,851 310,890 637,869 1187,878 1075,856 1260,857 323,933 1264,910 573,859 869,841 1237,862 473,907 504,856 585,961 548,886 886,826 572,954 451,910 482,941 981,842 1276,939 722,923 1054,859 997,1003 1217,923 1077,781 890,878 1139,989 526,908 1134,888 518,842 1153,892 260,868 871,875 1046,939 662,978 331,962 1178,898 724,923 453,839 901,917 702,821 1305,795 1068,849 1141,1053 1193,846 750,899 1145,880 973,756 1028,888 259,924 413,875 333,911 575,886 532,946 584,936 480,1022 1143,837 731,856 556,915 941,872 894,845 731,937 844,917 304,888 883,889 878,920 870,1010 304,864 1019,922 1230,884 1299,878 968,837 864,870 638,911 404,1014 549,815 1178,901 1222,824 359,893 889,651 1136,826 861,854 481,947 304,930 735,911 929,716 341,941 880,863 1039,937 991,939 305,909 308,925 480,914 463,940 659,885 1140,961 489,949 468,916 843,953 978,825 1250,965 1139,866 1226,916 604,922 1144,846 1039,891 1034,882 916,941 676,886 1167,971 497,808 305,827 360,925 1014,906 467,896 834,919 437,954 1206,966 401,854 648,907 498,859 1113,911 831,845 761,877 709,923 662,918 1259,936 281,915 320,955 480,898 560,772 655,864 601,803 558,914 1178,937 1162,870 480,964 928,822 463,922 1030,910 826,862 1175,902 1139,857 843,865 913,849 286,753 995,883 1165,962 1007,896 1213,901 814,936 678,884 427,774 652,965 618,866 1280,927 834,903 949,838 1139,887 426,883 1050,899 630,905 992,936 1218,893 604,826 332,939 821,854 1151,895 890,887 404,924 686,884 399,918 785,896 1230,968 989,860 411,801 971,782 364,831 887,879 887,842 758,953 516,936 548,826 255,813 900,866 408,872 738,911 669,902 697,886 620,869 1276,950 700,948 815,882 959,757 787,825 412,960 394,839 259,836 728,905 1285,870 550,933 1139,811 1074,922 276,925 1188,930 1226,854 817,897 643,915 291,813 1136,956 726,923 965,781 254,899 821,913 1275,808 1132,837 403,935 402,842 1096,837 1088,874 642,888 1018,856 511,882 463,878 574,852 361,883 706,907 240,931 1169,965 1119,936 953,864 1044,877 1223,881 587,874 373,917 1197,941 277,913 1225,941 854,881 470,953 579,890 875,846 1235,806 287,841 1288,976 536,929 1086,820 841,1029 806,911 1199,852 620,943 983,882 506,900 859,897 425,926 1147,878 317,804 758,889 892,920 242,917 901,827 261,1003 846,871 1290,859 338,922 876,819 1051,943 825,930 954,899 379,877 941,911 942,761 823,932 414,847 1198,947 734,907 440,887 1259,833 1248,870 1168,909 301,909 1123,864 1076,925 750,898 694,869 534,873 696,980 242,920 1069,878 694,874 1228,938 303,875 1166,916 1085,885 320,842 1015,833 464,905 384,920 576,952 532,954 894,937 628,918 1251,924 848,896 517,925 957,825 421,861 1094,891 296,810 609,880 1050,881 526,865 1166,904 906,854 920,762 413,875 587,866 819,898 614,836 817,957 1128,972 1123,863 629,887 1262,894 788,903 943,827 305,923 624,915 522,995 891,853 240,961 350,879 799,942 411,855 652,971 824,950 556,843 556,866 1039,872 888,847 1214,910 538,918 1279,953 795,879 1265,935 893,853 1005,884 625,915 334,929 491,903 1191,879 392,866 523,830 607,884 414,878 1116,958 1072,854 465,939 680,927 1010,857 434,880 466,922 323,862 389,928 1116,882 569,915 1243,960 1235,932 1127,886 241,919 233,884 425,956 734,924 502,863 893,907 420,890 509,917 572,899 870,906 1155,934 339,900 524,891 1058,874 680,965 852,887 314,848 597,882 704,937 808,966 1171,959 531,919 334,858 704,877 293,964 1289,924 945,897 722,954 1276,855 462,840 415,848 925,893 453,904 870,865 916,843 806,868 1139,908 1193,847 800,851 451,881 1273,886 1274,892 846,965 1101,868 730,798 982,955 756,906 336,869 898,927 699,876 449,945 969,859 1272,950 1031,921 511,854 1220,929 677,946 227,834 974,805 549,931 1294,954 825,867 1043,987 522,947 1146,903 485,908 1206,915 488,956 552,922 648,938 503,846 727,856 1089,871 1119,954 516,966 1066,910 1295,909 942,803 705,879 877,903 615,890 620,853 297,824 658,869 931,844 978,796 724,862 1239,870 967,864 1030,871 445,842 826,924 698,911 1005,900 251,936 354,847 242,932 601,962 582,886 1177,883 1216,918 938,832 508,919 347,901 818,708 540,869 1200,938 811,897 1097,854 1116,884 848,872 1134,867 845,844 854,967 1195,895 404,963 1232,914 1202,914 585,895 344,933 1044,877 695,892 1113,907 424,803 984,872 817,905 1263,872 648,922 651,949 1127,868 636,851 509,869 945,768 1134,901 1049,963 942,833 645,880 391,843 812,968 571,892 846,942 1252,887 1266,919 1028,974 758,853 500,903 337,928 472,886 409,856 461,816 1191,903 927,872 599,900 553,880 1099,861 895,878 560,790 808,952 866,833 623,982 1071,958 1075,876 1157,737 1267,959 723,919 936,808 682,897 524,943 446,821 334,903 283,909 231,901 947,909 655,923 409,903 919,866 288,878 501,904 554,781 960,837 402,894 1231,969 1013,938 1191,906 1008,924 759,900 727,901 622,813 269,904 1276,932 686,898 1294,878 839,878 790,976 1299,968 407,912 913,859 336,932 339,881 1027,799 818,860 412,992 514,818 231,918 431,887 926,821 450,940 1116,928 813,919 754,905 900,939 989,913 502,922 1149,885 1295,885 1134,878 1260,939 234,893 1138,819 304,908 408,761 910,914 401,912 671,934 1201,887 1279,936 966,860 987,862 364,765 1188,935 1161,939 573,896 487,871 1289,941 485,1004 424,911 225,878 1213,931 843,867 986,929 1168,926 851,907 829,891 906,862 972,832 1133,874 854,880 1182,896 508,907 404,846 809,966 984,866 260,893 1214,918 823,919 975,814 1278,883 891,909 247,908 848,914 1191,881 1243,933 1124,892 703,914 352,958 800,910 1194,858 684,846 754,846 1043,971 408,801 1274,876 428,939 677,911 677,889 1106,894 335,944 664,898 255,995 692,961 890,825 388,888 1193,916 1062,907 1120,876 1220,856 940,822 958,855 440,912 606,910 853,908 1146,859 238,908 807,949 635,881 1196,899 292,883 275,830 411,913 218,922 1015,866 326,945 704,873 1309,848 901,879 1140,886 911,770 1073,972 824,904 790,991 1030,909 955,863 1042,903 289,920 502,856 947,784 888,870 695,929 308,928 497,818 662,848 340,885 253,905 976,800 408,971 681,912 952,806 857,905 1205,914 477,834 380,914 794,946 913,851 283,907 1126,912 863,874 971,832 1169,926 580,886 1206,904 676,986 624,888 784,835 695,890 1263,906 414,889 554,900 238,867 921,912 440,822 263,904 549,950 696,882 303,957 956,795 458,920 1098,872 959,860 700,892 468,891 975,834 1075,898 1021,878 675,915 632,897 231,886 724,877 504,961 466,866 1271,910 577,884 290,901 260,850 1024,924 308,877 872,954 1152,889 1094,854 450,949 985,939 797,890 1190,781 833,932 1007,928 301,921 647,879 628,913 1213,958 840,856 904,813 814,924 575,839 608,992 869,852 856,941 658,830 466,947 401,881 622,873 804,924 734,838 498,909 345,916 404,882 942,827 258,960 1260,854 1299,910 278,944 921,839 524,864 846,833 293,877 751,864 473,910 379,905 532,931 645,877 886,911 588,909 272,883 405,790 476,893 275,841 1129,854 313,900 870,925 796,881 681,958 319,875 845,888 545,913 1280,874 1013,903 1208,905 1240,908 564,929 1198,910 249,922 403,920 525,919 1263,911 857,910 402,831 1086,988 1139,896 325,933 263,881 1091,934 325,906 526,892 1088,952 395,926 705,936 440,871 675,936 384,880 694,958 1094,898 891,871 328,843 509,937 827,879 328,868 1017,897 814,900 900,865 1276,910 505,916 664,948 842,920 513,847 1219,881 697,841 419,917 904,921 1097,911 385,864 302,929 997,904 915,916 641,908 404,880 1269,947 1193,921 818,881 1161,895 281,857 951,807 542,876 1047,875 411,888 412,938 264,923 746,900 966,819 346,842 721,962 628,906 250,936 1202,878 610,896 901,883 1148,894 957,818 1119,853 820,916 332,761 708,942 1275,940 434,908 1275,974 331,790 237,923 439,877 1286,868 644,906 840,880 1277,901 262,900 1113,882 823,895 340,899 793,913 1245,888 559,805 1308,880 674,961 843,953 306,822 314,897 408,794 896,906 803,855 376,866 1034,909 1185,863 1266,870 620,869 952,811 1298,887 616,904 524,890 662,910 287,957 661,879 708,874 546,864 1233,940 1067,899 583,875 1204,887 419,920 286,940 823,814 1021,949 1002,885 498,977 233,910 742,871 1048,887 504,901 371,935 589,880 589,991 283,944 1050,874 259,882 1310,918 1278,933 582,882 985,862 431,864 519,891 1161,945 1001,933 1025,925 595,940 1035,959 1228,894 1151,859 922,849 787,896 685,901 1136,937 889,888 624,875 1294,917 988,846 1203,804 462,939 1187,864 477,975 1142,940 433,906 379,925 238,955 375,901 1052,973 850,890 820,958 1125,999 730,905 1194,925 1089,923 1199,930 981,917 364,874 941,845 239,943 1306,938 746,796 903,902 237,939 294,919 218,828 395,910 706,877 409,950 970,864 703,846 448,897 1064,976 328,910 800,904 477,926 1104,927 662,948 633,768 864,927 957,767 576,910 546,944 1200,870 468,892 1021,678 702,951 976,790 447,876 833,936 954,736 311,866 954,768 1121,922 955,848 1241,861 971,869 637,898 1030,913 1297,881 412,896 415,921 684,853 1170,791 1034,948 852,1003 1102,879 891,923 218,864 966,881 240,900 744,908 681,838 515,938 1118,875 795,927 866,1077 629,915 667,886 491,897 407,1007 650,875 694,851 1248,1006 590,961 674,927 877,899 1275,851 739,916 760,893 1200,909 743,924 1133,903 1100,885 627,866 877,978 1189,843 875,919 599,919 299,838 1150,955 1212,854 218,827 434,916 1299,834 1101,898 610,893 231,943 931,823 731,994 221,933 709,891 853,784 486,868 839,940 672,850 890,903 1039,887 385,873 927,836 870,882 377,934 1065,934 1275,865 902,833 745,868 1103,848 424,899 1141,825 735,889 388,894 798,887 831,952 482,913 422,888 401,895 662,929 435,896 390,864 1163,965 797,936 1231,855 522,913 1296,1012 975,784 565,972 1206,917 438,944 513,900 883,831 1143,889 1035,837 558,819 1216,969 597,865 909,846 1175,891 824,881 1276,974 1056,930 404,847 1008,896 1027,862 1261,853 702,911 556,891 402,928 825,914 664,905 939,830 1176,928 1249,901 415,839 463,888 970,835 337,886 1007,926 942,827 538,967 305,830 1187,911 473,868 937,826 292,907 1138,851 851,856 728,867 477,907 1296,952 1088,934 571,859 423,959 406,935 1203,962 706,926 956,816 904,839 406,953 1100,917 402,914 499,895 870,887 1223,938 729,833 661,897 1043,858 538,884 1254,906 848,898 1308,786 379,933 1057,881 219,913 531,874 708,920 451,982 1029,857 468,900 1147,974 349,860 1087,856 319,928 1152,989 579,902 629,883 1102,964 783,937 271,883 412,859 1045,961 438,903 996,907 1096,905 218,868 973,914 783,914 410,877 894,785 759,873 1295,813 277,897 1165,891 268,907 330,944 1240,864 1304,958 1210,899 331,801 630,933 1089,855 1144,895 232,926 379,967 1225,906 1141,884 799,895 1203,911 631,927 908,850 520,826 277,938 417,883 482,849 743,910 1115,796 218,899 290,933 1165,864 906,806 1152,848 339,897 473,876 1138,905 1290,849 1047,872 389,858 644,859 1003,942 1287,925 579,898 947,860 935,881 579,923 1178,883 1172,918 1139,901 280,890 872,811 234,939 625,886 888,874 1275,862 547,912 1292,912 893,921 801,944 784,918 671,821 401,888 538,846 735,950 317,905 726,925 282,861 233,914 949,778 1124,887 348,869 877,897 1141,936 1072,924 587,937 1145,868 923,858 469,888 1309,922 408,946 954,840 1268,860 865,896 639,910 602,922 380,892 706,956 669,955 350,888 927,795 663,884 296,838 1028,948 1142,947 936,838 366,893 948,816 1043,910 277,943 415,941 899,897 1270,921 1244,888 467,841 732,932 357,867 1150,909 958,868 992,891 1279,920 1172,900 661,967 504,887 297,902 1293,907 1113,866 1258,843 796,890 892,851 1175,883 1223,897 924,929 1042,900 997,916 466,825 498,899 279,872 1252,864 491,888 321,871 1007,864 1244,880 642,879 406,870 316,932 944,931 695,955 722,901 1121,861 316,907 626,865 1032,908 1066,930 1166,881 647,914 235,821 852,858 1293,919 744,887 559,901 879,883 1225,879 1242,857 1205,923 1051,954 252,941 332,915 857,922 1036,959 1265,843 1098,904 400,860 403,873 1189,912 1050,964 401,859 622,884 287,1001 1097,936 842,902 868,919 607,881 1163,950 1112,852 1205,869 1301,892 1076,894 494,935 1164,875 751,910 682,909 903,909 485,902 1133,877 783,874 329,982 808,842 261,908 1038,897 1173,984 540,860 895,916 632,897 490,884 1053,869 469,888 508,823 683,878 1266,905 1115,843 662,892 607,953 401,921 580,895 788,882 1172,908 611,917 259,943 1056,910 290,849 550,918 1224,906 466,882 667,910 1244,894 706,905 934,822 1200,891 356,885 1236,821 1241,905 882,915 499,844 619,878 729,902 421,864 235,959 835,968 905,854 433,839 937,894 1297,871 1230,866 703,877 826,914 1120,812 251,917 1048,922 1046,846 631,847 1059,886 424,851 246,877 269,906 686,813 309,839 803,880 312,880 458,922 783,950 1164,902 965,836 244,851 818,904 709,884 426,883 1117,924 734,939 862,911 583,871 400,902 1143,897 1299,905 899,897 370,842 1116,898 587,876 347,881 1186,935 1145,941 1112,819 1065,885 1245,830 876,857 586,872 598,804 1113,913 784,856 1018,810 1276,900 532,857 666,924 1250,877 647,914 611,881 534,957 890,963 396,893 1046,887 539,837 1040,857 1227,873 1069,882 708,900 799,958 992,903 957,840 235,871 747,893 261,886 1300,885 1245,835 295,902 1052,880 938,740 820,887 1098,760 723,843 917,867 445,861 1245,835 235,873 411,964 902,882 514,944 1148,954 871,907 791,874 854,985 1091,885 631,951 757,829 1286,879 873,870 806,888 249,931 748,758 927,894 404,940 1134,901 321,935 275,911 834,895 1242,892 1170,960 1220,891 806,1066 249,905 1118,974 1264,907 245,943 509,862 1147,935 658,918 629,919 1075,901 439,1063 964,777 892,904 1005,907 609,926 285,860 639,864 1073,893 661,896 595,882 640,869 1100,887 614,869 898,870 722,905 921,824 835,918 735,898 1180,927 1184,918 1120,867 1116,929 738,982 390,909 855,858 1270,931 474,869 391,940 515,920 989,901 453,756 810,974 287,893 259,889 640,914 907,870 475,916 1289,927 863,911 577,918 1138,962 699,891 1291,902 1104,779 1202,916 423,933 300,874 1173,938 1083,905 866,942 1165,948 513,952 698,892 367,909 679,938 407,945 448,950 563,928 455,963 1005,853 575,914 384,958 1173,870 1301,903 1156,940 709,888 278,929 788,864 1177,851 453,915 1082,950 412,934 707,907 301,853 564,903 1236,944 747,931 818,860 1281,843 1200,898 260,969 730,885 414,848 567,914 523,908 704,1027 309,899 236,883 571,929 1107,890 952,799 225,962 382,818 233,865 639,925 561,901 1091,880 378,920 563,847 726,978 734,803 1159,859 1224,849 587,933 952,780 648,923 482,799 299,907 259,862 505,878 857,847 1061,850 625,830 620,885 331,940 1308,856 1249,1008 577,986 866,908 1115,918 716,966 1030,903 495,943 993,867 914,885 482,890 228,894 810,930 1110,959 1137,990 928,830 473,972 900,901 989,931 351,855 311,940 261,917 1002,917 465,952 310,953 529,1042 785,835 376,898 260,861 249,871 1215,903 308,808 600,928 831,1032 487,872 521,877 881,958 593,962 576,936 410,875 1151,1040 986,861 517,873 291,934 1188,920 501,931 963,894 923,818 1143,822 335,894 461,952 702,892 353,848 988,940 1220,878 1228,882 705,826 677,904 1120,897 821,905 639,946 327,857 974,846 349,934 1058,885 1171,912 279,871 728,863 403,801 932,871 262,828 1307,928 547,993 945,829 224,887 708,973 1023,855 442,926 474,883 274,877 1220,895 808,944 1193,937 826,962 635,894 574,855 1264,898 307,945 1227,931 784,825 530,817 314,884 1168,919 805,999 1209,975 453,917 705,917 578,918 598,781 1137,1003 921,802 1191,941 309,899 400,916 798,936 244,906 907,881 734,912 722,876 1273,923 856,902 897,950 1053,890 508,807 388,862 1035,872 509,891 968,779 1288,899 1193,906 549,831 352,874 354,916 748,902 509,857 577,876 484,961 1221,865 735,1068 990,897 706,897 315,936 430,857 246,834 820,976 408,981 969,819 297,845 659,842 706,826 593,944 902,735 260,867 1047,811 368,929 1154,907 1199,820 1150,899 1128,904 1147,893 1162,891 951,782 860,865 811,898 648,858 943,863 528,866 826,822 793,853 702,912 253,893 254,905 1242,900 316,929 1201,945 940,804 943,851 342,910 1304,924 519,889 957,868 592,913 1124,820 1122,914 944,802 1008,830 1126,888 437,890 1050,1027 410,849 709,846 992,924 1290,818 309,833 755,900 1116,840 1291,891 732,898 361,949 1291,880 509,913 533,876 1005,941 666,918 1119,851 238,867 262,864 1219,880 688,893 488,887 1248,875 474,886 1176,836 1302,875 657,858 1226,958 283,877 1146,841 243,964 226,800 383,928 610,985 644,884 955,810 427,924 476,930 888,860 1165,985 1143,943 393,859 832,896 445,873 835,884 407,879 889,867 866,932 401,857 1045,836 868,821 1214,948 758,935 794,908 1123,916 1200,951 529,924 405,838 989,955 707,861 362,933 918,856 1210,929 1292,889 1012,825 1290,902 1057,904 649,918 471,955 413,852 510,874 1060,889 817,886 424,879 952,839 1104,840 1220,921 1198,884 903,884 260,845 323,911 527,951 560,957 310,933 841,900 498,886 1120,824 412,905 811,958 1288,937 463,955 338,845 1251,910 510,851 731,941 483,871 1247,880 617,937 420,907 631,898 800,928 546,906 1156,870 248,933 1238,920 895,868 1043,874 1020,897 1239,873 250,950 291,930 474,894 1298,835 872,922 951,825 1274,844 518,997 744,949 708,962 1087,929 1238,832 1090,891 266,858 391,871 571,892 900,890 1117,859 306,880 644,968 1285,825 271,907 1008,967 577,949 1288,897 652,924 960,771 350,895 586,892 438,960 378,870 483,847 1164,853 661,921 899,897 646,934 1279,921 318,858 1261,863 950,874 1280,900 251,805 1099,950 725,936 1031,829 1306,925 412,873 729,904 1076,873 892,882 1200,919 597,926 880,825 745,934 869,891 246,895 251,862 635,874 1051,898 494,870 457,917 822,973 733,870 1221,814 1065,1016 532,904 260,926 429,875 1177,867 1027,815 669,914 1010,883 706,846 1167,916 491,824 817,818 982,894 456,887 888,897 346,914 256,850 1286,957 703,937 398,857 804,892 480,886 260,960 1103,940 1017,860 1268,870 803,894 473,947 1139,947 804,1009 463,917 563,910 571,869 1115,884 558,864 312,884 926,795 831,1048 556,890 995,950 741,903 925,895 612,947 352,940 639,915 234,983 343,901 854,856 375,863 393,984 1261,862 1157,904 1261,892 521,894 752,800 1140,848 500,915 633,851 1060,960 354,1002 439,958 510,882 440,964 936,897 276,864 1141,919 946,780 1064,900 993,851 1015,927 227,953 725,916 1293,856 1149,920 946,888 911,912 1203,860 758,940 504,907 344,928 996,905 951,770 920,919 576,866 838,905 831,911 1294,889 319,971 839,927 1120,868 986,966 894,828 1285,855 920,866 963,806 548,914 902,839 1197,911 468,915 936,853 932,838 527,865 327,955 262,841 1043,824 590,904 563,896 288,830 633,871 1214,881 267,859 1157,973 1289,879 670,873 925,840 810,903 639,831 1216,849 784,865 1273,856 1267,887 570,908 1023,889 580,911 871,793 1088,874 1029,860 458,867 896,870 573,932 1188,907 554,879 1122,879 1020,887 1144,876 457,828 600,880 300,875 511,887 729,904 867,930 437,917 639,909 1251,959 539,893 336,783 935,847 1158,887 277,888 459,930 1137,902 238,957 374,917 376,834 377,904 821,873 1049,912 489,874 1296,849 1015,875 726,887 1161,904 1203,947 980,848 1303,901 1161,863 1279,866 337,875 1135,868 632,914 504,854 922,826 304,951 231,960 686,923 380,872 662,888 1080,896 398,878 1168,897 904,865 888,747 439,872 454,855 661,853 895,868 1015,946 287,946 267,896 1227,903 602,942 324,885 573,851 1042,952 293,947 744,927 297,894 498,965 1015,899 1118,818 289,912 538,800 649,910 836,864 598,921 623,885 1043,910 1283,902 725,921 1123,906 362,883 1301,922 895,850 412,916 705,974 746,944 989,908 921,831 597,962 959,840 1051,841 732,955 996,936 1193,910 284,898 1096,856 1129,942 419,958 856,851 676,884 1224,902 646,914 1264,910 1064,849 277,886 513,861 543,898 1200,866 1087,837 918,933 942,828 432,857 457,940 900,942 997,884 1271,867 891,906 1296,852 1307,925 1099,879 237,895 709,921 1249,868 1046,874 976,863 313,950 503,879 468,880 705,913 699,895 397,872 452,949 1008,861 386,795 230,962 671,917 998,936 355,879 897,856 905,809 758,887 694,928 352,808 954,823 737,909 744,896 755,919 955,824 336,926 247,936 792,904 1298,870 294,826 413,905 1155,947 339,888 526,907 1199,881 944,903 1265,892 1100,900 1263,850 872,952 416,888 1238,860 982,894 941,838 1207,842 1045,870 331,864 1251,908 286,953 751,886 722,934 371,931 994,827 385,872 306,914 960,780 787,902 1045,928 1292,896 531,979 250,907 794,873 699,984 306,862 288,854 1188,875 1167,882 358,887 434,919 924,817 1286,943 829,887 736,907 412,860 366,855 1000,901 1067,865 1176,967 730,972 1161,976 648,928 598,964 1042,844 1142,874 890,931 1081,918 831,967 351,906 544,920 1138,904 1268,936 1084,900 827,958 798,940 538,889 1240,890 642,875 1242,859 804,853 526,871 999,851 840,974 1149,943 630,947 1241,992 1273,898 678,861 977,790 1201,962 283,916 426,881 338,891 708,866 312,824 1163,928 993,962 236,891 1137,886 689,837 914,880 287,940 1275,837 1107,888 1147,958 568,903 309,915 565,861 319,939 477,847 574,879 724,839 754,871 381,1004 310,879 1093,945 729,881 761,851 232,905 873,941 1108,874 818,839 1266,835 928,868 906,889 966,788 741,844 1310,858 361,915 718,909 1042,860 572,961 972,843 358,965 1115,876 929,841 337,887 863,932 439,854 566,875 945,836 256,907 807,956 1120,943 1167,832 555,874 722,863 876,908 635,922 567,878 998,920 1201,881 452,935 548,932 320,850 400,954 1124,887 1116,958 580,900 1238,879 1304,961 1291,908 1027,851 1205,916 1195,861 831,899 643,894 473,840 1145,919 1236,896 687,842 593,931 1045,935 545,842 1234,706 973,786 922,885 230,958 559,939 559,824 234,870 1226,949 1132,879 1284,883 504,911 464,837 652,878 1176,903 565,909 805,986 379,907 400,922 472,918 796,912 507,896 1289,906 875,956 1059,951 659,938 945,805 477,833 876,967 436,871 1288,903 645,928 747,918 979,839 843,905 734,892 237,960 928,855 989,870 926,783 619,904 530,848 630,901 987,893 1046,863 391,911 601,901 370,896 1112,872 1200,927 1131,861 493,902 1264,891 808,948 312,921 874,826 695,866 1115,924 1252,818 1089,906 634,883 1097,902 351,946 537,835 1046,946 548,796 625,899 803,887 1048,903 1163,1113 705,899 667,971 240,924 926,869 413,915 701,946 1284,888 219,898 1237,864 745,876 1121,948 299,882 529,1015 892,868 917,835 642,902 333,884 1109,912 513,939 500,867 300,898 222,795 803,919 511,849 687,911 465,943 1228,947 1251,932 244,934 758,905 908,853 923,832 635,738 489,872 793,911 1294,876 1294,872 911,774 1285,871 988,905 520,902 1136,869 1069,927 985,945 424,870 990,963 439,904 792,907 237,805 479,929 945,854 1091,837 497,784 903,772 1075,1005 627,881 1119,862 430,945 802,924 376,926 356,985 531,938 657,881 704,832 955,906 333,937 462,944 383,891 1189,908 391,848 1029,934 943,787 950,873 964,791 937,867 871,906 464,900 308,944 1191,902 877,921 254,913 308,917 972,904 1127,916 603,894 1125,902 950,835 564,832 306,854 555,980 819,960 452,830 300,910 327,907 728,973 852,959 825,873 644,899 475,927 820,936 908,838 928,854 723,905 473,894 1022,910 960,869 640,895 838,898 846,904 1130,921 1202,873 1101,877 900,921 1256,906 1140,905 936,832 942,805 865,981 479,880 732,943 1303,861 1038,862 1308,980 529,959 755,963 549,972 1284,873 933,838 380,849 434,938 1122,897 575,897 1207,860 476,835 1250,902 939,886 1141,908 339,917 971,838 1272,881 807,941 861,853 978,934 278,897 351,995 238,872 871,869 1269,914 1305,879 356,893 1256,945 1135,903 492,910 545,880 303,857 221,903 426,908 272,880 365,973 1037,948 916,844 650,806 410,897 948,823 1204,857 308,998 636,932 1285,856 648,906 1131,879 802,894 283,795 1175,914 921,892 288,948 365,885 1216,916 266,862 935,809 686,884 1127,817 577,852 1045,881 688,838 568,837 685,919 1154,848 1297,891 505,901 1115,960 801,920 752,908 487,920 1002,906 1134,886 967,865 308,832 922,828 930,890 314,893 343,904 1311,943 401,886 1164,831 885,831 816,832 518,838 731,925 1287,872 510,849 236,866 952,790 670,877 348,855 796,942 1193,866 501,920 279,953 869,842 503,870 424,854 659,864 531,851 638,889 1239,843 704,896 1001,827 240,887 789,870 909,963 459,913 1249,855 960,789 961,823 800,859 535,897 1117,894 852,939 955,829 1124,849 834,897 999,937 649,946 384,904 1289,919 309,824 234,905 233,933 974,834 661,891 1169,903 678,894 1307,936 835,874 847,725 819,874 1127,894 431,856 664,929 233,876 1016,888 1031,946 584,909 1224,853 872,871 566,913 807,917 497,880 1059,935 1167,947 924,889 483,903 1154,895 1109,851 952,844 552,909 799,910 1249,863 1123,896 815,929 834,917 501,826 1087,876 1116,932 910,864 876,944 761,888 1119,926 1044,911 795,909 1123,907 731,878 482,843 1100,910 434,894 1099,927 497,903 555,939 979,789 671,952 528,856 486,848 288,909 1094,917 1184,897 813,949 571,895 458,884 891,888 361,833 235,898 979,869 334,896 1143,876 987,864 1140,933 867,884 734,915 379,905 1236,950 668,865 992,915 317,848 429,925 368,864 235,914 437,816 1195,1091 1139,901 1048,728 573,889 754,900 673,868 1227,875 1161,926 1115,963 823,911 1206,804 959,944 464,862 799,949 537,909 1068,840 740,916 1176,943 1172,907 479,899 517,896 868,857 1046,912 355,869 1215,850 410,923 999,896 1205,845 1306,874 1003,959 888,920 925,770 610,834 844,910 862,891 955,825 1097,971 573,902 859,959 926,858 637,918 1153,827 617,917 414,921 1211,897 684,927 285,909 1094,868 467,872 1171,953 291,848 745,880 1196,941 527,870 1156,879 1137,920 868,939 893,851 503,875 425,840 898,862 881,825 282,880 1306,893 672,1018 1048,839 380,984 606,881 941,815 1250,918 1206,941 609,910 868,849 313,897 1228,901 327,868 1289,947 1023,884 814,883 1186,930 375,914 851,858 313,960 980,845 897,928 747,875 1302,915 255,909 992,957 1193,797 806,875 856,879 451,1043 258,940 873,937 970,795 584,931 1298,897 509,882 331,850 730,906 1000,861 538,914 681,915 557,922 324,891 1175,840 652,933 956,782 1273,900 338,861 614,889 1216,917 1157,912 1114,911 865,973 995,1064 1198,800 230,940 913,883 270,871 899,889 1246,877 1049,935 935,849 1229,835 1074,934 594,870 351,878 849,1050 710,942 1078,979 1134,913 958,879 686,791 1261,890 459,937 980,844 1229,883 670,873 341,918 620,1018 747,894 813,889 386,885 986,961 1118,877 749,952 1085,888 658,833 337,898 659,906 365,865 246,988 1211,952 1298,861 622,918 725,896 1212,948 393,872 341,882 804,900 270,904 1031,902 286,920 954,872 563,897 1102,830 596,824 998,879 1238,920 485,960 489,879 382,929 1183,862 602,880 690,911 1197,992 640,888 600,878 1177,865 833,970 1050,885 579,935 1052,926 1262,932 296,868 468,867 357,904 379,830 994,965 290,873 315,863 222,879 1043,895 1017,964 1299,928 304,912 481,891 945,839 1250,862 236,899 1115,822 1051,896 829,914 1201,878 1293,891 474,903 878,896 1049,879 612,873 1132,865 1076,891 910,866 1307,931 970,848 805,938 1169,935 980,862 649,913 596,955 390,924 798,822 602,951 1122,957 656,891 466,859 811,872 412,867 381,918 971,858 310,858 658,853 258,908 465,948 1055,893 1079,912 265,868 567,849 1007,911 724,929 658,915 1164,911 940,778 240,866 806,887 277,962 391,889 306,845 1213,910 1260,935 547,881 572,927 649,885 703,919 992,893 1022,896 260,924 696,885 903,824 1128,921 1244,909 804,911 744,945 222,906 1078,862 222,876 1152,979 1206,840 1068,911 442,851 229,904 579,877 1055,940 936,793 652,905 1016,883 581,931 875,882 761,961 1309,929 569,874 512,874 1029,856 1190,930 226,880 1272,928 939,846 708,907 759,881 661,907 732,1044 620,879 420,949 409,892 379,910 935,880 226,875 495,972 235,901 487,922 1009,919 803,898 573,906 1189,845 728,993 447,924 292,912 395,763 652,918 294,875 926,865 1121,850 707,842 530,829 637,960 822,934 401,939 847,904 825,898 921,881 459,903 1300,900 621,958 821,976 1194,897 647,882 1288,930 434,886 1217,840 342,891 578,896 948,854 1300,960 1272,887 526,897 1256,852 603,886 609,956 678,932 382,895 1074,933 1120,900 1038,829 1279,863 700,869 659,857 1182,917 1042,885 522,811 1133,931 684,928 644,904 413,848 736,943 1100,859 1188,895 303,881 789,882 927,844 478,904 250,871 1038,936 705,868 1218,905 1218,827 418,902 686,900 377,846 848,871 651,980 390,869 812,946 1287,906 784,880 573,935 1105,784 1248,912 385,923 1300,904 309,869 901,846 336,846 592,926 633,806 1225,837 568,907 423,920 683,917 362,841 951,854 295,897 909,781 1053,915 832,944 357,904 539,792 425,940 1189,882 1266,891 1044,972 494,901 1200,845 1229,869 1122,869 1238,899 610,913 1096,859 1260,926 754,853 434,914 418,906 648,933 1193,824 1169,960 740,951 558,880 489,937 992,880 899,881 731,898 1165,923 1126,818 1152,868 1091,839 705,850 1051,894 1203,887 1028,972 236,913 449,834 815,912 262,914 329,879 956,836 334,880 407,913 453,859 237,869 1109,915 265,869 1130,866 808,942 243,870 785,931 811,946 222,927 262,954 619,937 978,855 398,895 394,868 866,853 943,884 330,896 809,832 796,870 1202,920 919,884 597,951 868,854 662,880 400,869 320,899 1211,913 918,842 618,910 649,857 499,885 254,970 410,837 570,883 939,788 1098,872 1281,866 944,828 1058,887 768,969 1018,933 1266,831 809,906 1177,936 416,873 513,955 1285,796 879,894 225,879 825,869 404,878 229,883 887,886 1074,827 1227,898 634,926 559,805 257,919 442,897 627,925 853,911 1072,879 1031,873 1289,859 799,869 1202,982 432,868 859,919 411,858 667,853 879,803 813,892 762,890 1258,861 420,895 1187,817 563,877 807,966 338,903 799,951 349,953 797,831 819,896 618,942 923,813 1216,980 281,902 400,931 898,881 723,874 1224,885 1269,865 1303,928 1173,920 805,934 504,904 531,923 903,908 1059,892 1212,901 321,885 959,833 1022,761 1297,905 1076,957 1103,905 1030,853 851,912 338,947 1280,847 1224,948 1056,945 493,896 631,912 622,897 502,883 1193,913 1218,893 734,979 706,858 1075,950 686,889 1271,899 435,861 473,866 464,949 840,870 1249,850 647,786 1115,856 625,879 236,907 408,856 336,892 977,843 1108,900 1268,890 880,928 614,831 1155,960 507,924 266,903 258,855 1049,955 804,808 1228,934 949,740 1205,803 338,927 704,866 732,904 1265,858 1189,870 335,887 1047,941 1029,898 876,932 961,861 504,862 645,909 385,863 1225,924 738,904 526,925 1232,904 491,846 400,893 660,959 984,859 346,858 572,942 230,870 1196,863 515,957 452,956 1158,888 925,894 1191,850 305,886 628,897 1175,946 1210,854 474,925 878,811 696,868 858,907 572,940 318,884 1218,920 608,865 1245,942 959,791 993,918 865,932 872,905 1241,761 959,807 808,871 723,847 951,834 1237,801 644,919 323,833 785,910 532,910 792,894 1199,907 413,823 252,919 382,924 1309,924 368,832 746,930 1214,961 1308,875 1075,926 623,929 1144,867 606,928 349,954 677,877 826,850 350,877 417,920 328,916 607,883 1138,945 665,848 494,875 950,868 379,960 379,896 1194,925 519,890 1167,927 380,871 488,840 626,928 481,921 453,857 1307,920 1005,960 367,898 475,939 855,939 699,915 954,767 868,821 626,869 313,905 263,882 1290,938 273,869 321,948 289,885 1059,896 442,880 1071,828 1180,954 954,884 793,886 521,945 418,817 392,951 296,897 1112,940 378,911 1067,900 378,885 249,941 422,888 737,831 1124,911 642,895 671,886 626,921 305,876 858,879 1300,857 1153,886 1188,920 1180,904 694,835 785,922 980,821 536,921 305,880 430,889 1307,879 691,860 631,910 450,877 647,892 508,887 524,924 1227,908 233,947 728,954 645,842 433,954 1204,860 920,879 805,915 363,933 1145,880 471,841 1115,1016 1010,900 1289,860 1043,767 802,964 842,867 995,890 1116,895 797,929 1261,867 221,878 509,865 1171,853 813,933 703,870 1116,929 602,855 847,859 817,936 424,864 959,842 628,841 786,896 455,912 1082,902 1257,912 445,855 338,915 549,931 977,822 638,910 397,860 562,871 239,919 467,879 256,921 1206,890 287,927 1017,898 572,991 1082,906 273,889 1109,909 812,853 637,828 943,807 445,854 291,896 236,924 453,871 497,915 989,820 1201,886 280,939 523,896 529,916 961,843 932,867 356,968 243,854 1193,853 1193,872 620,852 829,866 784,932 1252,950 221,858 660,788 575,904 820,816 841,792 1105,916 967,817 554,899 1070,883 1185,878 981,863 1154,856 881,872 231,870 803,915 1172,883 1134,879 1200,825 1266,896 704,892 237,878 890,892 1150,912 729,933 956,834 548,876 1197,968 1285,905 1189,903 1260,1028 783,915 971,870 1269,910 1176,956 305,919 880,954 388,943 596,903 501,863 834,935 558,968 422,950 365,881 1148,876 903,892 801,828 1076,875 1236,975 1305,902 552,874 1240,793 341,893 665,885 391,854 267,864 332,888 1102,859 1124,903 706,910 1018,872 386,907 597,883 686,942 554,871 954,835 512,834 706,958 286,879 360,892 651,922 1142,888 337,838 950,852 410,869 651,846 403,965 1121,931 385,901 1083,893 960,894 1249,867 410,837 1212,880 1267,915 1149,911 1067,861 893,912 507,940 1147,962 733,870 1208,869 425,862 414,869 702,935 878,874 565,939 409,856 957,893 375,965 387,874 225,985 410,871 1296,932 960,731 1028,928 934,856 582,872 783,889 751,887 581,839 1245,860 432,918 311,868 241,871 680,888 874,921 859,874 576,881 858,864 649,867 1138,933 1026,940 1202,836 1059,928 721,943 632,874 245,836 1027,916 1064,851 583,902 894,870 959,807 313,911 1099,853 596,904 529,876 1178,898 552,858 281,960 985,866 575,871 1195,861 335,938 432,974 918,899 620,932 787,877 679,889 1277,920 258,922 559,901 995,847 1117,859 620,938 750,842 1194,858 359,917 408,924 1103,899 1026,881 1268,851 991,902 635,948 256,884 479,891 328,894 1178,936 472,866 1089,896 1121,927 1150,887 323,923 1258,913 1139,930 528,928 990,951 1039,947 444,859 1117,884 1021,959 960,895 635,1043 746,907 1046,839 240,920 948,815 1275,933 792,932 1006,930 504,877 1018,889 222,910 679,959 357,914 1226,943 453,875 702,812 508,942 920,822 796,907 939,823 659,971 259,751 1292,1002 320,866 759,879 878,874 1270,898 1134,802 915,855 705,929 350,899 920,835 1049,829 320,893 966,825 899,832 533,876 867,880 344,863 630,940 1074,876 1292,849 1285,914 1163,956 651,889 708,886 1179,920 734,972 1010,882 1155,940 629,915 1134,888 1024,956 435,933 706,896 1048,986 512,908 1115,869 865,888 604,918 1095,872 454,935 1193,858 577,881 1154,882 608,931 1013,934 723,873 823,886 1149,869 1069,890 631,865 367,889 481,945 832,917 653,915 969,748 381,913 434,981 1094,1051 543,830 324,920 597,876 657,901 508,864 863,817 434,823 635,930 1188,901 1251,973 549,888 1077,928 685,895 926,802 1242,907 1217,841 1048,953 641,847 482,864 1052,880 304,1098 865,829 746,851 446,871 926,826 843,909 1264,908 366,873 573,809 588,874 393,895 1296,991 756,851 753,887 619,905 1112,941 660,853 1211,819 723,948 514,879 1041,813 1284,876 925,954 918,928 1048,912 672,865 747,860 407,948 898,790 1170,861 898,900 1074,921 927,800 318,863 708,953 537,890 317,894 864,815 633,893 1119,928 247,868 990,959 496,919 1096,881 1239,915 397,869 462,894 1192,905 897,869 1226,903 1216,882 886,814 325,829 228,862 486,837 820,917 1222,884 879,875 923,818 517,974 1246,878 864,939 1113,836 1291,913 705,944 569,917 359,901 424,931 622,871 598,906 1090,932 236,885 621,926 1015,932 573,955 497,891 869,857 317,849 1285,915 346,916 352,993 232,929 571,893 1035,953 922,868 955,827 972,817 263,893 684,943 425,927 418,830 582,921 1118,869 1257,882 1194,822 597,855 1246,1009 388,832 1150,958 477,925 569,844 732,798 577,896 870,925 895,901 286,936 1043,901 331,888 1266,896 404,872 407,873 1276,873 1118,899 741,912 294,963 239,924 1117,870 524,860 401,861 1047,940 244,1010 974,849 827,888 292,832 495,994 760,855 1191,910 785,912 633,934 555,885 1235,863 1047,852 841,940 327,918 1151,905 473,883 632,939 744,868 1252,851 230,852 849,883 1049,781 1139,906 621,1008 1285,886 1239,895 976,826 349,940 1271,913 735,957 1226,794 732,886 560,904 869,835 800,916 728,904 1112,896 468,914 826,791 957,779 1120,893 307,945 564,1006 310,856 973,806 1120,980 411,915 890,879 569,877 354,818 413,911 468,922 290,944 702,976 235,892 1218,923 594,951 1220,912 409,876 957,812 872,976 523,916 864,972 846,855 828,953 962,930 469,897 681,894 830,908 339,857 573,927 418,869 514,849 898,847 522,988 805,887 953,799 598,892 508,895 234,962 1258,884 459,860 978,916 1302,823 579,933 903,817 704,893 972,954 1137,915 1139,939 722,891 567,938 416,905 308,849 1042,972 926,855 950,834 584,887 803,927 232,879 1129,895 236,856 460,857 677,867 647,893 577,829 1069,964 824,978 1260,875 746,909 315,850 806,826 994,1041 434,892 735,882 1180,895 393,881 276,924 1090,831 1284,868 900,859 1112,948 466,905 424,932 395,829 514,909 287,822 651,889 977,729 434,913 725,832 1069,884 723,851 248,908 573,850 597,886 1123,902 328,965 523,891 1260,949 572,976 1031,954 333,952 1223,893 1040,915 434,910 1251,927 757,917 945,890 1190,911 558,885 1173,909 478,927 526,863 757,874 515,875 804,869 1069,912 399,888 265,905 833,856 648,927 940,813 248,827 354,923 250,870 836,929 398,948 258,869 680,981 1188,864 353,896 788,906 1097,863 880,867 368,882 903,901 292,904 1226,925 588,930 312,886 627,933 817,951 891,876 1107,865 944,881 552,869 275,926 261,916 869,937 570,900 435,946 1114,893 479,913 377,945 282,795 571,968 1299,882 666,893 1028,904 1029,919 364,815 1078,906 940,890 297,846 980,847 941,843 1006,959 439,928 887,943 1064,945 456,857 1081,932 610,883 1207,913 264,907 463,871 426,884 238,867 401,947 330,936 1201,921 976,823 1272,857 1071,864 659,852 545,862 874,897 1042,878 1192,852 1264,1034 850,927 232,904 473,925 675,872 731,891 544,924 490,845 312,869 1130,860 721,873 389,952 1164,925 1000,859 445,860 898,870 1293,945 871,951 663,876 1105,854 1170,785 1119,1030 285,869 1150,872 315,791 970,841 796,869 290,878 566,864 875,924 966,755 533,888 697,971 669,934 1296,885 847,958 1078,867 1012,853 1047,856 1279,898 682,955 493,921 1206,902 424,859 739,900 230,908 1147,888 324,846 734,904 902,862 287,887 484,954 351,826 649,872 849,1008 261,896 497,873 1303,904 733,918 1117,931 373,903 423,938 360,894 671,931 685,926 395,877 1030,951 941,856 491,937 465,885 231,871 411,921 1048,1007 684,819 756,919 870,877 631,876 1119,865 851,904 583,1010 1059,996 319,880 1172,956 909,865 334,823 805,973 572,982 1121,874 337,916 819,895 1261,933 1278,771 395,906 809,878 755,853 1123,896 1235,973 928,774 406,912 985,940 981,906 312,910 305,892 688,922 1310,920 406,848 291,898 1140,870 456,867 446,884 1171,885 930,860 762,1050 792,896 1061,953 427,874 1256,946 293,970 1053,1005 849,846 379,850 315,896 938,841 265,890 796,758 488,844 394,934 979,819 745,880 1262,962 485,912 321,932 580,857 1190,909 991,930 310,852 680,911 738,941 962,764 873,901 1220,919 524,994 704,869 1218,924 635,901 970,782 1227,878 952,835 474,902 696,903 411,867 1112,905 740,872 918,903 1027,904 1065,834 307,781 563,840 1019,835 956,808 560,864 753,880 651,819 424,893 355,890 1030,872 673,949 1288,839 878,872 899,817 947,792 1275,955 1063,905 449,898 1308,958 1277,909 1127,923 611,895 1187,880 390,906 668,861 404,903 305,897 1191,896 1111,881 655,1018 294,874 1214,924 364,938 585,839 1079,931 386,934 723,959 973,850 1116,884 849,916 706,961 1167,943 1227,913 1244,939 793,894 728,979 1269,899 425,931 1053,902 1137,879 232,884" marker-start="url(#or)" marker-mid="url(#or)" marker-end="url(#or)"/>
<polyline points="949,879 524,877 252,947 475,897 353,907 805,854 628,909 967,871 584,880 437,923 832,823 443,902 1146,767 857,832 525,864 422,944 281,861 257,884 612,912 1090,896 647,916 1091,852 728,867 742,819 1294,927 1027,931 825,981 1279,872 513,899 560,864 946,873 784,1004 969,784 1301,900 348,978 815,915 759,922 1200,961 265,813 277,936 410,949 1182,884 966,855 1019,881 240,865 408,904 1201,907 514,928 1269,870 947,832 729,878 841,899 598,877 459,822 943,841 440,943 1005,909 651,950 1102,957 733,886 699,941 1252,882 416,836 744,905 951,835 872,938 444,952 425,867 1123,869 618,866 246,851 534,951 695,888 1242,905 990,958 1226,919 1115,853 1153,823 1251,844 950,789 224,904 699,904 734,916 822,875 891,833 734,887 430,931 440,834 755,868 1166,920 826,902 689,911 505,897 696,867 413,800 979,838 729,857 980,806 538,949 462,871 858,887 907,798 961,787 436,912 1013,925 631,935 1021,977 662,915 520,929 231,817 1103,926 731,935 1083,963 1134,858 831,926 587,881 952,814 995,934 1124,863 954,761 1039,861 856,897 427,915 969,827 536,901 1295,924 612,916 1114,914 411,914 1299,926 678,820 1255,897 232,881 424,916 1034,921 1010,880 1231,946 898,887 730,905 928,855 379,810 308,861 916,895 1286,850 1109,906 1292,896 1239,928 379,952 430,930 730,939 705,875 485,907 390,923 349,851 968,894 1254,866 1115,937 1209,882 378,929 610,879 825,992 1107,918 407,912 1150,845 223,915 1168,780 1020,839 516,927 580,937 320,873 738,820 597,832 1256,944 313,900 1100,876 379,840 973,773 686,886 1260,907 376,879 251,975 1042,863 664,899 311,871 743,936 823,937 522,910 802,832 682,908 219,907 425,902 639,979 657,857 903,859 1152,919 960,846 871,883 501,848 425,923 859,875 574,937 583,870 596,921 265,891 530,856 459,879 788,909 1261,897 585,870 1041,941 1289,920 461,958 1115,1007 1300,920 1240,854 1194,865 241,948 414,935 1018,847 469,875 929,850 370,911 387,906 1294,878 624,885 807,945 387,894 903,819 520,959 399,1000 815,815 290,918 504,921 660,906 1265,868 236,890 1137,892 385,832 341,960 381,948 1002,804 1213,892 1031,856 1220,883 857,881 515,958 354,871 952,814 1152,901 378,889 951,846 274,870 309,1003 992,880 1264,940 606,841 332,936 236,883 1107,934 394,879 509,861 939,805 335,937 1197,895 378,919 493,966 411,845 908,908 411,865 274,886 403,838 1066,909 931,765 486,903 512,833 502,866 740,874 425,928 905,847 880,885 704,873 1144,935 960,842 394,878 604,922 1220,973 1093,921 1309,916 1001,937 1265,940 249,895 313,927 1102,881 460,866 299,890 330,895 685,913 940,912 1053,856 357,911 646,866 592,915 848,979 802,937 1197,978 347,953 1116,922 707,897 1018,843 757,875 471,856 837,976 784,952 875,929 429,884 364,907 524,923 600,835 549,873 1275,882 541,863 249,906 571,945 1185,906 536,943 1250,875 358,902 486,909 751,891 1303,917 1150,885 501,875 693,895 858,893 621,895 266,808 805,923 685,865 1009,946 557,896 676,880 1178,846 928,756 946,794 636,897 678,911 1168,863 475,881 756,913 352,849 867,930 1114,916 724,912 340,827 897,799 521,852 917,857 433,901 251,921 245,862 364,928 1076,935 402,957 251,864 1083,837 534,898 318,943 1251,896 1293,867 726,963 758,910 490,941 976,775 1232,832 1233,881 563,851 915,888 1250,839 1028,954 533,867 1155,846 284,865 1071,869 694,900 1102,916 1148,902 578,886 966,814 1224,904 438,871 990,863 425,888 854,881 1194,945 723,891 1098,911 1134,864 807,883 359,920 655,874 625,926 684,955 1086,826 728,891 631,953 891,911 1134,963 786,853 415,839 1215,867 365,903 925,888 1187,825 1114,920 628,1010 1290,944 839,953 876,852 708,885 698,933 1151,849 942,834 552,937 751,916 1112,968 474,927 524,906 1062,932 807,807 878,931 1122,907 1279,861 1144,920 707,1095 709,949 1136,956 235,948 706,877 616,895 1098,962 232,937 868,884 1300,883 875,973 843,900 243,921 276,983 1200,961 575,872 634,848 289,890 751,859 343,907 829,971 709,868 588,871 738,871 505,904 1210,967 1119,919 465,908 653,911 695,838 932,824 651,901 219,880 589,798 527,839 462,919 1272,869 366,944 880,937 1167,893 598,914 1251,813 1273,868 635,891 1222,901 387,958 580,903 458,921 841,871 837,883 237,863 601,934 1139,889 1007,946 952,850 1293,856 603,938 308,1049 426,909 909,907 1163,941 439,859 1175,876 1199,843 746,909 1153,908 487,894 1274,936 669,850 728,939 803,931 730,857 523,891 1193,890 624,854 1037,817 968,850 795,906 662,941 232,921 1023,887 625,1004 1119,951 1209,828 657,882 241,859 328,913 887,840 537,1012 932,940 1154,851 917,894 576,916 260,887 301,861 893,829 1077,927 228,871 1024,908 925,879 552,991 1039,882 671,904 664,851 263,870 506,834 1080,910 783,878 905,851 426,927 861,969 868,960 1024,880 620,883 684,891 1017,840 1193,933 313,770 591,862 1014,892 1042,947 748,873 596,901 596,906 691,940 1085,878 650,880 1215,924 940,894 1205,834 1061,840 333,1009 426,867 372,789 452,853 628,884 1151,868 978,839 784,921 1165,909 946,778 248,892 1209,882 852,901 953,897 870,905 628,951 409,899 250,839 659,873 1107,868 680,836 635,851 844,937 757,895 271,819 338,969 803,872 1107,959 1015,884 339,861 1268,868 1149,850 453,863 943,843 488,889 1190,888 1135,910 549,987 1051,920 218,918 1066,845 1289,887 821,910 1263,910 1141,796 1276,872 976,892 727,955 908,931 882,881 512,907 1071,914 637,910 512,913 263,899 537,908 919,871 979,884 233,904 264,904 1276,994 788,968 969,783 1023,897 432,928 543,899 1001,887 904,848 847,867 311,899 556,922 580,932 959,838 1163,873 627,885 1166,922 824,914 440,909 607,872 980,877 579,912 496,895 562,792 268,910 651,918 237,807 968,770 418,863 309,911 602,912 879,795 931,833 1311,850 979,901 1033,950 979,842 293,1104 1241,862 784,914 1185,929 1181,870 828,938 504,862 644,833 948,786 902,864 1163,955 677,922 439,824 394,884 461,932 647,869 425,914 632,912 579,862 463,876 826,962 843,893 1308,867 1208,941 353,954 1093,867 345,919 980,788 956,823 646,918 326,849 370,898 417,874 733,945 1120,893 413,952 853,889 568,916 1087,900 406,887 916,849 547,946 685,895 817,848 836,909 980,976 724,877 1149,911 702,835 431,929 697,938 1047,900 967,819 1264,862 1154,847 1036,897 1217,871 1240,839 1251,960 800,939 243,853 1039,887 1007,881 1264,887 951,891 1253,868 1304,898 415,870 552,867 1124,853 504,963 664,870 1279,869 406,883 407,989 1292,930 600,940 1122,887 335,904 862,896 1294,907 382,901 447,967 1278,892 1177,924 898,885 284,942 473,836 789,891 465,849 281,803 1302,956 525,942 685,952 482,883 704,885 1020,896 340,896 298,918 491,896 372,959 1116,926 456,922 1226,842 611,845 1259,875 1052,948 535,939 300,916 566,872 409,892 707,937 1101,956 311,836 230,918 537,846 743,923 1191,944 904,813 903,923 281,847 921,829 480,906 279,938 382,928 978,867 414,923 783,860 823,912 1028,810 1229,910 606,937 871,830 686,965 892,901 803,847 919,810 448,842 459,807 665,907 938,851 525,913 339,937 683,915 324,882 880,903 288,982 529,910 594,896 1055,903 849,931 576,920 227,1012 701,901 846,883 598,910 1128,880 1261,883 481,1047 722,886 841,856 1272,872 1287,923 682,913 968,930 812,891 1007,891 650,903 608,894 823,841 232,856 1114,861 315,881 527,830 335,831 610,828 543,901 1299,920 1276,923 920,858 506,859 1135,861 891,822 316,880 871,839 352,931 1225,943 1167,893 1268,908 642,905 304,883 357,841 617,892 240,889 560,895 700,871 882,895 842,934 945,816 1033,874 1137,859 1308,851 568,858 945,826 526,890 1094,920 1268,942 849,911 705,879 1145,878 735,936 1060,926 1222,914 898,841 1102,890 672,878 1152,932 954,793 240,845 705,908 1058,906 904,919 759,885 820,923 709,681 818,854 603,911 279,969 641,927 1294,940 473,845 584,917 985,897 1225,909 261,909 258,860 1299,949 1195,960 427,926 874,944 677,845 631,869 1264,756 463,943 994,939 1115,867 328,922 1260,822 300,917 1268,893 437,899 1288,878 785,832 608,893 1173,891 1170,939 1264,875 1113,967 552,893 535,823 1245,880 976,786 568,861 462,948 684,814 891,831 1272,915 496,949 580,897 1217,889 653,923 695,908 741,901 236,836 308,888 268,922 444,881 1045,852 326,843 650,899 974,798 528,885 1118,848 1090,833 571,952 1205,881 906,855 558,897 587,876 1065,911 957,796 1162,866 971,770 893,894 823,882 325,836 1231,924 894,913 410,942 737,900 328,871 266,873 1013,928 870,861 1077,923 473,846 587,897 458,910 883,859 1206,900 1252,921 1069,999 706,935 434,1079 1235,927 305,921 347,972 820,880 659,915 453,835 869,911 856,897 1028,915 546,969 1245,963 322,922 902,820 1053,888 845,960 617,936 1136,859 963,889 724,879 732,888 684,851 234,907 800,886 1020,909 1056,867 356,832 306,1020 465,878 1204,795 857,890 621,900 864,884 556,905 650,937 1019,946 811,965 954,651 1226,885 633,930 255,899 510,907 1255,936 1250,909 668,880 1261,852 956,831 327,820 1062,945 680,876 627,904 1173,976 556,854 406,841 868,861 448,932 260,931 1088,801 263,859 578,841 1164,881 388,846 1025,843 1094,949 956,878 845,898 896,924 1158,833 236,823 525,837 519,936 1029,902 413,866 519,848 915,908 1297,941 1017,874 1077,812 1014,905 384,817 1045,901 983,849 465,899 438,914 874,949 342,953 495,852 1063,880 304,956 1221,873 1013,901 249,895 749,910 1224,913 313,899 1152,913 1133,846 460,910 855,932 366,797 644,916 958,777 880,875 263,866 918,912 672,865 1163,910 366,880 414,831 900,822 1223,839 366,840 786,937 967,779 573,923 953,885 664,876 1306,879 802,941 501,845 916,855 424,889 1179,913 978,884 553,921 1123,905 506,937 283,886 870,881 535,906 635,861 431,915 1290,933 1262,916 984,873 1021,802 1269,906 497,882 273,878 829,900 760,853 240,906 1308,939 701,871 548,899 1105,912 1240,883 429,886 295,849 386,912 577,886 572,814 374,834 733,925 980,847 1218,858 574,941 1211,821 1267,870 719,879 838,923 433,893 847,842 699,912 651,926 1218,887 1123,898 532,886 991,969 1210,935 577,948 981,875 1077,916 815,849 526,906 969,748 947,878 1171,932 963,812 1178,886 989,908 1157,855 412,867 630,950 949,722 305,886 371,878 885,995 1194,908 1190,986 660,843 933,1034 425,851 492,911 449,870 436,901 525,902 551,896 1057,900 553,842 385,891 407,899 650,929 1280,946 1307,950 430,904 494,881 246,875 1208,980 1238,867 596,909 646,971 329,919 561,858 591,890 760,941 1198,910 868,938 1063,867 660,910 696,903 1202,956 481,898 832,912 1110,914 430,869 1165,867 592,926 286,936 409,892 1293,878 1261,921 402,937 999,857 1074,921 1194,849 530,869 578,922 1173,923 746,920 641,863 1244,897 1065,813 980,897 553,957 905,834 613,856 377,905 909,881 825,912 984,936 616,851 1117,793 960,832 479,949 1308,856 334,923 734,855 618,913 585,814 406,868 1043,933 421,850 1274,890 953,779 679,935 380,943 489,911 1311,931 227,918 261,892 635,923 941,845 494,867 887,892 604,858 546,869 528,854 627,888 753,949 842,882 963,818 976,825 314,928 915,901 890,876 1152,898 1303,885 1280,878 544,915 647,911 959,780 573,918 807,915 358,889 442,891 1169,960 444,902 487,878 1002,1020 1179,866 933,877 529,895 740,883 1242,878 853,916 882,1008 301,911 1269,901 514,896 619,895 638,868 757,863 464,837 704,993 845,795 650,881 540,928 413,914 511,902 831,882 1301,878 758,842 636,833 1172,899 957,819 787,927 753,892 239,932 912,868 934,931 602,876 725,943 1148,885 650,861 437,898 955,845 797,892 855,944 479,849 931,796 451,853 1139,875 288,960 415,872 1240,891 465,759 937,837 1245,914 935,832 1294,882 1096,882 438,848 225,932 582,870 1298,880 531,928 917,852 943,839 1230,912 570,900 729,907 899,923 521,848 1219,944 623,842 522,873 464,902 585,970 802,917 940,868 464,851 848,920 577,902 218,847 937,849 1078,956 1015,936 622,915 1292,851 758,845 729,928 1065,900 1082,881 587,843 977,812 1017,907 693,932 546,857 811,841 1043,952 1025,897 601,910 291,1009 652,811 1248,941 497,865 1287,928 1057,887 538,912 684,930 1157,922 618,984 290,934 601,897 553,843 727,910 926,877 386,910 421,889 636,853 722,927 1051,967 897,888 602,928 345,857 516,911 1226,917 404,904 631,902 521,925 1268,874 611,896 1141,871 472,909 342,943 1276,944 546,939 697,900 252,927 1076,853 898,918 379,883 684,843 817,879 605,866 1144,890 576,857 881,904 1284,886 920,832 437,845 679,951 658,896 440,912 476,918 1194,835 1152,937 949,816 1102,869 1088,941 235,894 582,868 858,866 408,840 255,836 724,928 281,893 483,902 1298,886 797,887 435,896 653,881 1024,988 354,932 501,848 856,850 819,911 477,967 830,828 440,905 1246,861 786,871 661,881 586,896 312,854 395,893 687,882 365,838 255,1025 1113,926 1270,909 1219,905 562,868 287,885 444,835 405,835 651,854 877,878 461,929 945,805 840,895 499,851 349,914 603,830 1210,858 522,877 1054,875 271,771 1113,929 970,820 1265,915 740,907 1170,874 621,879 358,902 783,895 466,897 464,953 601,871 1263,889 1077,1022 888,852 1000,858 734,972 253,832 1051,845 547,808 1260,865 360,893 981,966 596,882 960,843 1034,928 855,879 510,921 642,913 1176,884 657,883 504,844 1181,864 869,922 1231,884 1197,953 413,883 423,894 1168,903 635,780 1138,901 677,895 247,876 1153,893 1310,1012 582,907 1249,875 550,882 507,884 951,875 1138,906 328,949 292,982 334,985 900,840 1004,921 1282,891 267,961 1067,838 784,925 531,978 289,872 725,934 921,927 478,943 740,799 495,910 1195,909 786,890 556,989 1021,932 818,881 259,887 467,936 463,899 746,872 552,880 1162,894 817,933 986,912 654,968 408,913 860,840 672,949 968,853 955,810 584,812 292,839 511,858 1026,914 465,860 1166,779 499,890 673,833 969,782 726,900 568,1035 1101,829 492,829 255,881 1168,892 356,847 992,909 287,927 1118,925 237,854 1261,842 1064,916 547,901 1145,889 388,862 688,901 325,876 878,875 596,898 1092,890 392,919 493,920 1199,941 1233,877 683,944 349,885 845,875 1237,902 372,842 1166,935 853,961 481,903 1128,850 416,881 817,867 337,900 1077,832 298,1090 1072,975 1138,899 416,889 1303,903 1300,893 1198,918 381,873 723,955 376,891 899,944 1255,884 410,960 1241,925 1244,801 1046,945 1182,925 1098,929 870,885 956,841 1091,971 1002,851 546,935 1175,977 1308,960 1140,967 531,861 890,815 915,867 567,879 524,901 848,844 355,839 336,973 430,918 937,803 1276,893 488,923 875,901 401,901 1119,954 270,933 1058,858 537,808 497,846 249,778 408,904 450,953 1047,900 247,889 648,896 1181,919 696,871 852,943 1023,953 1015,937 497,889 411,904 1287,870 1027,834 477,888 705,861 968,828 979,845 364,929 1107,924 875,897 878,871 371,886 857,889 279,896 233,892 637,845 1138,885 1112,885 754,889 289,837 1137,851 493,870 255,892 583,921 799,952 401,874 577,741 448,853 1186,853 314,976 266,876 979,903 1089,924 1263,943 836,918 327,912 977,849 582,907 350,892 300,858 630,859 703,879 909,895 400,846 365,862 389,893 1135,967 1109,820 556,920 871,911 728,909 1127,846 505,891 247,851 748,865 735,879 592,1000 361,861 505,1014 1023,932 1209,877 1261,849 262,940 357,965 482,970 498,918 365,887 679,914 978,855 699,903 977,844 360,930 491,954 1273,873 672,918 567,881 435,888 758,919 503,1053 675,839 523,914 1192,894 826,913 615,906 924,858 1076,914 1075,964 250,905 367,857 1303,928 688,960 1155,938 755,847 1174,907 1248,807 580,837 960,826 360,863 921,871 398,939 1288,900 547,882 1173,906 558,936 882,843 867,910 359,922 500,845 1071,915 854,917 1273,971 733,873 1115,923 406,891 316,937 832,896 602,922 753,902 388,840 287,956 252,899 1028,890 975,840 1061,960 867,893 374,923 1123,905 577,956 889,910 811,880 951,921 526,804 424,941 623,912 744,974 597,863 446,893 617,913 241,889 1112,926 1207,817 669,936 659,915 1265,848 477,862 385,931 980,781 558,935 412,856 819,863 745,926 1121,902 624,896 230,881 950,864 1139,948 1090,915 937,735 890,893 337,921 1177,895 673,873 633,844 671,923 660,917 1306,922 990,891 228,971 495,874 1086,916 1051,856 1153,979 829,877 762,865 1191,830 980,826 245,909 1063,863 608,834 1057,867 472,923 562,911 269,843 1098,980 977,861 507,866 817,852 888,876 662,892 1243,867 250,938 546,853 1099,991 413,854 508,926 1214,895 972,776 223,972 854,884 870,838 230,883 509,887 1047,930 739,911 899,866 834,845 576,852 1208,897 560,892 481,828 300,858 1102,890 251,992 759,894 1054,951 351,929 948,761 1151,916 634,921 238,877 1287,931 856,867 397,930 316,825 1199,899 504,909 551,913 236,898 303,887 705,888 329,943 679,914 844,882 573,883 705,896 986,879 571,960 842,869 968,769 554,892 257,904 620,920 299,805 546,884 749,950 415,916 817,976 1237,879 1250,951 967,806 448,899 1177,866 406,835 255,884 533,921 1114,940 1233,937 242,954 727,901 822,943 709,819 481,845 356,819 1221,897 905,784 402,957 439,923 1045,893 415,911 981,774 747,945 1078,892 979,927 437,975 735,868 436,865 230,915 474,925 1102,883 1288,991 1261,917 692,868 505,872 1050,963 328,853 406,899 267,844 1176,859 360,903 881,719 908,898 600,929 408,869 247,808 1096,901 724,870 885,902 852,921 1168,976 1208,825 527,881 846,977 288,861 541,898 834,860 480,829 1095,977 533,883 375,870 1297,940 941,874 1234,954 578,863 532,838 1058,852 734,881 1192,922 893,871 624,855 649,853 516,911 354,882 818,899 420,861 1031,929 1279,867 1114,903 1042,918 1030,1090 1272,838 492,885 721,848 495,862 558,816 990,920 804,895 691,970 808,893 1047,875 1251,907 645,896 312,911 741,905 627,885 1077,959 372,901 436,887 1147,975 1247,916 1148,945 1095,918 1298,891 492,849 807,917 1284,902 1079,939 823,900 975,863 1221,880 575,901 651,946 325,892 379,899 619,964 1138,913 331,855 322,857 1096,924 618,932 1139,914 473,886 404,827 601,991 1227,935 867,864 704,844 1273,908 1228,855 452,853 561,878 1062,907 691,906 1034,899 695,829 942,887 866,909 727,908 694,895 1207,906 1094,833 242,930 699,842 1098,905 1020,866 283,891 1021,933 816,855 835,902 260,885 1233,887 427,970 1227,933 687,898 1187,809 952,858 426,911 1073,900 432,944 1292,838 1008,891 414,940 723,838 805,933 470,825 1205,914 924,760 962,764 452,884 1033,828 1101,858 965,796 1054,835 704,879 980,828 725,861 762,908 435,856 805,920 1026,956 1186,912 1164,917 623,880 241,902 480,1004 232,837 504,907 245,891 623,834 753,872 1293,912 748,957 411,880 554,891 985,832 387,872 981,873 1114,882 742,943 1027,919 1092,871 1203,872 628,870 1200,961 1175,892 1264,853 586,968 1009,959 307,855 1172,885 1248,919 358,898 967,879 310,933 1212,950 738,963 423,885 738,1017 879,871 261,925 1121,1039 1056,783 425,881 548,924 1067,889 1035,842 266,906 695,880 492,871 972,831 1220,925 273,924 470,945 1045,873 1207,921 881,856 1076,920 536,874 268,803 219,930 963,820 871,901 308,902 786,791 851,880 1048,897 587,896 426,908 338,939 633,871 1202,842 946,816 825,900 982,886 465,921 554,923 1093,870 537,925 978,910 1096,759 1001,891 1139,899 261,881 337,928 1224,843 1208,884 661,882 1019,883 870,924 1234,891 411,831 1122,892 643,940 1306,870 586,873 1288,922 600,907 328,848 1213,913 595,851 750,962 490,942 559,851 1204,871 259,880 310,945 1203,935 1096,884 1138,819 573,891 437,899 881,903 917,810 1299,876 869,911 228,963 1113,922 1275,911 989,886 748,917 890,1052 932,846 1188,922 429,889 551,912 882,823 818,913 1064,1028 915,847 455,861 942,851 635,888 267,888 932,830 887,889 406,830 964,816 649,930 608,904 1153,861 594,890 1202,902 464,894 468,907 1197,856 353,921 557,910 1227,785 601,937 389,879 818,895 900,854 1050,926 1116,915 940,867 1137,818 612,872 1307,840 651,908 1076,912 1213,874 955,793 734,876 1244,911 866,961 585,845 1242,920 1288,944 691,894 731,932 650,909 355,915 1119,846 1003,880 697,794 1289,944 958,862 1274,912 894,947 305,838 1026,858 877,936 659,858 545,961 966,829 465,885 599,943 1096,873 317,866 618,923 1271,888 637,930 239,890 815,986 678,915 1048,869 609,923 583,955 681,917 629,807 929,904 576,850 612,814 1211,915 811,897 327,899 829,988 900,847 671,813 534,824 703,905 1174,851 1121,885 1189,819 235,876 1239,895 706,965 619,920 836,955 356,879 1095,852 579,828 847,959 1037,844 1173,836 1217,936 807,863 964,802 831,904 510,825 480,895 360,876 336,967 241,976 312,900 634,895 859,823 922,880 649,899 787,890 563,909 640,877 1212,843 726,906 954,754 400,859 378,917 1179,905 328,937 311,918 679,853 554,901 390,858 1239,920 649,887 369,822 473,859 1177,904 1205,923 528,867 646,868 1058,867 375,892 1096,966 1260,912 312,854 700,918 625,952 651,964 919,808 709,919 346,853 948,905 973,840 676,963 694,940 1191,914 903,869 272,1010 445,936 686,931 340,893 378,928 842,904 1216,882 1306,918 595,887 555,868 488,891 805,872 948,798 1174,810 619,830 1090,923 579,846 224,896 344,886 1034,942 234,884 357,917 466,832 337,839 983,894 273,942 348,891 429,922 756,927 1247,955 1029,956 254,976 411,779 819,888 384,938 310,898 247,797 1024,921 1096,862 446,1001 784,874 621,889 223,847 1278,880 578,928 1226,850 322,942 982,899 646,811 1142,957 860,931 1038,908 1237,866 608,945 315,859 561,897 1122,952 513,897 951,815 900,751 912,799 1172,865 262,904 1172,874 787,824 266,876 1219,895 635,926 1184,891 302,950 1151,952 538,873 1121,881 1166,921 784,992 1152,934 866,928 312,851 1030,983 741,929 663,896 436,909 738,900 1056,856 1260,899 558,930 1248,908 889,906 974,790 491,850 1098,878 235,900 1224,937 426,880 461,899 681,920 556,868 220,928 636,902 938,752 744,836 1017,842 1176,908 919,881 1132,852 913,890 895,825 1245,899 731,994 511,926 1089,857 881,883 328,866 222,907 1100,951 979,843 273,962 559,952 314,967 570,885 879,881 440,878 894,952 1002,955 1059,945 290,883 1053,831 683,965 819,916 734,913 1308,891 1215,884 1050,926 1092,857 787,948 1234,869 660,926 390,893 467,917 682,899 1244,912 1049,972 858,868 459,909 1270,957 1149,940 676,948 1261,730 1121,882 1300,757 509,958 1200,915 974,889 690,850 1136,945 867,943 509,905 819,921 1152,882 1080,923 585,953 917,765 1143,830 659,854 492,851 428,921 664,867 1282,879 944,796 1133,933 419,953 1052,911 859,911 1138,951 895,874 1070,928 699,818 1300,919 241,903 507,904 623,953 420,897 1031,993 1152,1010 1113,902 992,1003 685,864 1200,887 899,813 737,930 534,949 946,839 589,917 813,912 449,814 219,905 1229,936 848,851 1063,870 743,947 502,918 289,933 688,976 551,843 1236,876 570,936 1280,922 1148,885 478,723 658,862 982,939 1039,850 596,910 527,864 947,842 802,936 1225,892 567,861 924,854 1063,878 723,923 899,865 681,903 1251,933 253,767 891,794 364,925 1226,913 543,919 1031,1025 1025,940 969,846 512,878 1152,962 1196,917 963,813 1139,897 615,874 1043,923 288,918 475,910 1265,960 456,891 555,899 588,919 708,874 364,845 976,917 735,939 1252,911 252,844 1175,862 955,760 527,932 1267,879 1263,886 1222,873 449,1080 1125,908 941,858 1217,920 247,906 267,817 1030,899 542,869 683,875 1138,929 366,842 675,888 1297,870 845,874 305,912 1019,963 1024,828 746,926 403,924 1121,944 386,884 908,826 1194,809 878,949 1043,857 561,907 876,817 628,858 1280,936 865,918 503,900 477,871 610,889 914,822 1165,1008 320,910 819,839 709,867 800,865 1200,886 336,860 924,698 301,876 1207,876 1139,917 1190,810 414,911 1126,844 889,826 529,912 318,899 596,952 1009,920 693,895 249,935 522,905 490,865 396,952 314,888 377,943 409,903 923,860 1177,847 486,908 529,915 648,908 599,958 616,870 374,985 1260,933 889,848 842,913 271,915 1276,928 258,918 1209,905 1151,846 1157,954 391,900 1278,839 1280,869 1197,896 728,891 545,884 989,916 1173,921 404,927 479,950 526,785 1165,931 1096,973 367,886 735,858 797,946 854,878 1303,826 723,888 742,886 316,896 937,865 865,909 1190,949 728,872 356,855 598,943 529,861 535,936 915,931 1175,860 218,877 1219,825 1250,1059 731,892 453,962 577,896 582,879 1149,937 232,945 1181,919 413,869 1265,906 1229,893 498,900 1120,905 657,787 1283,874 706,891 868,891 240,887 1276,942 449,913 1077,931 1144,896 308,922 672,828 1168,952 573,916 947,874 1219,963 872,822 1305,883 1235,895 288,832 543,892 625,899 257,876 839,946 947,891 1269,961 735,966 678,902 357,884 1222,864 605,886 867,838 1265,891 1220,876 498,828 284,864 447,952 1044,911 678,782 1291,921 476,861 626,937 823,936 303,1040 384,886 880,967 578,849 448,837 570,843 224,851 383,821 1069,927 352,911 296,928 403,872 528,998 1166,903 1138,984 289,865 1218,840 328,879 576,838 826,981 415,863 903,794 1272,913 909,847 503,885 1106,870 628,867 826,867 326,846 593,832 950,737 842,804 1153,912 1001,1091 1080,792 784,914 978,867 990,941 1122,867 455,954 978,830 681,890 802,917 1121,836 559,876 281,878 1029,932 672,903 908,863 263,872 1246,925 528,883 687,903 1266,931 506,882 444,929 507,952 755,841 595,935 846,859 717,890 401,849 928,879 336,899 950,806 531,886 1067,937 248,848 856,895 406,896 901,861 505,962 545,921 459,810 1266,918 1218,906 910,799 378,864 1299,832 648,957 1279,931 947,846 876,835 1139,885 342,948 984,1047 518,863 612,850 424,857 567,938 255,893 427,884 1069,886 795,902 305,927 1163,847 1008,888 1207,936 1024,943 599,1050 1094,906 499,832 658,868 1192,835 641,913 1260,956 1067,898 1133,869 741,860 341,941 612,942 453,868 806,895 848,822 894,890 1227,864 260,919 344,767 737,891 939,845 1090,918 536,912 971,817 1178,1089 667,885 787,893 748,833 554,987 517,861 389,953 239,923 1262,904 882,890 1139,858 683,884 448,858 260,917 356,867 412,878 1013,858 1190,842 406,914 727,992 1127,910 978,844 556,1008 397,904 612,885 891,867 616,904 735,890 513,887 929,755 569,892 229,845 874,881 859,912 723,973 1306,881 296,841 1240,906 225,934 657,953 698,885 1186,860 348,846 498,863 1137,1052 267,861 462,841 1167,1021 351,943 523,855 278,855 1176,956 1103,873 243,945 1287,846 683,879 474,891 1203,903 234,915 319,880 499,936 849,945 315,880 374,908 254,914 634,866 631,950 808,934 407,908 1286,936 254,948 744,974 952,723 722,872 465,870 297,897 598,947 953,860 879,890 498,866 658,919 256,871 698,919 599,918 681,888 909,826 1095,925 1311,897 972,840 1204,878 1036,863 1125,915 1291,949 975,721 284,912 979,848 509,868 220,861 1101,917 801,907 527,900 1290,898 626,862 733,902 235,905 469,873 868,872 1114,851 661,878 547,897 1095,944 1289,930 1197,943 1069,883 870,870 219,827 1297,854 260,873 1163,849 1168,808 1047,929 1295,888 652,916 289,861 1146,885 831,923 1164,870 448,941 850,904 561,845 431,858 1179,945 701,917 327,902 496,1027 1070,897 536,818 329,908 620,942 1286,920 366,885 1276,911 1111,927 343,859 1217,893 1244,847 434,848 462,900 1079,810 577,954 754,833 503,953 787,900 1190,951 1225,931 1121,946 1198,904 414,897 1188,907 1155,889 292,910 408,851 1295,848 724,889 608,918 1182,941 955,856 638,864 1287,909 1087,949 382,873 330,863 1164,941 784,977 945,807 915,939 438,897 1012,882 960,934 339,886 450,954 959,814 1054,885 1078,880 732,921 378,946 825,943 686,903 489,856 1285,944 706,879 1003,932 890,899 352,926 1115,795 796,895 449,896 558,851 728,822 1300,958 1175,955 948,744 450,1001 612,813 730,921 1057,924 624,770 426,961 1003,865 609,893 287,860 1130,893 1067,958 852,875 697,917 564,934 646,908 621,943 1198,894 940,856 1212,911 1184,839 576,939 330,945 391,907 1166,880 1067,947 432,864 279,864 858,872 1141,916 1002,940 268,932 388,935 1132,886 1002,904 747,906 306,880 403,938 703,951 597,928 546,854 869,802 877,905 482,901 1003,947 737,860 1118,881 1227,848 1119,855 558,800 1155,947 602,909 316,987 806,929 1070,893 482,877 706,902 1239,977 323,877 598,919 399,940 621,902 687,856 1074,859 441,869 327,944 658,913 606,894 1180,899 372,834 1038,916 523,933 456,833 560,927 606,918 1102,862 379,913 625,882 594,843 1250,956 566,824 608,889 1265,944 411,831 861,932 1228,880 548,858 834,934 1190,917 704,903 1235,894 829,941 1141,892 810,849 801,859 438,806 722,971 996,946 1103,943 956,762 1048,839 1117,939 241,796 1204,842 555,880 1024,767 377,931 929,886 889,925 817,906 357,872 1295,928 1247,834 969,821 897,827 804,900 1132,814 757,925 1307,967 630,919 1264,872 1048,802 1270,869 661,870 1041,937 233,842 929,899 1231,985 1245,920 297,831 904,893 381,887 650,828 940,886 962,784 1074,866 984,935 1079,920 1002,951 864,867 1291,856 1176,844 491,858 672,907 402,950 843,973 281,883 549,901 624,890 1081,892 426,865 434,838 1065,906 802,886 573,841 432,901 940,835 722,861 996,876 410,878 803,843 1040,917 1061,908 417,881 313,878 1192,863 1046,937 927,821 551,915 218,917 1122,889 577,933 920,846 227,852 620,895 334,914 993,843 580,860 1218,857 832,838 370,903 223,901 1104,844 985,940 842,943 925,887 798,983 1054,941 736,869 1296,890 1109,960 334,917 1298,904 607,895 949,859 433,932 675,882 311,924 1222,897 723,922 853,972 1271,906 735,899 994,900 786,875 425,906 634,953 1216,837 1237,878 1046,947 728,861 784,931 1139,861 1152,913 867,913 429,978 1154,966 1185,947 442,900 545,919 887,898 537,901 692,965 1049,891 525,868 1153,846 729,992 1225,906 539,893 725,899 1246,919 302,928 1124,847 645,894 1237,923 558,839 1042,910 1300,861 722,867 1296,926 1268,901 1192,895 514,875 842,918 829,953 433,886 547,938 1262,895 238,835 859,932 1071,831 1195,914 424,882 249,915 230,954 567,875 542,949 993,906 350,895 984,900 663,854 1102,1077 1062,968 350,912 1264,895 957,764 334,961 567,938 1178,908 824,892 556,840 576,941 475,831 428,917 832,882 571,939 1228,935 802,914 565,891 956,863 236,908 1020,929 386,855 283,992 678,937 1139,940 1251,918 1197,948 1029,942 619,894 1119,933 531,1034 882,934 290,835 602,897 1104,854 533,837 874,815 253,914 353,878 1268,844 824,957 611,935 413,856 694,942 379,882 1161,890 733,917 867,900 235,916 1190,877 527,905 247,923 1291,887 500,847 542,843 643,833 709,876 463,955 866,938 945,762 1015,1017 292,952 1075,867 662,903 1237,836 235,971 531,888 909,881 482,876 458,911 920,842 424,902 1067,884 333,901 660,843 582,922 796,997 227,919 1059,823 357,906 942,994 1031,910 701,860 621,928 333,937 1213,921 249,836 881,916 567,817 1212,918 544,1026 1209,926 474,864 1226,976 506,913 1146,931 530,837 1210,824 537,888 1125,947 728,819 877,872 943,795 558,878 519,917 844,912 749,838 346,877 372,860 570,901 460,1037 321,913 1012,908 703,912 504,903 1197,922 1195,949 1049,970 1036,904 725,1009 1185,920 405,834 749,911 585,841 1231,883 1054,888 319,863 421,930 506,828 1101,958 1303,899 879,901 1157,904 630,980 1054,960 941,835 726,787 798,927 637,923 1307,891 758,919 979,909 900,878 686,887 676,869 705,876 1024,888 1249,892 981,824 891,885 488,863 804,874 993,933 1170,940 681,819 584,912 829,938 878,894 691,923 1244,868 387,903 670,985 955,855 579,875 311,909 1248,913 1123,939 610,901 424,862 1124,941 1235,885 905,812 1137,944 758,881 1045,898 352,861 251,907 1259,844 458,907 232,893 340,891 628,879 914,900 1089,926 429,1054 1030,850 1306,836 1231,931 872,850 1104,921 631,917 723,900 678,879 406,883 232,830 1213,903 925,867 1148,956 831,928 277,908 870,898 1225,803 506,868 617,899 638,889 648,872 254,960 412,900 574,948 392,876 1195,894 663,880 787,875 681,918 426,881 1118,920 919,886 621,891 506,952 1154,925 738,876 1023,900 557,916 477,883 238,877 393,871 941,831 359,1059 645,871 331,827 1069,908 1294,918 1197,931 600,907 817,940 1152,927 872,984 1190,953 311,882 553,832 982,964 709,868 252,847 926,875 912,874 1237,883 908,889 953,808 607,907 243,866 981,892 857,907 929,867 486,858 435,805 641,892 753,871 406,867 1203,946 924,901 1259,886 293,928 337,727 393,911 1137,941 973,813 812,943 900,784 1148,949 359,895 240,839 733,897 944,769 1048,907 1188,935 1288,898 365,916 924,873 732,949 1104,845 762,918 554,882 866,946 803,996 820,911 1263,910 1044,897 395,839 1100,938 324,843 759,896 1181,966 414,876 1020,841 240,917 238,907 522,898 808,906 459,837 908,850 900,775 459,904 424,882 462,898 279,915 234,918 320,912 692,929 1172,924 601,892 891,857 354,904 229,882 1220,860 1118,920 545,864 244,895 1041,856 594,950 533,877 1063,970 454,846 1140,890 1034,935 249,866 308,907 848,931 583,916 1029,912 1066,977 319,865 1209,935 449,867 1077,854 599,859 470,848 858,879 386,944 259,895 560,849 450,895 572,899 1113,963 454,919 394,848 458,963 1192,866 1284,866 1078,894 380,937 1087,848 1275,969 642,915 674,920 754,885 284,859 1077,973 1025,878 857,875 474,812 849,872 597,947 1303,968 903,930 940,894 829,892 1086,886 892,894 705,861 736,872 758,897 488,912 1069,952 1127,883 387,842 511,923 1226,1003 1279,900 983,928 893,869 1017,898 872,934 891,912 852,935 902,867 680,867 838,855 757,903 473,891 262,854 435,924 811,899 1268,823 586,879 943,767 903,869 1120,923 237,916 805,902 278,812 992,852 1242,883 758,948 905,897 1077,915 1187,899 390,880 226,902 1200,908 722,913 848,916 682,929 634,924 744,920 1290,910 387,880 1179,939 627,953 623,870 364,867 439,940 385,857 251,943 705,912 304,930 1093,904 845,939 791,835 487,910 523,831 1228,948 1053,853 898,867 1227,960 653,827 792,897 1262,875 705,877 679,910 1253,921 845,886 1150,910 276,854 476,846 802,989 472,855 639,871 795,928 600,872 970,776 1154,819 482,871 559,863 846,922 435,865 580,833 601,931 639,920 1190,915 394,850 598,886 506,942 600,983 340,879 1171,895 439,862 1116,914 395,823 1293,885 446,844 314,912 794,877 418,1046 991,1005 448,937 1250,917 541,954 325,811 293,934 1208,849 631,966 853,844 603,696 1285,904 971,900 975,821 465,835 1190,901 860,867 547,926 803,875 1216,931 1176,863 955,841 622,862 279,897 489,849 284,945 391,901 898,863 306,896 359,906 329,878 1246,933 828,917 1115,817 1294,862 379,842 673,891 337,911 1304,906 411,860 228,910 874,992 415,838 300,897 1168,898 407,903 346,988 455,867 957,782 1245,828 291,852 255,883 359,835 730,942 306,891 941,808 709,821 926,818 479,838 843,889 880,955 1221,938 1063,887 832,903 1155,889 933,815 426,926 884,877 930,812 305,921 921,848 394,922 311,972 1252,940 795,925 272,894 1275,869 547,904 1199,894 532,874 259,907 332,913 1148,891 1054,886 491,845 575,898 868,773 627,870 870,956 1289,911 1154,909 236,914 621,857 1108,915 555,871 663,928 685,881 287,893 801,818 851,902 1212,926 997,911 1190,925 804,858 1191,919 1186,937 1246,992 367,932 513,935 1125,839 894,931 235,852 1290,849 424,909 554,950 1128,898 940,866 1175,819 560,952 653,893 866,832 1069,938 428,931 406,840 980,847 1069,866 1245,833 1271,879 1102,910 320,851 495,797 236,910 649,905 1282,841 236,886 1058,897 677,880 1301,873 1266,908 1055,898 620,838 432,876 1183,954 805,892 824,950 231,898 313,837 326,932 480,904 396,878 869,911 378,918 556,873 1274,1029 642,969 1118,849 1015,873 256,869 652,905 1144,965 1224,878 640,954 848,909 793,845 817,942 1215,897 538,860 677,875 1090,913 417,930 305,891 1065,868 1221,940 668,910 1005,907 1200,907 667,863 415,829 880,874 1306,904 683,930 641,853 1224,893 523,869 1057,926 1039,918 275,946 612,830 523,863 971,764 1124,901 427,909 1150,874 482,887 871,867 929,866 601,843 685,872 403,860 432,899 942,834 226,875 1107,915 623,956 434,845 518,858 394,928 1173,835 529,890 307,942 663,849 218,894 480,872 600,908 1286,905 358,866 858,915 636,892 649,885 343,877 977,814 1245,921 1103,862 650,906 579,889 224,841 853,946 945,847 735,854 702,880 926,850 1209,900 404,875 258,895 494,841 727,901 738,826 753,850 803,888 1077,895 1042,917 326,886 510,830 785,881 389,928 802,1003 1051,1073 228,925 1204,932 622,881 525,930 504,917 644,918 826,1148 821,916 596,854 1042,843 533,913 1292,897 1276,866 364,838 686,869 1241,925 305,913 1049,891 647,923 1217,911 1237,860 409,864 257,915 347,859 843,925 377,866 1289,828 1190,926 1202,887 879,943 455,895 485,934 740,844 631,872 1153,924 941,785 858,896 1223,952 285,964 652,837 1127,871 1220,899 678,857 1065,863 305,849 311,841 286,924 1212,942 728,921 390,853 496,895 273,896 425,899 394,870 263,933 1203,828 551,884 840,976 367,877 264,941 261,948 541,870 1126,906 892,776 236,908 1176,890 363,894 1116,842 1152,918 1237,889 893,917 454,866 1044,870 1240,902 245,884 1074,933 728,927 340,1082 1047,870 731,864 842,932 506,931 242,899 857,932 951,857 340,928 402,879 411,886 290,890 508,895 425,901 384,863 324,875 1236,936 1114,833 691,857 285,931 1182,852 436,920 1266,857 464,893 388,885 365,895 913,795 953,827 1196,920 330,970 1178,894 1057,858 1251,918 1055,900 708,844 1209,851 734,874 685,932 350,847 441,884 408,924 941,846 965,892 1205,917 1309,960 438,895 282,914 407,911 1093,830 1116,932 646,939 610,880 646,928 800,856 970,855 896,855 709,863 706,888 564,896 953,839 1250,883 844,906 1244,867 526,905 729,962 729,858 594,903 653,871 1231,827 368,857 684,907 937,892 530,923 970,772 1219,834 836,852 897,938 648,977 945,902 577,859 793,952 505,898 446,850 1190,876 301,899 399,927 437,921 1175,880 893,845 738,900 309,917 1285,982 452,927 310,910 760,816 1037,920 236,945 1067,876 506,886 1283,876 1276,854 395,932 591,847 925,827 527,910 622,943 761,891 304,880 475,870 963,847 1046,882 1172,847 369,917 453,962 364,894 1039,818 1250,985 365,943 497,884 742,870 386,930 857,927 813,924 1037,922 234,991 668,885 735,874 444,856 1088,874 221,908 629,893 505,931 554,860 1228,887 347,878 1247,940 826,983 695,906 903,934 573,871 795,852 1069,916 656,887 329,888 945,727 679,914 294,854 507,870 1138,859 556,886 510,842 366,879 1231,901 1152,900 970,771 1201,920 1174,855 523,838 743,902 1285,870 383,891 1082,934 969,877 1021,894 800,902 499,823 969,889 435,877 970,770 503,899 1216,883 242,896 1098,882 255,845 258,827 956,803 1046,958 611,941 974,792 423,816 489,893 317,846 402,932 307,852 652,940 1153,946 1156,888 657,898 1296,947 941,794 834,912 586,879 1141,859 922,840 803,889 869,938 737,927 605,873 335,914 375,845 1309,886 1273,931 869,861 1165,866 932,924 376,912 799,842 587,919 372,893 520,855 649,917 405,808 1226,903 1129,891 900,831 387,930 260,907 542,903 1174,915 323,917 931,841 1053,910 957,815 631,904 1216,930 829,893 920,911 407,839 811,878 431,829 978,721 435,888 480,848 504,883 1121,875 955,787 404,892 426,841 952,816 955,772 685,941 419,882 1102,876 902,883 445,863 1297,930 629,872 468,869 377,929 711,865 845,916 1137,792 1225,853 541,880 474,911 407,832 601,907 936,866 252,847 575,808 861,954 443,865 403,897 832,961 1066,937 794,927 1106,905 385,905 679,865 1149,887 988,930 1069,815 1161,941 1031,923 805,973 494,900 1220,926 491,886 500,912 871,777 554,878 1266,832 914,910 759,863 1228,893 488,893 685,934 363,888 626,864 978,858 1069,893 392,904 819,937 1097,940 578,920 1035,954 1301,903 497,963 1119,828 974,836 447,862 822,829 439,888 590,935 1305,856 938,851 1139,911 706,897 1263,904 864,881 1202,850 980,862 417,902 541,765 1151,877 485,997 549,880 910,841 390,960 926,874 662,888 577,907 1046,917 1173,708 496,990 1027,885 836,883 951,802 349,762 975,822 508,914 879,952 863,917 978,825 887,903 284,905 628,835 1182,918 615,873 945,818 754,889 297,887 289,875 377,945 366,847 1162,898 793,877 954,831 286,923 1064,895 506,905 438,851 783,910 426,898 856,825 233,899 1284,925 1030,853 476,922 878,796 516,867 920,884 1197,853 305,882 686,898 1305,887 748,892 757,908 804,940 602,913 1004,910 299,987 1215,914 585,869 648,917 330,888 915,944 524,861 1095,776 535,965 627,955 1090,873 1140,857 1266,904 1262,895 565,918 926,838 406,942 1217,946 1043,927 1091,851 643,881 517,911 323,913 574,905 529,829 959,862 878,961 257,920 394,923 668,935 1139,961 1020,865 914,853 706,938 709,918 311,898 704,978 1087,899 629,906 1224,922 274,904 369,897 500,868 893,915 310,884 380,876 957,856 554,1070 1105,865 898,864 974,828 307,831 440,870 1115,939 901,852 807,954 973,833 1107,874 1167,875 646,881 1139,922 449,923 292,816 232,897 959,861 294,764 1219,935 1193,942 879,900 1188,857 1262,914 1005,947 802,869 1131,872 980,863 1044,903 1043,887 325,895 660,858 1075,922 657,864 1098,886 597,909 813,908 1191,909 258,915 1027,914 1224,843 454,751 329,914 320,989 759,859 1155,898 502,928 572,889 739,966 866,890 1075,911 1097,903 1272,869 313,849 1245,880 628,903 986,852 352,870 745,844 1082,949 1134,895 786,936 435,938 239,816 298,880 1122,925 1294,850 305,865 410,866 266,902 1230,870 1074,866 220,934 784,942 951,789 304,942 239,892 313,936 744,890 928,777 661,974 753,925 1302,848 1189,908 1023,902 650,923 818,919 233,869 619,878 986,847 915,835 1062,936 419,860 1308,980 805,979 1158,955 1260,893 627,883 464,909 236,1019 573,931 546,937 596,934 575,857 662,859 594,909 631,896 841,1001 622,911 841,773 979,882 615,899 402,851 504,815 916,834 836,880 309,881 278,867 900,881 627,899 1187,944 1136,792 1112,911 1190,959 1250,913 461,907 1166,846 406,879 1264,920 478,886 241,911 1244,870 1163,871 888,812 597,899 894,847 311,863 1137,948 546,873 937,772 435,881 564,884 1148,843 650,884 609,929 513,936 358,910 1204,907 305,969 1193,936 1235,984 377,939 1249,936 1159,872 319,897 967,919 479,867 425,938 1009,908 754,853 571,869 1084,864 567,920 599,1007 966,803 300,846 1060,885 619,893 904,847 462,890 539,866 431,893 590,937 410,886 639,975 805,823 1138,927 518,794 459,888 969,854 1251,947 1248,842 406,874 969,882 430,856 611,853 527,906 624,941 705,896 350,880 733,906 310,913 349,836 409,853 841,933 379,938 890,861 286,934 1261,901 1120,893 1110,902 931,914 477,938 1078,851 397,876 689,881 971,810 518,893 311,917 685,995 609,878 1187,848 559,906 977,841 342,938 1266,921 581,911 970,833 746,902 1019,941 1203,936 1081,812 239,892 723,837 1293,929 902,890 870,885 1079,995 1036,915 459,894 1043,944 942,900 1041,905 929,798 970,844 1166,962 729,972 513,874 968,818 955,891 335,879 562,896 1186,932 823,945 240,897 941,733 399,927 1045,907 572,903 336,826 849,905 800,916 650,926 847,951 611,918 800,886 672,904 473,893 1288,901 471,898 431,962 897,900 1124,913 508,924 1262,827 855,913 891,803 1261,871 244,925 700,908 676,859 693,897 963,813 522,891 1164,992 1047,923 355,857 1169,968 1070,974 1154,925 402,953 1044,896 315,911 554,866 806,975 1308,911 790,873 446,889 230,948 912,790 1044,992 368,841 762,881 269,925 1150,954 506,770 1209,883 596,876 879,923 1188,897 611,865 1165,879 1049,904 1232,829 1128,875 1222,893 572,863 997,923 1108,941 645,943 389,796 1211,849 340,846 1251,867 594,903 617,871 834,1031 812,924 481,901 403,918 273,904 850,920 663,846 317,839 783,867 379,841 790,945 956,872 1295,939 1065,928 283,870 1008,863 412,851 381,851 1291,896 1001,907 690,928 1307,914 1271,906 421,928 731,881 1279,887 581,877 430,943 604,956 818,920 411,923 1198,948 327,895 1045,910 1070,962 661,942 803,941 233,848 283,907 1241,928 898,921 1098,951 979,753 382,956 1191,843 584,916 881,951 345,896 803,880 949,851 986,911 1225,934 1121,933 324,917 939,888 945,728 811,932 1094,924 1116,898 351,892 910,908 933,881 662,917 554,865 873,894 608,936 870,900 707,930 651,949 1020,945 463,913 852,795 405,909 795,903 1218,947 801,859 506,871 1263,877 723,887 236,956 272,892 1124,829 1156,884 227,896 865,842 893,926 1073,920 1288,972 637,883 273,805 788,868 1089,936 569,854 474,920" marker-start="url(#ob)" marker-mid="url(#ob)" marker-end="url(#ob)"/>
<polyline points="1226,884 279,866 1212,1007 890,868 553,812 303,910 905,840 238,907 294,930 1306,874 652,900 855,879 694,854 682,851 244,846 460,839 386,945 1030,891 332,807 822,913 228,897 1268,856 818,852 233,946 466,930 1273,955 411,836 1049,860 1138,902 1002,815 927,731 623,851 1307,806 448,803 633,872 351,852 1261,876 1228,899 916,861 1256,922 579,896 847,913 421,833 1136,883 560,959 459,893 591,883 1159,903 528,887 705,888 452,903 730,944 785,938 958,918 297,905 1167,883 1197,916 513,889 546,860 409,931 828,891 533,864 1137,961 872,869 663,877 473,864 1222,895 872,912 687,905 703,886 450,842 506,866 410,783 795,901 1266,926 447,885 802,947 1246,864 1146,885 264,815 730,878 1180,831 384,850 320,867 835,868 602,896 1243,884 356,886 394,871 272,914 818,1008 801,861 523,858 439,901 1274,838 384,886 665,858 1251,827 607,864 635,913 1091,826 1008,867 262,928 1295,866 1290,791 568,899 328,924 809,971 1138,934 1076,912 377,896 1197,944 735,966 272,937 456,887 667,830 682,820 539,909 427,970 1093,900 423,868 601,931 949,759 1121,901 287,873 1285,918 645,892 1241,930 609,885 892,924 555,853 513,937 528,909 630,902 466,873 1246,890 563,931 1260,927 238,976 1040,898 610,876 547,931 816,970 957,881 971,877 669,887 1271,925 844,937 621,933 459,980 831,919 1265,939 1301,966 899,812 390,909 511,872 360,938 738,924 292,838 559,945 729,930 502,909 1260,921 794,884 1046,944 287,903 235,882 1204,954 219,913 728,916 1030,905 659,892 342,913 391,915 1156,984 530,929 584,1005 705,892 319,921 878,954 356,916 743,880 1182,874 291,884 597,964 1242,836 827,929 895,934 1130,910 289,985 287,838 672,847 1198,896 427,867 1283,951 643,950 453,871 480,911 923,868 1170,936 1157,891 1048,910 433,872 280,833 1247,887 631,861 351,891 1127,899 1287,900 434,928 1077,890 539,829 474,893 867,902 627,944 552,835 563,895 305,956 707,909 923,890 821,930 1197,870 1208,921 1183,982 733,872 878,859 496,1016 1012,914 509,918 474,904 624,899 483,926 1207,884 498,902 430,872 353,830 637,895 815,920 976,838 1071,993 354,881 1241,849 412,849 1151,882 1236,783 1151,840 514,890 1138,914 1141,919 448,915 1055,871 401,844 1169,962 224,809 404,881 585,871 423,875 515,899 744,1011 1076,971 924,849 345,788 1070,964 1129,907 617,968 345,897 758,897 475,878 827,900 1129,920 289,895 250,867 304,871 824,910 622,894 492,881 974,902 568,914 1027,849 283,919 557,883 576,876 321,923 1120,902 869,853 980,855 586,843 990,920 962,781 879,846 1018,882 1022,877 1046,941 334,915 549,877 561,835 828,915 327,1114 489,960 1158,932 448,960 218,941 288,821 678,879 1024,850 312,903 745,839 1269,904 323,912 1123,918 485,879 503,886 995,985 993,746 266,890 1302,933 943,840 513,854 238,913 578,989 231,883 1264,781 635,885 390,887 852,806 1064,868 1095,924 818,943 762,916 261,851 672,924 486,879 1274,901 629,894 377,871 802,911 895,872 309,857 342,859 945,896 1242,847 482,938 852,901 803,924 878,934 722,889 1044,955 555,896 278,880 936,878 424,887 312,929 821,982 615,900 904,848 660,865 294,904 922,858 1215,943 541,954 818,900 838,865 331,937 640,899 1044,828 739,945 1294,862 1253,912 756,948 950,801 1150,993 1241,935 549,934 644,840 890,943 902,846 661,941 500,811 745,902 1115,943 1210,896 857,904 497,865 1294,851 1194,886 1288,894 426,909 943,765 1186,822 333,872 414,873 517,870 313,911 381,926 996,952 843,937 316,869 832,904 390,943 407,877 491,913 1152,919 1085,864 636,815 790,920 920,847 589,834 970,897 732,916 1279,936 1028,844 1266,917 348,900 457,905 421,919 735,872 795,883 337,943 245,919 1274,780 1246,907 657,858 862,772 1205,883 491,871 942,849 391,930 797,881 944,852 1122,920 842,944 359,899 690,921 384,867 888,940 1097,905 351,898 548,909 476,924 685,893 342,937 873,949 285,890 449,982 351,946 1290,959 502,906 1156,838 233,841 659,875 328,890 602,877 637,875 1042,897 1254,801 616,891 860,884 471,863 633,932 403,908 1041,877 887,906 1115,914 261,960 979,935 869,932 858,913 453,911 340,923 1165,923 867,936 788,898 1042,884 756,865 1192,928 565,951 1039,830 556,899 828,857 451,898 1169,922 1149,854 927,907 1194,891 1286,952 478,937 1299,898 1270,945 660,879 680,919 676,928 329,888 535,866 490,901 642,879 871,829 298,816 451,993 613,862 410,882 387,967 604,891 240,918 856,902 313,904 785,861 1042,933 993,907 789,973 992,867 312,837 705,922 381,929 681,955 790,968 600,899 1218,929 899,800 504,906 853,885 415,869 1217,907 970,900 445,888 612,918 450,945 912,796 793,904 898,872 1193,971 1222,863 867,820 1199,899 874,884 991,922 581,920 1096,1007 872,958 1311,799 606,834 335,902 228,862 248,886 245,931 974,780 476,898 862,975 436,909 511,863 1144,958 234,889 281,952 359,950 683,907 575,896 1100,936 597,875 846,905 639,883 818,978 1059,987 1000,919 221,813 1055,835 515,1007 1171,899 364,849 1096,807 1117,882 1094,853 308,861 643,907 1063,964 436,954 380,920 575,776 425,900 843,844 1084,927 985,894 404,959 435,862 981,907 236,853 654,923 324,856 1300,920 474,917 578,843 259,930 835,913 560,938 1226,901 249,937 386,902 675,890 548,835 1163,920 1188,856 1156,1063 954,849 1057,922 409,848 1214,901 558,915 1143,896 698,954 916,800 508,915 371,873 428,895 253,857 832,965 954,836 1201,863 992,844 847,976 904,871 882,912 706,932 943,896 462,896 525,896 1111,861 1021,924 333,892 1244,942 1020,916 1279,908 994,887 1136,901 556,930 642,888 831,837 459,853 562,884 295,886 355,896 1088,816 386,986 509,899 1047,822 381,804 819,900 471,884 1146,892 402,940 571,883 802,919 950,774 1311,961 722,857 411,843 1052,927 286,841 374,930 927,916 726,807 1269,880 305,918 1237,915 358,905 1123,845 408,883 677,884 228,902 303,845 1248,953 692,921 1265,942 684,907 1052,940 1080,920 1117,894 745,853 237,863 843,941 723,897 744,891 548,918 1042,971 761,906 860,876 1246,821 1071,914 754,878 870,875 647,917 1140,905 469,894 364,836 937,854 406,941 576,922 959,774 1309,885 349,862 240,911 1067,869 404,940 990,897 600,917 296,885 1106,849 512,905 389,922 728,906 809,861 629,977 961,965 752,1070 235,911 652,916 306,824 329,933 1006,797 1234,876 666,943 1046,925 752,910 316,902 935,890 1191,875 1154,923 490,871 868,903 974,811 605,934 527,850 415,849 1114,899 806,923 558,887 705,906 505,826 1090,969 1024,918 1102,768 1124,901 980,882 355,890 1180,919 901,881 241,877 235,952 573,955 729,899 1299,957 876,887 1168,928 429,930 380,922 230,946 749,921 869,874 478,866 490,939 1017,891 786,923 364,958 1056,938 594,902 582,844 489,816 1000,899 981,908 860,959 645,899 242,874 1139,1025 579,860 794,842 297,833 488,958 851,897 1032,925 804,898 743,926 378,906 1273,878 478,890 1252,868 342,932 670,892 617,965 631,881 580,872 1059,847 1053,860 755,900 1235,892 338,902 463,898 1269,899 475,844 866,833 797,934 1160,895 1102,831 1298,885 1103,949 892,917 234,948 1157,926 537,895 721,878 649,927 630,842 1021,902 293,959 644,897 320,860 359,882 1237,953 899,836 356,923 1043,912 1301,932 229,870 453,907 1072,885 819,958 229,886 403,887 221,857 536,881 819,933 553,827 365,864 583,935 992,927 1027,906 235,683 451,889 483,757 373,838 747,929 1188,920 609,868 532,913 234,916 465,891 1289,924 1272,795 1072,1006 303,887 543,948 758,869 677,827 1245,854 826,920 1220,890 1175,883 1045,821 558,878 637,873 1289,857 694,865 583,959 475,939 1216,897 866,892 646,924 429,849 234,946 927,828 1025,871 1115,886 1090,897 1284,972 345,905 1030,926 1011,952 616,943 1296,785 532,890 1098,907 1152,849 929,849 1217,902 397,919 732,893 1289,845 975,848 384,914 1048,915 498,840 1136,886 609,909 883,863 476,896 572,945 799,931 1003,931 1289,841 928,883 552,906 272,899 636,878 1127,820 299,863 320,930 1197,968 989,975 371,859 1113,973 326,891 242,919 951,747 1004,869 790,892 1276,939 728,839 259,989 632,929 264,869 515,915 513,787 1022,1000 1240,909 1097,855 787,934 1223,1004 810,890 652,939 596,885 1238,922 726,869 236,1001 954,859 1063,1004 1083,949 844,930 1185,920 558,934 1191,932 394,903 292,997 260,884 1035,956 425,937 895,860 1123,893 527,956 859,887 490,883 1140,937 409,900 904,915 1227,902 350,894 484,900 1039,880 786,871 255,842 247,862 308,801 955,859 888,888 1187,862 230,900 509,967 518,920 438,972 704,957 1295,934 529,905 976,862 1227,881 918,854 554,840 241,842 227,910 732,903 545,888 261,889 558,902 951,772 746,943 669,935 1028,824 1246,872 1215,948 316,910 1236,916 516,936 423,861 1193,872 1161,902 1221,950 1057,807 464,804 596,925 993,901 314,929 1295,1005 755,859 970,802 735,925 575,889 266,900 373,905 475,874 1275,925 1141,967 290,840 413,936 1113,873 1105,940 529,878 1198,907 334,936 379,834 420,958 1019,877 467,870 733,897 1094,932 949,815 864,876 346,882 1190,944 548,894 722,883 511,829 600,889 1043,852 850,933 1260,842 530,885 1080,772 554,938 356,1003 1136,884 938,835 602,914 620,938 1194,877 915,777 708,910 969,758 1174,915 510,958 1309,980 917,828 300,912 870,875 1300,868 311,871 609,922 1011,918 969,878 1068,904 823,920 486,919 1276,892 705,881 1111,954 1263,886 708,1019 543,932 756,840 748,935 551,925 227,921 1073,864 935,876 227,837 1247,922 598,900 700,930 685,873 223,884 435,920 1274,989 1154,869 839,914 602,943 1161,906 1153,828 256,899 638,948 1217,884 527,910 690,869 1268,928 597,921 383,915 967,821 855,893 388,957 753,921 453,882 786,961 851,888 650,932 931,879 426,888 807,904 573,859 871,855 326,923 326,856 506,909 1198,931 227,783 490,917 301,926 1107,848 960,821 759,934 678,977 1085,956 537,928 546,879 892,938 752,921 611,878 956,858 578,858 634,892 1217,877 848,932 1030,852 360,910 225,786 522,838 383,870 623,859 663,900 812,870 1190,892 944,720 428,1023 821,916 1224,947 726,867 988,885 1144,913 470,878 274,949 1098,890 878,869 413,919 548,900 1166,910 1108,919 1067,939 1135,867 379,792 555,874 449,967 787,932 574,892 1114,939 801,858 525,1006 726,831 1303,936 1279,892 471,859 301,873 279,923 619,941 1167,890 627,772 320,852 1015,909 684,862 360,965 808,836 940,820 724,942 1132,925 993,974 1210,846 233,922 1162,862 496,894 1113,878 799,924 698,861 881,890 906,865 310,901 907,945 1065,908 1013,894 1206,888 696,859 244,926 374,828 330,910 1101,873 646,935 540,858 981,887 737,915 1050,855 312,883 760,927 731,922 1126,816 493,842 843,891 636,875 863,863 262,856 257,762 792,1035 796,913 546,905 1271,857 1119,862 873,807 917,877 1166,854 1265,890 1277,881 442,859 977,845 366,950 416,892 1303,845 305,889 1170,945 357,878 902,783 1116,970 308,954 362,898 745,863 882,898 1059,965 1183,875 1169,952 909,828 732,851 1066,841 1216,841 264,886 523,892 1142,852 353,914 533,939 841,839 293,894 302,814 1188,878 237,878 1129,827 947,847 1277,896 261,821 682,923 1212,895 1038,910 515,929 1102,879 680,964 844,912 928,875 784,863 1181,888 1223,791 566,846 1071,872 898,868 756,868 1048,922 606,867 1292,893 913,869 1149,934 1189,946 941,807 250,866 491,872 667,853 466,891 818,852 1132,875 413,889 634,984 1290,915 955,786 354,910 549,891 1202,925 680,861 735,958 258,883 1151,914 1176,871 791,927 819,863 978,843 1263,922 1020,873 473,931 1100,855 1038,896 379,847 311,884 413,872 438,948 1088,949 879,872 462,907 729,934 451,907 236,844 1025,887 569,929 352,918 1213,878 497,861 671,958 1183,871 612,857 970,834 671,946 633,946 403,917 954,791 257,852 954,865 1047,927 612,846 1263,866 285,937 1289,879 1219,945 505,824 610,958 726,921 1200,905 618,890 219,938 358,824 759,911 312,893 956,796 1145,931 235,861 899,846 1079,895 1306,835 885,936 1046,889 1073,815 608,904 1211,924 813,849 261,935 626,893 472,946 525,820 1217,910 889,906 703,891 945,822 681,903 321,923 1235,893 921,907 1075,877 1129,876 1236,812 881,817 1288,900 897,822 1165,921 672,873 1258,868 1236,918 1247,867 1286,898 530,881 659,895 561,953 549,848 390,913 554,922 285,920 326,868 318,909 1189,761 651,900 972,749 694,882 1206,857 322,844 863,896 618,786 538,939 751,860 1011,912 1130,908 911,867 726,949 1040,899 1251,898 853,873 725,939 800,915 693,885 380,941 464,941 1112,862 727,886 379,816 1179,916 1227,892 1213,922 348,877 582,834 385,805 722,898 1249,823 813,849 568,891 899,842 646,938 790,865 616,946 957,886 292,889 219,928 1211,846 1173,923 895,916 1017,846 639,957 401,894 1121,933 551,907 1048,942 570,1087 613,913 622,967 230,872 482,903 436,866 449,912 630,871 846,924 405,890 1119,910 424,895 1121,878 948,800 1011,910 958,809 877,829 426,888 394,884 1023,864 825,882 388,862 853,911 320,947 305,780 482,921 981,809 1122,873 956,759 271,971 1223,911 648,921 684,968 809,924 295,932 1260,945 1039,934 1270,883 758,887 818,943 1039,884 462,904 1226,977 883,969 727,897 675,856 949,758 483,858 454,862 942,830 821,894 323,912 474,925 793,939 1235,894 528,892 587,927 355,874 330,880 482,926 938,821 739,916 304,923 234,847 407,836 228,888 1227,945 487,850 1255,1033 821,904 417,858 734,885 1165,838 1271,850 1069,899 1073,822 463,883 652,791 346,899 715,940 839,891 624,811 950,762 410,961 1182,878 474,961 287,903 416,922 1103,858 1101,880 852,970 387,863 647,835 1290,880 1301,889 739,913 692,934 480,894 1138,956 1065,937 976,909 1025,884 300,914 657,890 362,923 380,864 426,901 1242,870 1048,871 300,957 503,914 499,917 697,946 362,885 412,920 456,1088 417,912 854,1008 1145,938 462,831 1245,819 818,847 1174,917 1186,833 266,916 386,912 1269,976 903,851 1147,872 819,877 258,877 1212,736 1297,898 742,882 1189,876 1149,846 239,907 730,879 746,941 1022,938 1168,911 568,945 795,864 444,896 674,962 1212,907 811,923 1203,930 923,886 428,853 1265,881 1231,980 526,893 699,839 475,915 799,933 1095,877 1015,909 647,904 922,890 631,936 290,867 230,884 1266,906 280,873 644,817 1002,891 1139,902 498,889 396,904 978,851 584,916 969,884 250,863 1225,887 1038,918 1246,892 897,970 887,838 1180,883 633,911 230,783 1226,994 493,906 504,911 482,903 1022,831 1152,867 1022,893 498,943 922,919 920,916 616,906 651,817 1079,963 1274,871 914,773 1102,892 1195,870 1175,888 354,955 356,954 261,924 1194,890 612,927 1292,896 1167,919 338,997 454,932 1295,931 390,932 1277,842 361,924 938,835 380,907 473,765 579,907 1045,894 610,870 448,880 851,883 995,933 1212,944 448,855 235,865 755,860 484,903 835,967 1042,913 1258,941 695,885 1216,935 226,895 1209,901 631,867 1174,932 949,875 921,801 667,899 729,847 1186,873 936,851 933,841 905,869 308,897 1068,861 1000,908 571,871 639,887 1146,900 342,810 636,913 393,919 977,795 1164,864 237,932 762,912 391,921 1004,854 1203,920 942,861 825,954 636,905 686,898 1168,852 951,876 1194,790 269,871 579,925 315,939 1058,871 235,965 875,917 802,889 1159,890 637,909 536,922 480,947 1302,957 1119,898 682,882 586,886 752,878 1050,815 761,888 917,857 298,902 734,863 1093,929 792,901 218,922 1302,877 696,901 577,866 523,975 317,859 1169,852 443,928 996,932 668,861 1083,847 1097,864 980,830 631,868 1126,872 1192,919 461,865 728,889 798,881 1127,934 803,934 943,869 1078,875 581,942 1130,895 735,863 1198,943 856,888 1044,887 228,886 954,775 759,883 478,946 975,876 480,839 835,840 890,843 314,919 1139,966 1026,943 1230,903 1135,940 783,937 284,923 1291,879 1122,892 1177,917 240,893 883,889 575,866 1086,919 659,881 919,825 1115,947 1228,898 594,871 823,946 315,871 1196,905 585,828 482,948 302,958 1040,960 794,908 1214,935 364,876 585,942 563,933 476,840 907,825 908,882 368,886 258,874 822,962 832,888 738,964 1061,880 588,802 562,910 1211,929 732,928 1067,908 846,957 1222,932 406,901 1089,891 1154,887 1054,960 281,909 850,971 1205,907 1245,879 515,864 1031,882 1202,831 732,896 650,999 1281,1037 497,952 675,921 1011,926 412,871 1155,866 977,918 1074,910 679,845 817,892 1075,882 881,872 851,873 921,837 1201,903 1239,934 1026,905 410,883 863,890 722,868 850,844 622,897 1089,885 1036,881 1240,925 788,975 1113,858 1037,893 813,830 512,867 587,956 947,820 532,898 406,902 242,804 1225,910 1218,891 371,945 859,926 761,917 325,883 567,818 579,858 546,833 386,920 1287,906 612,898 928,793 748,879 727,838 1300,925 975,803 636,838 236,848 313,880 241,915 377,928 915,802 1067,977 345,923 403,981 1120,847 402,969 947,819 1210,881 1237,897 1139,941 807,928 446,942 292,923 228,993 1173,968 449,916 999,963 312,908 663,893 512,899 918,788 822,880 599,865 263,875 872,847 1014,877 1272,900 871,890 401,945 888,925 948,872 1024,947 593,945 1042,885 1042,941 1149,857 668,946 895,863 1197,826 848,860 1120,922 387,878 639,901 433,903 489,858 888,879 1100,915 1090,911 745,990 1205,931 318,916 1296,955 743,957 904,887 1233,825 440,826 524,913 1197,956 1093,897 855,937 953,871 674,842 1068,890 354,838 635,867 1080,952 1045,892 832,939 755,872 1016,884 810,945 482,878 954,871 1310,953 891,900 290,888 1028,976 1069,957 1224,937 576,886 1259,859 505,887 1097,887 683,861 318,867 852,880 305,929 705,858 479,822 658,875 1167,951 459,900 461,895 1191,829 991,938 456,971 678,897 408,884 1071,885 715,872 864,865 737,910 705,869 392,1001 798,903 949,833 464,874 1232,937 968,853 803,962 618,952 345,894 575,847 923,856 694,961 569,873 677,866 1117,873 1214,903 374,967 740,880 490,896 218,857 859,986 546,868 1016,935 1113,982 655,950 1000,933 1128,935 673,927 969,795 901,784 996,927 651,906 1179,821 1111,846 1287,922 278,902 238,924 604,913 981,838 1110,921 308,892 929,893 951,831 1201,901 468,850 472,906 965,816 918,1031 1037,891 1149,940 978,827 1291,886 657,957 620,847 623,895 705,895 1178,896 1185,868 550,891 947,860 260,938 439,924 1221,897 900,912 1023,867 403,908 1264,898 458,950 1306,898 606,899 555,888 1074,817 1066,829 528,872 660,922 893,852 1117,927 243,869 1220,911 693,1026 829,953 1111,920 1257,899 269,864 390,922 338,870 1070,907 339,850 667,1001 1213,937 238,883 423,830 594,926 305,871 384,891 1153,897 648,923 705,828 305,930 947,829 315,889 906,881 1121,902 1176,987 841,909 468,969 1055,937 1248,976 385,930 981,860 809,1009 928,870 342,906 966,887 876,908 545,935 979,841 924,958 1267,832 405,863 598,882 496,945 1064,940 649,977 409,903 330,910 1247,946 403,916 286,856 497,925 445,853 519,1002 680,904 1207,915 1003,897 1307,854 849,918 262,949 906,918 874,847 723,893 849,935 951,795 968,773 1107,947 801,833 1147,864 633,886 1162,877 1068,978 228,887 867,850 338,903 756,915 1169,845 1118,928 352,971 615,900 1004,909 290,889 441,873 707,911 259,848 800,964 799,858 731,904 851,842 227,919 531,926 846,890 1176,891 639,911 915,810 475,927 879,886 758,894 266,954 434,930 1111,894 747,1032 755,922 431,925 480,907 989,868 1024,862 915,800 413,888 412,867 879,811 236,1001 884,865 315,904 754,936 849,933 1300,915 484,898 452,850 387,908 458,947 357,902 1141,914 643,901 1055,935 672,954 843,1031 697,901 760,833 1043,868 333,880 235,897 898,855 933,832 1006,1033 299,847 760,889 383,910 749,962 527,924 997,918 1115,927 292,863 891,864 320,886 465,918 822,926 997,880 545,893 664,719 703,959 1273,858 802,944 704,999 532,929 612,896 1222,919 1150,875 426,857 827,894 644,909 1228,953 965,810 872,957 558,842 731,884 449,934 1093,912 372,941 1094,865 622,871 424,829 995,897 882,881 849,882 888,860 322,801 685,907 1063,886 625,911 251,853 465,871 894,896 993,974 464,852 394,800 831,860 1139,949 996,891 922,818 1194,960 899,870 1178,901 1178,914 1026,966 515,942 898,902 817,891 1240,935 1098,978 722,972 681,930 680,888 980,889 521,908 465,896 683,846 533,922 762,896 413,883 309,806 819,815 976,896 1132,902 538,901 1137,849 344,865 642,953 636,966 584,884 631,938 463,883 228,934 310,906 405,951 754,915 1127,866 995,971 724,957 828,906 783,845 308,912 464,884 325,923 1307,996 1092,838 1122,888 263,858 530,935 365,921 927,850 459,977 222,914 1245,924 633,846 557,880 1025,856 1292,874 1014,926 800,948 1036,903 626,891 499,974 758,896 319,895 1285,891 822,925 407,907 742,876 922,817 604,936 1138,871 421,918 640,909 871,994 1250,845 342,910 1293,838 507,910 288,872 1123,806 748,939 848,914 686,859 1191,887 936,818 846,938 440,896 1165,894 1293,877 407,840 848,869 256,928 265,910 398,885 236,947 841,923 1207,940 1023,903 1188,905 695,956 1266,917 980,816 1178,869 685,931 1220,896 1029,871 695,894 401,975 578,860 1152,920 265,936 1115,965 637,911 408,919 649,943 602,869 940,829 314,924 881,931 740,955 525,916 412,914 242,902 688,987 506,886 1224,835 875,1029 696,923 1310,959 732,909 1143,953 1191,885 707,909 821,898 1116,883 336,880 237,831 955,737 375,830 259,845 1237,874 435,846 1298,906 666,879 1102,890 969,879 734,857 554,872 356,889 1118,892 867,854 549,849 1157,842 324,900 571,923 1106,922 846,940 258,994 994,989 490,954 1142,970 580,856 797,900 1248,895 452,904 863,975 853,864 1196,952 218,883 425,918 1270,870 636,888 799,935 1232,928 1195,834 1079,891 433,894 435,948 556,868 398,915 1120,875 1209,896 809,989 361,838 1042,905 1121,904 856,825 1113,935 796,933 289,903 850,851 384,873 260,856 237,892 686,932 1027,925 743,892 1196,913 438,908 976,886 1014,865 817,933 353,896 377,894 472,857 299,921 1091,877 495,906 844,974 1168,884 927,793 548,836 1094,916 983,920 897,815 637,900 1085,913 932,873 1080,913 1270,895 373,889 466,956 651,870 1030,862 564,893 1023,937 1269,907 1020,911 960,784 963,797 1264,938 530,955 845,782 1294,777 630,894 1067,886 1050,923 867,948 334,927 1227,823 527,866 1140,882 288,875 443,883 251,981 954,778 455,920 818,932 798,923 601,913 1174,830 930,815 910,909 694,895 642,943 1271,858 1088,828 943,872 1102,897 812,935 291,932 354,890 1253,924 393,848 310,968 933,840 294,878 705,943 952,832 827,897 1205,839 511,933 385,888 1304,853 649,950 1159,969 1242,906 1253,875 1247,939 745,932 505,895 636,876 757,849 446,845 681,885 602,892 399,937 651,905 238,942 816,914 1020,953 1208,924 627,892 831,924 1147,889 410,835 951,854 303,859 243,891 969,813 326,888 632,945 852,888 981,876 465,923 1040,948 516,880 318,859 1067,872 394,900 800,893 365,905 1133,987 1124,897 894,869 870,823 339,896 1040,852 1048,910 487,881 357,935 287,1009 864,893 1259,859 574,866 491,920 697,892 514,888 892,853 1253,916 237,944 311,853 318,919 500,853 792,843 876,899 935,764 678,872 328,761 975,849 617,859 264,909 1227,943 743,896 672,925 744,917 384,913 897,815 1197,959 1042,931 808,905 364,896 987,894 693,846 696,876 539,895 1291,910 1299,942 1299,916 276,904 1251,912 413,844 406,824 1224,859 445,939 1116,885 450,922 253,954 572,909 274,943 1269,858 415,871 1252,976 1024,935 229,902 239,882 230,926 613,920 1068,955 426,936 235,881 228,875 833,869 528,932 1143,899 947,739 318,899 1144,900 945,832 900,860 896,825 940,809 921,830 1167,850 830,891 275,907 1290,896 426,890 347,862 567,869 1192,721 704,913 979,855 558,908 904,875 989,858 1231,859 224,913 596,910 594,899 822,902 981,915 366,942 233,900 381,936 1023,860 376,836 815,894 322,880 900,861 390,843 1221,906 1201,890 382,860 314,902 618,1029 1139,939 1088,883 1063,867 903,883 427,871 326,914 435,899 457,854 1000,964 260,1019 1274,902 833,909 628,971 1134,931 998,933 1160,924 448,903 683,939 722,913 1015,933 1196,893 1030,943 1295,924 756,917 968,812 1136,979 1284,897 1193,892 1110,843 1225,877 425,887 612,925 953,745 919,864 905,854 871,895 821,956 560,848 1069,905 461,890 898,891 945,715 1244,884 389,911 836,953 288,910 1058,888 1305,880 1103,869 1241,840 330,867 400,837 700,905 662,888 428,944 613,821 428,890 670,894 604,876 1298,903 610,948 225,878 406,927 646,802 917,865 957,772 1296,882 528,890 475,866 918,823 625,901 630,889 490,902 1170,850 1289,871 929,799 1251,850 218,957 647,942 1193,845 339,804 1210,869 395,880 744,950 753,948 694,879 387,963 581,856 1107,862 800,877 1107,926 626,861 303,885 625,860 966,767 1172,914 1151,869 883,865 899,869 1072,860 299,801 1220,860 530,939 276,847 1022,967 574,896 820,908 897,784 1012,991 741,938 823,853 317,864 257,886 917,818 378,921 802,877 1309,919 1141,913 1236,877 447,1115 637,949 370,912 748,950 286,934 892,889 308,944 611,955 891,839 1212,923 339,845 1120,887 236,946 486,900 605,967 951,891 1137,1007 455,896 1307,909 977,783 335,917 787,857 401,879 1065,1001 900,925 1002,909 245,914 803,902 505,811 611,936 736,856 328,943 492,895 1212,890 320,834 909,900 574,941 989,893 1119,905 348,841 1170,856 834,936 963,832 1199,955 408,874 326,861 901,890 1111,895 812,965 1299,917 925,875 1099,917 1221,916 571,928 1158,882 524,901 726,924 560,887 477,872 1303,877 1062,920 757,892 536,935 236,926 669,907 386,899 503,873 617,920 1108,839 933,850 379,923 1099,866 557,909 528,924 1054,915 437,907 1098,908 756,935 1169,889 636,865 792,857 1290,915 649,880 620,987 411,878 1118,962 397,940 1052,820 1128,852 550,902 1293,912 1221,844 1114,919 353,876 867,849 518,882 650,858 1280,885 315,918 574,862 668,857 1238,955 739,909 582,956 276,853 686,904 425,925 242,851 955,778 746,934 461,834 1076,918 326,879 423,896 1272,945 1224,835 740,854 993,926 474,892 292,898 1043,981 285,917 693,860 796,911 547,901 1042,934 255,920 312,934 1228,879 328,968 733,903 1198,913 729,884 301,993 295,882 311,849 981,896 904,832 1141,880 659,913 505,983 873,853 1056,901 650,957 380,928 377,875 430,928 708,846 368,887 506,906 1151,877 1043,884 529,901 916,904 731,925 898,857 802,940 251,875 1046,888 1029,943 829,895 395,908 1225,979 994,893 626,900 415,850 554,903 1069,817 326,901 476,985 390,954 617,941 1090,948 590,859 1023,924 599,813 1109,897 232,903 525,943 473,894 1144,918 510,896 995,973 526,951 615,867 846,897 495,863 806,851 1311,910 304,895 724,926 325,857 660,923 574,836 481,871 632,911 969,847 434,888 942,885 836,846 974,779 490,900 407,839 659,919 537,939 650,899 1260,818 1074,854 610,867 605,900 1104,873 1223,900 1089,883 977,875 557,887 409,888 955,768 537,879 333,952 1136,904 926,827 1065,932 429,941 241,882 1270,927 1095,892 628,883 491,903 306,944 1118,845 731,849 396,811 593,882 606,938 950,830 1196,930 660,901 1095,942 671,919 1193,881 279,850 331,902 1290,924 1233,988 1034,927 759,879 971,816 1120,832 243,954 1286,915 383,935 367,880 266,914 630,909 577,874 378,909 1107,859 1009,904 498,858 447,877 499,935 928,910 661,953 314,884 401,842 1297,923 308,919 912,869 238,891 944,781 1240,802 629,972 282,874 995,837 840,902 427,886 1197,892 266,901 802,998 806,930 1059,844 240,861 658,917 829,1019 751,815 1264,905 391,894 598,904 683,945 1163,887 627,944 1149,859 233,1063 246,841 433,863 333,930 946,817 791,928 912,854 393,880 1035,790 257,941 736,863 1034,833 968,846 1268,862 900,958 380,912 1276,864 1208,860 734,920 1139,904 1116,970 981,864 979,843 1117,909 390,893 1071,876 995,857 1042,955 1119,892 976,858 893,895 847,907 680,929 306,899 669,830 874,883 661,878 1142,794 353,832 645,892 650,895 328,866 826,938 283,910 950,786 1302,856 883,849 661,902 286,907 337,918 552,881 596,802 1148,806 873,845 1252,832 837,888 941,810 892,836 416,891 448,926 726,942 576,899 234,911 815,904 629,966 483,967 625,863 707,910 297,823 634,853 1046,907 844,914 487,879 1118,870 258,874 1262,899 1243,902 481,882 606,919 1122,930 723,831 677,882 1302,880 693,907 660,1001 528,886 351,880 543,910 505,851 827,921 1005,942 235,895 1115,912 1248,883 526,1034 800,913 1234,924 622,856 613,931 1104,894 733,872 817,918 918,824 820,911 707,908 979,900 680,857 866,845 307,950 600,902 595,877 1118,1001 1013,898 1135,866 648,911 380,905 289,891 1196,869 792,913 378,918 1160,884 1185,851 705,985 448,936 975,747 1073,949 426,948 618,810 1187,890 834,867 574,900 680,832 333,935 508,951 642,912 602,904 857,894 364,888 928,881 559,906 1129,910 972,755 261,834 311,813 376,866 885,885 801,830 318,895 364,890 905,884 923,925 1151,948 808,948 915,885 903,863 360,926 386,911 1288,904 523,889 1125,874 723,870 599,881 847,906 479,898 416,959 524,955 415,854 574,856 794,941 920,883 1119,875 1118,949 849,970 439,828 1024,917 547,858 951,752 611,827 906,897 235,832 426,923 1108,887 520,880 817,869 1127,855 314,896 955,828 690,921 1246,912 671,937 262,907 670,914 1066,905 1288,1035 350,907 285,904 1006,891 980,886 841,918 220,872 724,879 1285,1002 236,937 1289,922 1264,1007 505,921 1276,910 430,929 1236,905 652,908 231,892 634,895 797,900 596,886 1163,858 377,890 975,897 908,812 738,978 632,994 826,909 318,839 681,903 345,965 386,878 412,906 626,958 1207,812 1173,925 472,901 1172,957 903,806 868,870 438,844 1151,923 402,974 259,921 860,937 1048,921 806,889 818,914 340,903 1198,859 846,957 1270,924 961,910 421,848 283,919 818,888 305,817 314,881 1127,926 1088,911 1027,837 704,949 557,850 486,882 1073,927 954,805 1022,835 950,875 529,876 758,752 1175,882 416,896 1017,848 408,835 1219,780 866,887 322,960 868,946 734,937 968,834 872,858 674,849 913,838 696,891 489,923 1051,900 1104,920 1193,927 883,908 899,839 1260,895 1044,847 891,875 848,907 734,953 892,897 664,890 640,843 311,929 1293,919 307,868 434,929 1017,949 1138,866 1211,918 1001,962 1271,946 1072,952 901,821 658,852 546,872 567,907 233,830 485,898 1124,796 552,824 516,874 1109,953 636,850 517,871 741,957 549,943 1201,892 434,934 1192,870 858,991 1150,848 415,892 788,985 854,907 1097,864 942,957 1042,931 1039,859 1219,951 231,853 398,931 860,832 529,969 623,878 939,823 891,887 1063,940 880,882 304,917 265,810 229,837 444,894 514,894 876,937 295,875 387,872 572,911 229,942 387,863 978,850 518,903 649,933 1219,871 1049,853 480,849 481,886 758,687 682,926 471,910 286,936 305,906 1044,921 873,868 314,868 286,851 226,854 1023,901 1064,946 1286,926 1295,860 621,834 1174,999 622,881 895,901 227,855 227,912 1166,816 565,970 1209,881 953,870 349,920 698,854 449,889 804,906 733,879 242,865 977,821 1105,821 751,859 1137,925 407,960 850,861 1297,944 627,861 404,858 686,864 229,953 403,934 890,821 733,952 638,926 793,899 1134,902 880,833 906,888 1226,957 399,890 425,917 396,823 803,928 1103,838 1112,889 1237,933 1171,927 452,805 1199,906 918,842 1000,918 1036,920 1310,984 612,959 1306,969 339,965 1225,946 943,800 256,898 879,896 1268,904 609,881 1119,943 528,935 396,903 414,917 1099,949 1294,911 1002,940 504,908 408,838 1121,964 1029,874 397,911 281,970 722,880 1082,893 1017,964 1280,896 1168,897 566,918 326,821 628,892 575,814 372,800 789,900 223,980 1062,893 970,840 804,976 968,783 632,913 518,993 1077,915 1001,899 1260,885 368,851 459,827 263,1094 941,810 1085,954 1127,914 219,912 1036,886 538,923 1165,970 867,865 401,876 592,910 1075,898 855,937 1240,896 704,903 757,960 1243,881 552,898 258,850 642,825 313,883 413,837 896,923 339,886 1215,894 425,952 549,870 1155,885 1153,656 292,898 943,851 1056,967 1170,915 634,881 1218,848 975,792 1173,901 1073,876 1265,1010 345,922 547,850 1115,936 428,936 744,966 1063,866 1250,883 392,896 223,884 934,832 702,931 993,752 1139,967 550,882 601,956 892,875 806,942 409,1101 902,867 817,1065 914,900 1075,861 435,859 1131,898 986,894 287,868 396,917 1027,942 737,890 844,933 618,1099 1150,836 1202,907 557,857 463,889 390,844 577,902 580,814 659,940 564,932 534,901 1120,841 268,899 1287,842 677,859 382,913 1073,886 1055,930 816,866 1193,896 833,907 686,928 1298,898 509,939 408,843 822,987 731,944 415,975 1289,956 475,897 244,812 1289,882 741,958 306,843 1042,973 827,948 1207,875 929,863 1262,850 1149,870 414,920 870,900 328,891 1065,846 1034,912 757,900 497,944 926,856 467,868 1242,893 1260,895 389,965 1213,910 1032,926 870,874 597,906 349,850 536,907 313,893 677,886 925,905 956,931 654,993 981,819 840,830 505,966 1288,1073 1117,890 722,920 708,922 680,893 1016,810 599,906 927,806 845,883 662,877 906,848 1081,965 675,942 435,880 635,935 1145,825 410,886 581,955 405,878 411,958 1145,860 1227,846 328,881 306,834 649,964 652,888 851,910 723,901 878,854 741,821 1216,800 900,861 465,961 870,862 337,909 570,923 589,861 1076,869 590,927 847,937 1294,896 400,911 327,869 515,894 671,877 412,852 448,910 641,891 312,856 310,862 1113,848 425,927 1151,923 285,905 1153,950 391,941 376,915 548,937 446,808 1022,897 459,911 1019,946 809,877 685,897 816,912 845,864 1250,886 313,947 464,889 565,868 1069,882 1105,844 932,848 866,887 1190,882 1150,847 341,940 1204,846 1134,922 509,890 1053,888 1134,919 1162,909 757,937 678,906 613,855 1243,887 231,851 353,901 470,852 412,860 658,908 277,877 1088,869 1097,875 433,965 577,880 980,892 409,856 464,851 241,914 950,808 1113,913 1117,772 903,887 870,902 572,953 664,883 1041,992 412,932 665,933 944,860 722,818 218,831 877,984 851,918 523,872 1057,873 661,863 369,918 602,899 1214,877 303,889 363,967 1108,955 463,902 415,939 1153,941 1124,897 360,928 377,850 306,917 940,913 734,751 1272,916 878,896 798,794 821,874 624,893 1113,862 679,887 1018,920 831,896 340,885 681,874 1207,902 402,870 1132,891 1138,981 684,918 571,919 521,851 504,937 1190,901 629,856 513,825 633,914 927,827 1096,904 320,839 1153,904 383,918 1096,906 635,885 650,874 868,930 612,902 330,946 759,941 610,909 1261,951 549,911 547,877 1265,877 429,962 502,855 1123,935 1176,987 980,857 627,886 925,858 481,978 487,872 835,940 585,899 631,930 903,790 654,911 1249,906 448,1020 891,871 1075,980 278,821 913,911 1165,884 519,923 818,860 329,882 543,872 958,862 971,834 403,858 1089,936 596,901 757,928 973,854 838,895 1128,865 677,905 331,938 1191,923 635,874 957,857 604,868 492,836 706,1068 974,914 914,872 866,954 282,923 633,849 1145,874 434,976 991,945 628,885 404,929 642,942 555,960 1226,903 234,867 312,953 327,908 1039,867 1207,920 658,903 520,860 1139,957 294,931 1172,814 817,959 431,920 1020,847 454,839 476,934 368,857 568,936 1186,940 261,849 1300,868 412,951 625,900 835,922 1202,871 726,875 1048,836 1176,848 450,992 1089,964 624,846 390,900 1169,902 258,890 555,841 560,783 261,925 407,881 1250,881 232,853 839,879 1276,925 977,887 297,933 359,859 1267,953 331,905 298,935 785,863 566,893 462,897 1212,894 1239,952 1022,899 707,941 1214,962 417,914 632,886 531,840 1136,953 785,941 583,882 904,825 900,829 409,902 1076,904 1172,886 1158,869 1305,948 427,920 825,891 298,877 1077,954 499,835 1271,949 286,966 1198,898 387,941 556,856 648,843 617,885 611,880 633,970 305,937 247,928 965,888 537,1015 356,853 454,919 320,955 852,943 1007,870 485,855 572,905 755,912 866,846 895,821 1155,950 899,849 355,832 697,880 366,896 677,864 264,839 233,799 533,902 877,866 1118,914 954,868 533,834 250,921 500,858 561,892 678,888 472,850 1166,854 1044,866 784,890 529,928 1290,847 542,895 276,880 1046,965 1167,816 1049,965 1072,922 1014,968 622,935 218,877 991,896 1095,846 264,920 361,769 1030,884 680,937 1303,905 562,809 397,856 366,877 219,877 1200,833 1252,900 1051,915 338,925 1115,895 1244,825 1239,927 297,871 1051,894 608,938 1067,879 235,878 798,781 943,752 426,825 875,908 1189,988 655,895 391,988 1191,963 677,924 1029,796 1284,880 258,878 248,939 797,917 816,954 800,942 708,899 1268,920 981,905 498,837 828,837 821,905 655,824 1139,919 427,908 383,897 1204,765 557,909 1006,852 1127,929 661,925 824,894 242,901 382,887 1020,901 346,841 1104,913 984,938 1042,966 875,906 669,825 859,1038 611,946 387,953 745,921 1008,941 262,939 480,869 943,882 707,930 1194,912 492,944 721,885 1270,831 1122,879 1032,915 1242,939 973,816 335,845 1249,899 532,891 793,904 898,872 849,880 1058,932 1207,977 536,954 477,951 435,940 409,879 686,901 358,854 1263,889 805,917 573,920 688,922 283,855 1310,916 992,938 1017,915 903,885 433,835 549,777 791,895 740,929 825,935 1230,837 461,894 1277,884 429,912 343,933 1144,933 580,899 395,913 520,985 461,893 273,896 1129,906 448,911 629,874 1149,831 401,875 1117,991 575,879 1310,918 237,907 282,920 1263,862 243,885 1286,1005 1017,917 1064,888 1171,865 794,964 736,882 722,864 1147,844 232,873 670,958 926,818 572,884 1002,913 1298,886 1075,934 1174,928 459,874 536,955 379,936 1093,932 226,929 1163,897 552,888 432,910 650,877 649,902 1288,918 963,904 889,875 1218,906 572,911 411,911 551,863 827,881 985,949 1120,887 1220,904 1224,880 478,889 895,854 296,902 950,899 258,829 306,892 1023,994 352,907 389,900 1104,873 1012,876 521,930 1135,796 538,965 881,899 238,927 1028,924 801,854 706,888 733,897 640,899 1243,922 706,910 902,844 315,871 1304,953 1243,881 905,890 430,890 731,880 685,868 703,882 900,885 777,845 564,864 570,953 969,864 1237,811 883,914 512,945 1085,936 970,789 359,923 532,761 650,902 1292,900 652,975 658,985 918,830 651,870 405,885 884,930 241,904 981,897 1006,843 1288,900 316,863 573,970 510,901 535,1013 508,860 341,909 1241,914 370,911 917,881 930,862 594,890 378,859 1244,827 387,903 427,936 341,834 558,863 542,922 656,943 728,781 379,922 392,913 610,870 1101,940 336,903 313,905 299,881 1028,901 946,793 528,956 1075,889 700,867 684,932 311,915 366,859 1272,889 954,840 1119,903 648,933 1193,917 291,860 651,978 443,915 573,900 1027,868 436,921 893,902 671,758 1205,953 1193,930 1192,850 677,866 614,866 506,872 1305,818 389,948 388,875 378,908 894,871 554,869 987,824 228,866 893,829 399,928 248,894 434,930 1299,855 526,930 1047,942 504,877 416,920 996,939 385,898 339,879 378,889 1096,934 361,849 1303,894 971,896 1015,905 1305,873 862,932 953,815 674,923 1128,877 945,824 1289,932 1081,909 237,896 284,852 738,890 956,844 305,881 1189,938 601,888 1193,915 232,1010 409,959 528,894 1018,850 708,890 944,825 479,889 990,898 680,891 920,879 877,850 595,919 476,801 832,910 785,840 897,943 436,828 1231,907 331,852 876,918 1011,922 220,923 895,784 1171,977 1061,884 516,838 461,903 1092,889 577,871 1008,871 891,906 560,884 1201,905 1214,925 1189,950 305,904 1187,937 1019,908 453,800 1248,848 348,872 974,824 1150,932 660,889 1251,942 730,982 1155,934 433,860 1170,815 550,908 1062,907 1226,894 1224,856 856,935 725,957 1282,852 1060,930 1118,834 640,909 1043,892 942,812 1202,891 1008,926 631,932 844,866 311,934 850,883 951,788 662,881 271,952 975,948 1020,958 863,843 290,920 869,856 855,917 802,742 1218,851 581,841 405,862 705,935 663,884 472,881 1198,887 505,942 255,902 1201,960 760,860 1118,870 753,906 410,847 1080,907 313,908 1025,909 824,925 523,958 1262,940 832,909 1107,910 353,935 882,927 826,922 576,926 846,933 707,898 331,902 1050,835 660,855 799,954 801,893 515,903 951,788 466,910 278,890 1267,931 970,875 819,892 968,825 588,935 311,861 458,914 727,909 281,891 231,926 706,888 1117,915 856,915 463,869 511,913 1081,909 1132,893 705,916 730,944 536,978 1043,915 576,951 637,878 288,822 943,834 723,869 992,860 759,934 1201,882 515,899 450,857 282,915 561,948 448,858 1251,909 789,934 977,819 454,872 1114,859 403,926 866,919 1088,944 987,969 276,856 1022,891 1178,933 484,932 421,949 442,862 732,903 447,888 692,955 932,870 1195,907 955,820 914,841 281,942 1047,904 314,892 820,884 1151,968 292,950 637,834 1006,978 559,793 622,864 644,951 1026,1016 1273,933 809,901 266,943 943,917 911,901 601,882 913,805 522,877 410,852 575,842 263,882 794,930 855,938 460,920 601,942 1177,954 290,783 470,895 743,927 810,926 481,828 646,886 1177,960 1235,891 393,882 258,904 652,895 672,959 461,878 524,871 627,909 624,870 1271,882 1045,858 1015,835 1189,862 364,845 338,963 1077,904 288,853 977,878 410,890 1221,920 1269,913 278,923 1173,883 250,947 705,884 1138,940 945,795 822,880 608,913 1034,873 600,864 1125,894 703,947 560,907 236,871 411,857 794,940 671,937 742,941 1302,892 526,915 538,892 1306,920 287,859 800,945 993,932 1218,788 525,920 616,896 303,902 441,907 667,924 985,869 350,879 620,882 1014,889 626,864 678,859 514,907 702,869 459,886 1098,812 384,927 612,937 691,848 484,927 563,860 509,867 1285,896 357,849 449,962 303,920 1153,906 1198,884 732,914 1191,881 328,889 303,907 358,703 1121,895 696,900 536,864 790,1008 1255,937 833,867 1027,899 246,909 377,974 1274,1013 570,921 735,909 911,845 699,882 573,900 527,881 1173,919 455,898 1097,857 852,873 1108,850 870,921 544,920 855,823 336,879 586,931 389,923 239,908 506,942 727,859 993,925 326,937 1207,854 1311,910 1300,894 398,873 461,878 863,948 1238,909 629,866 980,898 810,876 266,827 231,890 702,905 837,801 1277,889 738,930 412,844 1112,933 1026,929 307,909 993,972 277,866 403,973 662,939 1287,957 1216,957 891,914 1095,917 1038,1002 444,901 1178,863 892,944 992,948 1240,927 649,908 1212,818 876,882 1249,930 1236,878 474,921 1026,908 501,942 307,842 1008,814 584,984 978,842 482,918 819,898 350,994 870,949 305,925 482,916 851,901 962,827 941,863 1173,871 706,966 323,939 372,924 1210,915 1264,960 842,782 1052,945 1135,880 853,904 920,871 1105,910 235,875 517,858 1296,918 1001,908 1161,871 757,883 644,905 412,928 224,888 1301,889 1295,915 855,923 1253,915 352,904 407,942 252,896 352,905 1051,934 417,863 395,891 1193,881 599,932 606,947 856,915 1123,887 1211,942 759,916 532,827 989,876 1146,912 1094,934 784,879 1009,902 670,973 368,890 1099,925 599,894 410,905 1250,838 506,840 968,814 299,997 1062,938 941,755 896,837 905,846 1237,921 919,815 673,889 675,806 939,851 869,885 368,916 1249,917 586,965 900,731 365,859 1174,909 427,872 837,863 724,918 669,882 681,825 1105,903 1105,975 1227,777 322,834 469,843 1198,907 337,827 686,882 903,882 702,925 1207,927 1272,874 1220,914 350,853 1250,922 319,845 652,891 292,841 955,816 554,858 646,900 302,950 998,976 1142,922 596,841 843,840 1048,932 393,853 1053,813 859,909 1055,917 661,840 625,884 866,915 1181,921 415,865 1217,977 676,926 1127,919 653,939 661,912 978,867 1010,882 900,844 504,819 662,983 663,898 1286,963 1149,957 1026,920 723,870 674,939 1037,912 942,818 952,842 1139,885 1264,1035 1087,854 1274,879 287,890 632,898 882,922 403,904 415,932 653,866 839,876 994,927 1017,869 495,874 1076,926 826,944 386,891 1239,942 463,866 995,883 1207,914 402,954 1149,882 565,954 846,866 397,904 500,983 967,883 1068,876 613,917 562,950 488,939 953,792 1195,918 958,836 1117,951 581,852 440,877 1017,933 1228,848 332,894 876,876 891,860 928,848 872,927 553,894 630,869 1079,979 1217,850 877,937 760,912 283,901 539,924 545,897 1070,951 626,932 997,982 308,851 460,880 682,834 308,889 613,853 683,886 1148,919 1266,898 929,889 266,924 1068,824 1068,885 991,946 942,918 891,842 993,940 287,850 519,925 877,921 991,896 1065,943 706,862 539,869 862,844 612,837 219,936 1203,918 1137,907 1290,948 251,942 1261,885 901,946 1180,866 537,898 636,849 1125,851 1103,892 796,902 1068,865 1116,950 1027,933 955,783 875,852 526,891 949,763 461,872 426,925 338,904 506,840 679,888 752,859 923,806 760,930 396,902 940,833 311,870 927,890 265,803 350,890 411,894 1127,944 930,790 455,847 1076,917 387,854 928,897 958,766 312,850 662,916 450,868 705,876 618,887 349,912" marker-start="url(#or)" marker-mid="url(#or)" marker-end="url(#or)"/>
<polyline points="1152,926 388,873 405,867 1251,936 1288,927 990,938 755,961 574,847 1238,897 843,893 1275,891 304,829 380,888 367,877 1240,929 848,839 924,770 293,848 388,921 1066,887 1291,888 905,868 1280,858 281,873 1037,898 955,849 557,894 575,907 955,730 738,932 428,927 926,868 283,920 412,880 239,868 1045,926 886,889 1117,939 1115,849 1273,900 514,828 1153,865 391,861 1043,968 991,936 970,732 310,853 1220,945 1178,822 665,774 830,861 1103,923 1180,900 925,866 1279,804 693,882 1251,934 854,906 1112,875 525,891 1245,887 1138,923 1050,915 436,971 818,901 995,928 891,900 405,910 809,826 698,966 835,920 1190,954 891,923 705,922 438,860 677,880 939,820 1055,869 233,923 520,944 1025,990 1070,950 825,876 1047,895 497,837 597,965 1299,937 673,886 387,833 624,944 648,870 428,882 573,967 1145,920 1057,889 538,910 978,817 321,765 1187,861 424,840 1011,952 1184,868 821,907 705,946 842,879 677,837 329,961 754,883 1266,901 988,927 244,847 573,868 383,865 958,825 1013,933 1100,885 1017,1046 307,898 1214,864 423,879 1183,908 473,866 326,881 1194,889 951,871 1050,880 570,866 516,916 1036,916 1184,888 882,859 956,820 531,959 844,926 629,917 358,930 857,966 979,881 355,916 365,917 901,857 591,896 411,825 593,861 1288,868 635,899 867,874 857,877 1150,862 1235,887 675,877 437,889 1129,930 630,831 1133,966 1122,876 660,941 248,861 278,968 1311,943 1171,927 722,871 314,878 650,791 669,821 428,891 487,901 227,953 970,882 786,874 705,956 280,851 464,876 1277,868 325,925 402,923 364,890 220,938 411,886 416,924 1055,938 529,891 1212,939 219,919 1095,932 234,926 1042,918 406,893 327,927 1116,853 1199,940 1129,960 486,849 475,907 953,814 580,926 966,746 949,841 955,848 1113,847 403,975 554,879 384,879 622,837 219,857 535,894 638,936 1214,820 746,874 753,861 1070,958 1274,919 588,884 432,850 527,826 922,837 400,919 571,884 1064,865 893,873 1216,888 516,918 405,935 543,935 590,936 530,877 247,932 940,858 609,828 677,880 389,802 250,923 487,851 912,895 867,935 492,870 1071,856 834,908 256,894 520,931 703,901 916,876 260,847 491,869 444,932 1272,860 1141,883 947,810 492,932 1310,850 628,856 1213,920 326,845 244,946 431,925 670,851 872,849 1280,1011 932,804 842,861 761,914 1135,816 425,897 1203,941 586,969 905,797 1176,890 875,880 650,906 475,911 1179,934 669,821 539,888 1264,865 846,905 363,900 512,925 450,897 1098,933 986,880 1163,879 1201,926 1114,829 263,769 408,875 502,815 610,895 816,878 408,985 477,948 426,916 1298,839 940,859 1034,919 1048,895 683,865 872,872 1274,884 228,849 698,854 553,943 1197,899 458,933 978,777 284,931 904,950 566,904 637,793 898,942 1282,930 492,808 570,910 386,939 999,908 960,870 1128,894 854,793 1162,824 1172,887 412,886 943,874 971,837 658,835 1006,869 334,941 1155,915 749,916 415,886 685,881 328,945 1200,904 856,926 968,873 1112,878 1150,874 750,931 602,924 1310,914 1211,881 560,876 501,892 740,984 706,898 1274,909 1206,868 273,882 530,836 357,893 630,902 567,923 234,915 442,847 801,896 944,789 1093,881 1093,909 1025,893 810,927 919,862 1082,900 861,895 1296,821 464,925 1056,884 946,842 662,966 889,936 812,968 1143,939 608,848 349,962 526,902 1291,1045 858,948 888,840 857,910 649,850 1002,898 628,928 1044,842 1003,799 902,935 1301,990 1205,919 725,890 276,903 667,907 842,914 1048,860 232,860 931,824 1272,1048 585,807 1151,816 1030,858 1055,918 324,887 1214,850 1141,885 456,899 819,916 854,935 607,862 1221,947 611,901 566,1015 1074,883 333,897 318,938 1183,878 501,872 312,881 227,889 397,716 392,848 381,929 675,914 1140,892 923,772 258,829 1175,944 1297,916 920,844 1237,1005 415,930 784,853 707,947 292,862 1301,865 535,883 792,914 884,896 884,860 325,947 611,911 853,898 788,851 1089,905 920,814 745,827 1082,857 403,811 417,826 246,901 522,867 820,874 975,814 284,842 332,990 1064,920 866,851 588,897 1042,863 1309,941 899,955 1272,918 506,929 1164,877 1240,922 663,846 634,931 602,949 661,841 588,841 823,853 319,987 473,926 1128,895 800,955 503,936 571,888 293,887 1057,932 352,880 254,940 494,916 417,894 1032,941 1105,926 357,869 559,889 845,886 1081,877 1152,887 352,893 1130,841 605,977 1269,987 756,861 472,931 632,919 281,953 842,883 953,914 571,869 505,844 636,981 414,889 387,910 880,891 1155,991 296,923 314,826 1117,885 746,945 1279,833 1112,796 800,878 395,881 497,862 818,882 1057,888 356,913 795,925 407,873 627,925 1195,853 646,868 411,813 556,934 1023,874 904,889 983,913 862,873 944,795 633,937 234,849 977,889 657,925 1063,924 1149,1072 951,804 512,919 260,952 1067,938 1137,892 616,876 1201,988 735,888 333,918 580,974 1173,955 836,942 283,942 894,894 730,844 980,909 277,876 791,942 1222,891 1209,867 1175,880 1138,949 962,783 1115,859 909,923 588,912 706,948 328,867 1264,949 329,853 1025,908 1180,868 604,906 731,834 1202,892 236,941 757,901 317,916 1256,966 225,900 807,852 404,803 1062,871 672,927 480,822 434,914 1213,914 1311,863 324,918 305,840 880,885 1021,898 663,917 389,854 893,934 1256,871 332,854 662,914 271,906 553,870 520,912 398,897 408,904 1175,860 1175,864 1147,875 585,844 926,918 235,923 706,941 1115,963 887,772 645,872 1287,955 1244,858 691,1013 1097,852 282,877 891,855 1208,876 1058,859 1202,915 322,952 558,789 1264,795 631,901 1006,942 1177,963 240,855 942,874 981,948 752,995 616,864 872,902 847,852 1290,788 882,936 597,896 1104,942 908,949 896,880 502,850 845,962 879,737 500,937 1118,900 825,879 679,909 966,850 1075,919 358,819 823,815 520,942 1239,947 943,945 723,877 1195,847 1198,931 290,855 243,874 1259,912 644,897 1101,955 449,850 1214,886 308,958 287,877 378,816 514,865 1294,930 1150,917 434,863 1027,880 673,961 1104,917 1086,973 1231,894 1015,915 1075,828 232,889 1193,920 521,874 819,921 931,841 671,895 1239,907 280,868 1096,896 1175,883 476,713 1158,884 698,855 855,883 315,892 345,887 1275,928 1088,912 1100,882 906,815 1048,902 303,877 695,845 1052,907 1193,860 885,882 1260,880 1030,884 264,847 1005,868 996,900 1272,1045 1229,980 351,895 804,868 1044,931 882,907 536,859 896,946 899,847 629,1033 228,831 321,866 426,891 1191,957 942,784 1030,924 787,937 287,805 1202,884 556,837 1205,906 668,969 683,820 591,964 785,840 1150,948 650,905 548,920 531,880 235,835 496,971 407,874 627,914 1284,911 638,760 349,938 972,832 1186,900 347,866 1216,961 1050,913 358,951 1144,895 1079,849 735,895 317,882 700,867 413,852 580,892 940,827 989,939 240,889 960,853 1299,900 707,833 1143,878 290,875 326,934 422,885 477,912 560,883 1119,866 1216,870 265,1057 321,850 242,939 1197,803 724,845 980,868 530,832 617,914 1045,872 1029,853 377,970 378,871 413,976 626,870 642,879 552,941 303,884 914,800 231,854 1270,894 928,807 1074,905 381,926 899,866 732,966 1228,865 691,917 218,880 799,904 1251,825 844,884 936,833 498,907 850,905 412,886 579,848 500,925 1152,952 1075,868 898,862 633,899 1209,813 875,902 794,896 472,971 903,822 243,907 940,902 1232,949 268,835 1236,888 588,902 559,900 331,934 1126,839 708,891 235,858 294,910 1051,874 1290,864 949,786 242,912 986,936 1201,864 793,919 1035,922 1037,894 1293,900 691,923 1116,858 1286,786 1049,932 926,873 938,797 972,859 673,927 480,909 845,942 242,836 366,766 437,961 748,904 584,879 956,771 1273,877 375,910 684,896 503,888 1262,921 365,915 695,861 1198,1146 684,861 745,890 871,892 1042,908 798,869 907,882 231,884 356,795 565,826 855,905 791,868 664,885 290,872 304,946 1075,953 235,949 429,874 726,1032 607,984 248,885 259,836 910,862 1225,875 831,939 650,925 736,897 630,917 268,869 235,1021 350,904 861,837 395,909 1001,958 315,861 372,818 462,944 935,813 790,910 591,866 372,884 1075,959 424,877 649,959 643,918 808,930 525,888 1298,925 1224,777 868,844 1162,945 946,858 974,856 859,916 407,899 599,861 1265,807 405,930 905,776 1291,770 1053,920 440,909 385,859 1186,905 261,1039 1099,890 1141,898 556,837 440,909 1026,861 376,883 1266,882 533,851 321,1009 941,832 910,867 870,897 785,886 575,852 1172,837 326,888 983,885 1013,864 869,883 1145,913 537,943 1202,914 476,988 453,887 738,875 690,918 417,906 876,837 952,871 298,910 420,873 1215,871 305,871 806,940 378,845 1016,854 600,882 642,915 1183,949 288,946 1300,895 601,871 869,876 619,908 276,851 734,802 460,909 898,855 1018,865 967,863 1191,902 565,941 1277,883 356,929 842,776 273,949 1100,898 488,859 1170,831 943,834 417,884 943,801 442,901 725,952 559,987 756,849 903,857 644,855 1135,898 1042,859 1216,900 524,938 745,884 1149,919 317,860 974,822 545,855 1151,888 532,887 1287,899 718,888 784,885 1197,995 1293,931 1201,914 969,859 1118,1000 1177,857 1061,1037 529,892 881,809 418,802 1226,909 908,850 695,861 1300,970 338,862 820,903 1294,885 1005,925 711,937 804,913 315,792 802,889 926,879 968,838 907,835 1112,926 1268,913 1041,957 1043,882 872,776 1151,979 970,857 260,904 1011,895 1121,857 444,905 595,901 1217,838 637,874 671,874 598,887 1163,886 664,868 797,927 571,892 681,908 636,925 795,864 741,909 1309,954 990,892 1205,898 841,910 442,892 1286,823 946,836 1215,1041 659,898 549,885 1045,920 385,860 879,871 1204,951 1254,923 451,932 993,924 1137,915 1190,896 423,971 755,942 876,891 281,831 804,909 1215,900 337,905 563,895 1267,907 1302,880 468,884 316,909 858,909 1287,879 693,894 945,870 974,715 477,856 598,839 340,947 807,821 419,892 467,840 1022,783 1151,877 533,827 1148,938 487,939 296,884 1259,1001 365,879 951,840 871,900 325,925 671,845 945,827 836,856 1169,879 788,874 1297,869 629,901 1218,831 366,889 1305,886 450,926 302,802 363,914 219,930 1039,936 822,720 288,891 566,883 1077,891 1127,832 1074,921 240,917 407,897 845,894 732,892 793,858 1073,907 872,914 798,911 1139,798 508,954 378,917 640,914 699,990 607,942 899,916 1301,867 1202,860 1301,923 633,909 1089,879 797,907 584,859 1111,900 734,887 688,939 947,852 507,838 1025,826 1124,870 586,826 659,943 426,917 952,844 1189,897 1192,918 457,910 1107,858 282,856 1139,892 385,968 1199,969 953,854 467,894 353,877 355,929 289,836 406,911 755,1017 1185,899 228,899 244,946 285,926 503,817 419,955 470,912 328,866 869,822 1089,920 923,797 1264,879 828,939 1220,988 1118,781 1051,942 1257,889 627,946 434,891 803,855 1115,876 831,860 584,937 284,946 487,861 1231,899 735,916 566,894 985,871 304,867 615,902 406,941 1279,841 616,864 890,860 470,888 264,890 305,921 634,870 1228,876 788,899 550,882 667,860 559,913 331,921 963,803 740,936 870,933 1107,892 932,860 675,896 337,942 331,959 1263,969 634,959 1134,893 443,856 995,869 959,829 1304,873 981,898 596,919 540,888 1227,917 652,861 599,846 945,802 558,844 415,802 1172,878 1263,889 287,921 1237,881 1215,868 1217,898 953,855 984,849 965,826 283,944 1298,993 1045,886 481,906 645,1006 1035,887 1025,850 252,837 343,877 360,956 1203,889 1181,911 979,935 1041,973 1072,948 1117,880 981,940 1121,955 839,931 902,791 891,868 504,881 894,638 555,945 625,855 238,857 595,881 1045,870 903,892 1298,931 1153,927 456,903 817,924 1040,834 272,890 728,854 1227,949 842,853 627,867 448,881 673,832 389,918 828,898 1075,917 1306,894 277,897 1083,931 650,909 507,927 609,941 976,832 759,859 227,941 888,811 1031,920 281,910 894,826 1075,981 596,863 1117,930 505,906 459,876 821,909 1073,913 449,963 616,891 595,908 903,919 856,946 630,865 442,923 951,877 1059,915 477,891 867,939 384,850 498,1018 1137,881 321,850 1211,817 1295,998 1217,794 267,932 566,979 265,846 327,846 943,825 901,728 698,874 1103,925 1228,877 1023,907 434,1007 630,894 1145,965 577,937 1153,844 237,913 500,995 461,925 642,916 783,912 482,942 484,927 669,885 1050,876 932,806 351,951 421,889 312,867 866,873 384,944 1015,945 438,934 868,898 381,859 1071,916 996,905 923,836 451,915 632,902 239,922 292,906 861,854 1005,884 425,965 1121,845 731,868 1200,887 836,822 1119,897 1200,885 1152,1007 892,813 699,899 533,905 685,939 629,944 961,854 1023,850 283,934 909,901 1121,886 659,858 242,866 703,964 336,951 537,868 681,1021 1106,935 1294,949 277,869 904,915 1218,897 305,938 655,851 730,938 733,963 573,823 787,914 709,905 1172,877 611,857 572,927 1113,911 1119,965 1125,924 1110,906 479,984 833,898 789,1004 1266,945 959,868 391,911 238,808 903,819 436,843 504,861 1101,973 252,886 1139,867 752,924 419,895 251,923 661,871 495,843 257,835 994,923 468,891 842,900 680,861 498,863 761,931 323,888 418,1009 558,713 1009,857 827,935 1215,848 916,869 337,889 1194,899 353,899 514,850 819,894 1136,893 576,861 701,802 341,916 392,866 855,905 318,838 381,903 1300,858 445,832 877,851 273,930 790,838 899,885 304,850 1072,862 1138,925 1132,832 1050,852 424,863 804,884 883,827 1092,944 1251,927 846,930 947,757 223,846 804,956 1147,867 333,881 612,832 876,907 863,975 1135,843 491,873 288,899 552,878 429,877 1018,802 1184,861 572,907 463,889 1121,855 729,919 604,866 656,869 996,714 1225,969 835,928 606,925 612,915 517,892 1239,893 895,859 1085,885 548,868 899,866 459,855 330,898 1272,862 1065,915 1275,943 438,880 1055,964 379,964 1297,959 890,832 1121,868 1302,911 367,938 741,910 1174,880 875,877 805,809 866,857 806,926 1044,920 289,945 295,897 1211,936 853,929 969,843 266,896 960,808 438,897 285,937 238,852 1249,970 540,872 1001,913 336,858 1278,905 829,894 903,847 1210,968 1114,911 892,812 748,852 219,892 805,928 543,959 1088,838 988,899 309,896 345,869 602,881 237,856 1224,989 650,890 232,882 977,931 444,762 960,835 733,823 449,823 960,872 1147,907 548,915 973,766 721,927 760,936 788,936 644,815 678,954 489,934 438,911 995,944 1098,874 1039,986 1129,929 481,877 886,894 251,923 943,905 551,903 613,920 377,906 546,880 867,862 739,885 414,906 377,869 537,837 964,863 992,897 857,911 1032,842 556,888 1149,900 1089,882 725,857 378,957 805,885 1102,909 517,895 630,880 259,954 1101,910 945,864 290,953 474,867 1149,890 1276,924 531,901 439,943 752,865 557,838 528,872 992,901 414,904 860,921 452,888 218,914 592,865 744,863 908,903 452,913 376,881 1290,760 1146,771 337,930 802,870 1264,820 623,863 1207,886 661,914 1279,915 318,945 489,845 473,870 1191,899 1028,868 238,947 540,898 278,933 597,861 349,919 995,891 1094,882 1153,908 932,800 1279,947 337,946 260,876 1172,923 431,855 1074,949 1028,864 391,851 694,959 338,882 808,901 354,873 1168,833 1079,904 410,908 1043,886 423,888 1070,899 388,947 638,904 734,819 566,912 1073,1015 623,1012 729,908 813,909 1124,954 1296,892 255,751 1154,888 1300,877 875,837 506,887 939,846 417,936 534,954 1098,825 1039,935 1056,864 827,924 564,968 1151,888 618,857 621,936 1299,909 1008,914 344,896 527,922 381,840 977,795 1103,896 338,857 623,917 877,841 489,839 1066,898 1248,913 1125,897 1032,919 724,916 1125,839 372,846 421,869 1097,844 879,877 624,901 473,931 338,968 735,947 409,899 596,862 410,877 1124,894 268,907 389,926 261,936 232,879 235,864 1275,908 655,810 1168,937 563,886 1239,867 325,900 893,891 693,834 1075,869 1210,945 1153,867 1225,929 439,949 313,913 872,896 992,1013 523,871 909,924 452,845 499,823 454,857 553,929 240,919 480,862 1121,880 956,864 1192,957 701,919 920,888 564,903 915,867 899,823 505,934 920,820 307,917 1273,924 478,858 757,945 1147,956 1122,934 583,806 1063,949 1089,952 277,924 652,1012 598,864 1269,831 495,954 1208,900 388,926 758,871 508,951 407,866 744,886 237,898 1145,892 704,965 1261,865 1261,885 1200,847 1281,916 1112,877 926,797 1007,917 944,807 413,908 1044,937 1246,872 289,902 678,868 1272,888 274,900 1289,907 393,987 1017,954 642,969 868,850 1186,889 1280,856 388,832 458,910 1212,901 334,892 288,920 545,934 893,880 1210,925 1207,893 931,974 928,782 737,788 967,873 478,916 439,930 1239,962 1289,887 389,848 312,889 651,910 532,893 287,839 328,865 926,866 734,903 1043,875 465,907 1131,896 401,901 1124,942 661,923 411,896 638,808 327,955 803,908 884,856 882,847 1135,998 235,883 238,943 902,879 907,801 1247,916 575,914 743,917 791,945 1090,926 1115,859 1176,1000 424,933 785,916 611,901 234,940 606,883 504,865 1178,991 618,858 1187,915 649,867 1139,919 1237,909 468,1012 268,899 1069,915 969,897 1162,837 681,878 362,912 1220,942 800,774 467,860 672,889 999,904 605,918 534,857 518,939 883,862 1275,852 1095,783 1121,1003 1308,862 1193,874 378,845 876,901 916,784 869,901 818,935 241,865 312,909 379,867 1232,966 330,844 601,884 388,856 725,896 1100,865 529,890 480,862 1057,921 1269,855 359,898 800,953 1151,890 1030,964 425,906 670,939 795,850 926,832 230,846 1106,947 288,915 262,885 291,865 917,792 1076,968 981,807 1004,904 651,823 237,855 574,929 863,945 1149,903 496,898 461,840 565,1014 1275,919 800,928 546,916 1200,873 891,852 1019,891 337,866 1113,926 1298,1011 242,914 1139,839 390,873 580,936 1055,946 1189,914 981,865 390,889 906,914 303,890 332,915 746,944 496,880 954,817 441,932 301,862 1071,877 425,950 376,843 429,931 760,888 735,917 1245,930 1167,874 547,831 728,945 483,897 497,925 991,918 838,893 1072,821 1222,915 380,884 438,878 550,906 707,963 884,875 315,875 291,975 1153,896 1240,890 400,867 1172,950 1222,860 1247,863 262,965 854,853 1224,878 958,861 1002,857 646,868 409,907 261,913 234,927 394,865 483,928 880,842 254,896 1083,950 1263,864 602,851 1143,849 356,959 434,914 1081,827 503,880 261,979 603,909 484,873 335,873 1068,941 341,953 631,856 670,942 407,884 730,884 1215,916 1166,838 911,858 262,895 1249,1016 1244,875 435,886 1104,929 1311,893 916,945 1076,822 1246,886 1056,957 948,827 567,851 526,896 525,897 1055,955 572,863 529,933 1241,867 615,877 571,939 1134,913 469,922 246,900 364,893 432,917 1163,851 750,947 519,868 560,892 686,823 753,886 1201,891 761,891 887,909 1033,879 950,819 879,865 700,899 1286,911 826,893 1266,845 953,855 1052,851 1064,969 254,927 966,819 314,824 1211,769 410,914 940,856 946,767 912,994 430,930 723,878 543,793 869,901 851,855 944,879 392,837 282,802 1224,838 570,899 466,766 374,894 1242,881 1209,942 430,895 505,947 1144,839 515,1034 321,902 741,875 558,933 936,822 548,888 1275,779 485,922 681,872 1165,899 752,898 1122,927 933,891 336,886 437,885 1057,838 232,943 313,947 1052,923 1043,916 266,985 636,858 1043,949 1220,875 758,941 660,838 1070,911 931,809 589,896 566,908 720,873 1269,919 992,892 1142,919 223,976 746,918 408,868 744,897 633,860 757,891 1218,856 437,869 1005,832 346,915 671,926 415,908 473,855 671,859 868,830 975,884 257,911 1054,913 723,881 1187,865 592,955 833,905 351,898 1218,865 980,901 1301,888 950,818 264,878 1104,903 839,938 431,924 960,764 826,846 826,953 537,859 915,766 841,741 1202,934 335,827 908,860 755,837 244,893 321,927 1102,949 735,893 814,962 863,965 732,829 284,897 1166,867 232,918 330,910 817,889 604,804 1239,866 786,885 744,879 462,860 1035,920 406,869 707,902 573,904 1292,882 1262,913 1219,913 463,905 554,854 599,873 568,928 1301,907 724,1074 1303,944 576,876 1122,890 553,940 223,908 739,892 920,885 1197,871 297,932 289,787 660,886 596,971 314,1006 1024,904 1284,876 546,865 724,870 625,951 504,855 673,883 595,919 663,865 1177,894 631,901 1032,977 735,886 557,947 1025,890 905,908 436,777 490,821 259,852 450,796 300,952 871,916 954,877 405,933 1247,812 649,837 464,880 554,918 309,853 1129,917 831,953 379,932 1005,836 473,918 399,884 1112,968 316,911 723,853 356,827 363,888 650,1002 891,881 1126,910 1200,853 309,817 469,1001 1281,871 881,902 892,812 1100,883 911,841 590,834 870,974 466,823 343,979 690,909 430,864 555,937 608,898 673,921 1061,875 553,860 1277,941 804,921 1014,958 611,929 452,823 680,933 869,891 267,892 792,930 502,910 885,942 387,945 839,916 519,797 968,828 560,919 722,907 627,912 473,901 1175,856 1121,890 242,902 786,928 1106,902 1114,813 933,825 1212,846 626,908 324,866 943,860 831,892 1255,906 787,858 1126,919 465,920 1235,895 218,971 867,947 1231,934 994,922 667,939 1289,897 577,890 829,863 857,861 528,838 300,960 304,961 637,876 755,935 1199,907 561,910 739,899 843,905 879,840 927,847 482,915 1047,931 610,880 1281,913 232,919 892,856 603,838 236,987 970,753 1138,880 804,976 409,771 802,946 1123,848 751,900 650,989 391,919 517,964 895,822 636,872 882,861 1142,943 786,1061 956,800 654,893 1244,937 921,946 1294,944 965,874 1289,888 1045,1023 564,793 969,856 1295,919 242,864 959,920 1207,889 589,858 582,905 647,881 554,883 516,900 279,870 1215,896 598,865 1087,882 454,907 903,808 1216,935 860,874 870,867 920,836 409,940 385,898 1284,933 1036,906 1127,964 1212,840 992,895 1122,950 595,922 1250,913 980,816 315,962 248,888 1098,935 1139,953 232,892 664,876 863,935 308,914 909,904 401,915 787,897 413,914 516,911 488,942 1202,794 1261,991 1100,834 530,898 559,853 1014,941 1127,992 1084,860 852,847 799,895 1214,839 618,863 743,865 556,864 1107,893 378,864 1177,869 794,894 612,824 1122,833 649,903 354,867 1154,906 839,886 398,985 864,878 891,845 1144,882 405,839 820,826 248,826 528,983 1169,875 452,921 505,891 400,993 970,873 1291,892 1114,925 991,953 846,898 898,794 1121,876 1232,918 970,899 809,956 538,893 1177,939 649,932 698,864 650,915 936,834 989,898 647,882 754,860 1299,837 396,900 1196,918 672,897 889,839 658,857 402,877 1257,865 558,918 1117,935 534,936 406,821 502,924 972,834 623,923 264,891 876,822 1129,777 388,951 574,954 1195,920 1262,867 812,867 1088,849 970,763 425,900 313,889 815,872 432,848 228,865 1261,938 379,904 638,911 1035,865 940,766 234,881 1088,955 843,832 881,883 468,834 912,782 648,849 1011,980 705,896 245,1085 554,845 1134,921 432,868 452,920 987,912 446,909 829,887 572,863 419,900 1259,859 568,844 1230,868 422,847 657,868 905,832 531,907 1217,875 1009,875 1096,936 989,930 559,888 909,842 817,874 505,937 1219,840 1148,846 1048,929 325,832 577,914 965,824 1260,960 289,870 934,841 607,877 881,872 803,795 1010,866 240,772 825,889 270,903 379,904 1307,963 792,930 863,864 1191,967 404,863 902,914 1168,917 237,891 625,887 531,890 709,929 692,916 493,901 1042,880 562,908 400,891 655,836 747,852 312,871 927,832 923,887 917,894 1259,950 950,908 566,934 631,894 316,872 614,870 1274,980 801,857 1182,917 859,831 784,886 568,946 471,953 1126,889 248,925 547,864 1211,896 1238,928 1138,938 488,928 1210,925 1156,852 973,822 278,822 267,949 1223,943 544,735 784,916 1044,902 740,917 512,916 954,840 455,845 741,876 335,818 1270,961 391,863 567,914 319,915 857,962 792,899 865,863 267,887 1052,946 315,921 330,853 870,825 502,876 441,925 233,882 921,895 441,941 1125,895 283,891 487,897 1027,882 1165,933 921,856 798,907 425,820 1175,886 707,940 897,860 862,827 826,934 287,908 471,967 548,869 689,941 407,905 654,902 542,900 452,850 866,840 701,945 226,846 863,963 451,771 409,907 536,943 968,804 679,860 566,782 253,867 952,873 1284,861 651,829 460,848 976,865 733,877 611,879 497,878 353,885 486,935 280,903 805,946 574,905 929,783 530,886 1227,899 517,945 676,860 1247,871 970,934 404,824 1047,1016 857,846 1098,880 898,890 578,868 1150,970 640,910 329,995 378,969 654,943 1220,833 473,879 485,870 1197,906 505,860 265,863 463,913 549,921 1099,846 1291,817 1231,903 1035,968 1292,902 935,880 380,896 965,818 869,949 1175,878 1030,923 508,1006 657,934 919,687 221,875 1299,927 381,953 1271,897 387,903 311,883 759,873 352,856 790,855 548,763 218,899 313,929 298,881 1057,962 1075,924 254,769 363,877 219,944 726,893 783,913 1265,894 646,913 1129,906 842,905 466,858 726,897 629,853 287,897 1195,869 1213,986 680,964 805,928 1259,921 686,827 680,823 465,822 1262,945 658,911 865,877 579,832 613,880 1136,869 854,929 529,800 355,862 254,991 461,912 785,887 445,927 926,942 702,878 367,817 601,840 411,933 1040,866 1272,876 844,874 910,819 755,852 955,911 752,931 352,929 1186,918 1277,937 981,893 563,868 1155,871 876,889 606,904 803,903 960,805 1040,900 582,821 1004,878 1072,973 238,972 899,812 867,859 891,853 978,808 1236,901 1038,823 1164,988 681,901 354,913 974,992 390,933 527,883 628,831 1047,932 844,873 699,898 385,904 892,833 979,813 1124,899 388,852 1252,914 1229,894 873,809 943,891 684,878 849,982 353,910 633,879 788,916 414,841 970,810 576,881 1114,930 556,901 1264,945 1178,882 866,935 623,870 351,905 1003,848 1235,853 1045,931 726,974 464,759 917,860 430,936 1183,894 416,932 762,897 344,895 1192,895 336,846 249,915 414,882 855,889 353,855 1117,912 701,1022 676,901 1058,881 307,927 979,876 846,936 1147,851 1211,853 230,943 533,924 1200,895 508,888 948,820 657,902 979,890 1014,930 875,896 384,963 242,911 337,952 347,874 1074,826 1138,912 516,911 580,885 1190,841 591,963 575,825 629,903 695,884 908,874 233,888 876,1000 841,936 504,934 836,902 867,882 1181,800 508,822 698,896 1054,893 254,935 896,947 702,915 957,796 622,926 407,809 617,866 377,860 608,920 793,878 432,888 488,888 752,890 355,947 275,895 602,799 429,862 554,913 1283,956 1288,927 627,911 490,914 490,855 1146,904 286,794 1108,900 627,912 1209,886 557,953 460,871 500,954 1033,909 426,876 1213,871 1214,860 1106,910 1290,900 1205,877 736,891 1157,966 546,852 1122,930 634,847 723,849 937,873 1290,923 682,871 637,1024 1104,855 1028,937 312,913 592,949 932,858 513,802 319,873 1301,968 1284,912 482,907 564,886 1163,920 356,976 403,894 633,855 661,921 1214,885 558,871 883,897 951,771 580,961 1288,880 239,888 383,917 754,891 558,871 1200,839 1184,883 1307,961 320,902 679,900 397,901 697,912 576,902 737,852 504,946 1125,885 980,845 1121,908 564,903 819,921 414,873 728,929 871,957 728,939 219,902 704,857 514,914 569,847 915,821 760,930 933,876 1257,902 789,840 893,845 349,932 519,881 460,889 1289,821 331,904 228,891 858,848 398,929 673,944 553,879 429,879 1049,934 1098,916 730,917 923,799 627,950 1250,901 883,856 1263,884 800,911 876,842 732,880 1140,942 760,974 387,889 988,1013 756,957 1212,822 1249,970 427,924 590,884 721,882 1043,894 442,897 228,871 453,878 302,876 1034,875 385,842 284,907 846,895 955,774 314,915 240,906 336,935 357,900 964,813 1283,884 867,940 900,898 1233,925 1247,940 974,845 932,770 414,924 297,912 1277,918 960,823 526,886 573,968 1235,903 1046,959 705,895 1013,939 1303,873 686,851 701,967 1052,847 787,900 542,845 812,926 739,872 899,894 1207,921 484,945 723,953 858,887 899,814 658,962 1152,902 1078,865 659,921 1083,877 1216,898 525,946 451,952 955,899 571,857 547,871 748,917 523,934 496,879 301,895 577,853 922,925 350,901 942,795 802,893 549,803 579,888 644,920 1002,868 345,926 978,807 548,950 508,930 1187,863 1088,868 432,880 286,898 291,918 319,881 949,886 304,960 532,751 1263,892 328,917 302,944 946,804 1247,930 1172,928 392,943 995,914 465,977 316,900 437,951 1036,945 411,870 552,856 480,881 539,897 1064,780 1245,804 883,765 1200,824 958,855 326,883 1051,900 1225,969 1279,907 863,985 915,953 500,929 1117,867 252,829 663,885 558,875 340,943 975,855 240,917 1125,1023 700,934 995,935 1179,885 536,874 722,946 263,933 1204,991 998,832 681,902 803,960 554,815 1065,851 427,937 1115,916 858,857 943,866 1273,896 1272,910 877,870 884,852 864,910 469,873 234,873 628,939 1202,853 707,913 1117,876 1066,873 1040,944 1203,864 357,916 388,851 547,869 1225,831 884,846 847,822 890,844 899,805 749,954 484,882 817,918 899,892 687,883 227,865 869,922 670,1021 345,833 877,893 797,884 1025,890 332,862 279,906 966,880 979,844 831,978 683,922 391,961 339,923 240,935 883,857 412,883 1023,877 1014,900 1131,894 449,856 465,918 655,878 1219,885 819,938 1297,913 515,895 1195,821 1293,861 481,803 745,904 571,866 569,934 1137,918 268,944 321,831 1131,920 886,898 525,864 1035,924 521,933 994,893 544,913 428,954 846,863 263,847 810,892 1263,860 1066,842 680,846 236,873 1114,863 1266,930 1146,899 324,986 899,903 941,822 280,867 257,967 296,857 890,811 821,883 936,854 1142,930 565,863 795,940 1177,959 1129,894 728,896 723,930 370,845 1022,825 239,928 1255,886 597,799 233,879 246,886 564,853 488,864 1115,984 917,898 359,852 327,926 948,887 631,871 244,885 239,886 870,822 1236,893 235,865 634,869 284,900 1286,733 355,824 385,844 289,993 632,923 966,799 329,858 1213,856 732,941 969,773 1227,833 939,784 872,906 1172,923 465,925 423,892 406,894 314,841 1148,844 914,882 644,821 659,927 574,905 1074,865 913,971 415,908 1192,947 691,907 930,891 301,925 1017,935 1152,1005 507,817 1178,881 1145,934 827,840 1264,887 1192,876 427,886 745,916 568,835 735,937 558,942 1067,970 841,792 478,925 439,825 587,923 1136,827 696,949 502,926 1135,900 852,793 1175,916 732,915 1157,922 1029,858 589,941 735,894 642,902 393,884 511,888 351,869 638,868 1113,845 1073,918 1279,825 298,842 502,892 242,976 385,973 1093,821 1301,905 903,828 1147,941 970,834 475,878 313,906 662,893 877,839 1287,872 621,863 893,861 646,872 1296,910 697,926 1097,915 797,946 357,879 402,897 1299,949 1120,950 999,898 406,884 538,883 463,999 819,905 290,882 285,894 523,850 398,865 1019,941 963,848 628,951 1059,871 608,865 473,907 1301,849 799,861 1107,826 686,919 978,866 235,865 295,924 1198,977 798,914 805,910 887,824 1121,934 250,932 648,898 747,966 1094,989 621,849 862,981 251,826 631,902 380,903 602,905 1050,1021 677,904 1050,934 273,937 745,960 603,928 1165,908 1017,971 341,942 355,836 1057,853 1289,975 1244,933 1104,896 730,879 1066,919 1165,828 293,940 376,902 956,813 1289,904 1227,931 241,861 348,883 1176,832 300,824 234,907 823,893 485,912 726,924 650,882 682,919 285,941 438,902 1202,923 1288,920 746,855 437,901 422,949 1197,856 1018,878 475,861 611,1076 635,920 457,902 631,946 406,993 800,872 400,897 854,881 413,831 1214,917 952,785 1190,933 1229,825 891,899 860,927 580,957 331,820 888,888 927,900 281,868 705,905 586,947 728,811 759,841 1026,906 257,835 953,757 651,867 402,884 424,903 600,877 973,895 1166,919 530,846 961,766 748,874 1244,843 411,833 722,847 1287,895 406,908 1269,946 1041,990 652,891 622,1000 919,832 559,876 1094,935 549,984 332,893 957,874 1200,915 967,862 648,935 824,851 907,815 858,820 671,884 605,918 553,919 679,883 1006,949 391,965 1074,927 873,826 903,829 552,851 1246,890 1111,945 399,852 1307,930 1127,880 478,926 880,949 462,872 505,922 1031,877 1006,907 1006,909 699,920 1163,882 1126,897 676,992 892,910 1292,964 1023,949 530,844 268,913 897,879 1278,907 480,881 594,910 576,897 473,873 1074,876 844,895 563,859 1293,926 730,919 434,869 1155,927 303,846 298,915 1269,867 412,943 588,870 877,953 1274,876 957,801 973,825 934,823 1309,890 1267,859 1005,874 1048,879 1059,901 509,911 743,907 605,722 427,909 1087,837 744,936 990,1035 668,883 1048,933 1033,908 499,874 706,911 1293,853 1115,886 1110,944 958,794 995,828 257,841 1040,948 1146,844 549,917 630,860 292,949 909,857 402,820 298,956 1102,889 303,903 1024,883 857,1001 677,864 1100,849 675,948 659,973 659,910 623,893 513,1098 673,910 1213,872 625,882 1040,976 348,918 1002,832 1249,904 311,882 834,953 1160,863 366,876 519,848 650,904 461,913 614,928 1289,845 372,879 966,854 1008,1001 662,868 959,775 746,915 1063,994 299,891 1123,854 1289,881 872,942 470,973 985,945 611,871 250,862 1053,885 670,866 1206,903 312,942 895,921 1102,797 1005,936 666,859 229,990 755,940 544,946 1111,985 840,846 405,845 979,881 577,894 402,832 1129,955 382,888 872,886 331,893 1214,939 1047,948 1074,912 941,825 355,871 565,918 973,881 723,879 1289,920 1214,902 573,900 501,900 929,819 1074,906 1177,840 746,922 819,891 335,999 895,909 387,821 747,931 1129,903 397,897 405,885 1296,834 324,888 808,868 355,906 324,921 699,925 848,921 465,970 506,866 346,938 402,886 1076,881 643,865 436,919 996,941 747,864 741,853 331,913 624,909 589,837 1053,851 757,800 486,940 872,868 406,896 592,917 456,888 1031,917 1270,936 1237,830 999,907 944,902 730,811 1288,922 344,906 615,922 726,903 380,871 1188,826 533,901 516,893 1299,925 256,867 1266,891 622,846 508,950 963,790 538,861 936,868 800,925 687,834 870,861 482,916 337,926 898,846 954,855 545,878 232,861 1291,880 1083,872 471,912 259,905 1211,838 990,878 402,871 1115,889 1019,962 1227,923 625,850 459,888 485,856 1241,805 992,840 234,878 1260,923 416,915 433,927 546,893 248,863 663,903 463,949 615,853 483,911 1212,963 1115,877 851,911 1275,884 958,799 1082,913 1117,886 958,851 579,863 1001,881 1110,849 1304,881 871,881 440,890 641,913 807,878 393,920 255,893 1006,884 1089,880 1038,939 1020,944 870,841 903,889 1128,928 1069,878 280,908 1259,818 1257,876 1243,947 1274,892 493,905 1015,925 736,921 594,820 868,977 1053,931 1034,888 558,859 428,883 352,894 1096,914 557,928 493,893 1060,886 907,873 1249,895 357,893 535,900 845,895 632,800 287,917 385,875 437,875 1068,917 1297,883 707,916 1233,971 467,909 557,911 262,844 1031,886 939,892 651,859 1128,980 290,806 623,926 1013,879 723,916 412,844 304,908 594,877 336,890 644,938 1056,880 561,849 245,860 514,964 999,1110 326,872 1172,937 696,936 823,955 1008,898 1125,961 1251,915 879,815 502,908 1230,842 786,903 975,809 264,874 1206,960 480,906 312,877 1101,878 876,929 293,918 501,913 534,962 957,831 565,910 538,852 799,868 826,977 728,929 535,916 524,847 846,918 1094,972 731,940 626,916 1215,882 236,899 272,899 1190,909 855,931 425,890 1254,775 1265,895 245,889 635,987 910,897 990,865 536,885 754,920 698,922 381,857 1124,887 1151,944 922,797 818,841 860,921 706,927 637,918 1144,944 1178,909 614,883 1178,860 571,819 482,898 1222,984 729,869 1165,879 444,875 706,821 1288,917 548,859 860,835 810,876 912,871 879,793 664,920 657,835 953,870 1129,880 411,939 424,734 730,919 726,976 1297,937 1043,834 794,843 811,858 1194,863 1052,862 382,923 350,911 235,903 378,815 314,872 1145,883 1032,978 1148,906 487,906 651,900 1176,887 428,914 804,1009 707,842 1299,895 1152,878 856,836 597,894 272,910 479,942 446,872 881,836 898,873 1002,923 893,912 1172,897 754,953 286,883 501,939 1217,949 460,930 1128,834 630,928 701,916 1141,922 525,866 586,893 831,893 838,891 1169,901 965,864 891,894 1102,917 685,924 1021,930 1125,886 641,809 706,908 336,920 364,867 331,885 1118,967 870,871 892,888 306,839 326,883 733,932 1164,885 1101,920 292,951 1066,840 1303,936 1241,931 1205,862 640,896 1054,863 741,884 424,907 1021,871 477,876 670,833 944,851 513,930 1248,1038 930,702 1264,907 1001,829 340,853 844,888 871,849 797,952 380,855 1039,884 951,845 407,943 940,839 1261,857 337,947 483,881 304,886 1192,883 1265,879 461,863 272,924 599,1084 1274,847 333,881 1100,925 316,1018 1042,868 891,938 943,788 1174,894 231,910 385,866 1221,914 1161,930 1288,902 869,921 336,882 730,913 497,894 237,959 668,873 1100,942 1108,656 357,927 1121,925 753,899 556,922 857,923 928,921 565,882 458,898 810,916 1187,876 401,932 661,897 1143,865 1047,940 991,945 1289,843 465,902 445,953 657,907 573,879 319,847 1042,947 1039,990 495,879 961,810 275,962 477,895 739,873 1243,922 1219,910 898,869 306,872 385,893 411,915 316,929 525,886 920,820 1099,772 395,869 364,860 591,899 513,913 1271,865 753,874 801,940 480,924 733,902 530,889 735,867 930,914 992,944 363,918 490,888 820,900 867,861 228,872 471,889 549,894 647,931 414,893 734,897 1120,871 941,816 1197,892 533,893 233,897 927,893 848,922 821,885 722,969 1282,940 479,870 611,812 563,861 612,907 874,882 625,925 1274,931 440,929 1288,891 438,837 1062,952 556,918 843,904 1303,820 661,878 1275,881 315,897 438,834 1156,870 491,913 973,877 299,906 736,920 1273,968 751,870 955,848 658,899 230,956 740,895 820,970 549,858 315,968 871,800 671,910 454,938 709,921 844,862 834,932 1059,941 310,847 460,904 926,863 927,841 735,874 1131,961 411,916 310,869 547,906 810,867 1268,867 1252,887 1010,997 456,874 1280,881 1201,931 410,838 989,775 1248,932 501,898 524,879 667,841 575,860 1113,891 879,891 383,897 1260,968 563,919 959,872 1109,975 1006,947 969,805 440,898 464,872 297,948 1123,930 462,891 817,829 877,915 589,879 274,809 517,895 599,885 895,905 408,897 1078,934 1171,886 962,821 627,884 310,876 1022,946 489,934 570,851 1075,930 1138,906 408,883 424,855 736,939 1209,858 1248,837 1117,974 1277,828 448,814 754,915 370,917 733,870 455,870 234,903 477,1008 884,927 1246,942 541,933 1060,917 243,880 352,905 229,824 994,887 1154,908 646,929 786,945 589,844 905,731 1122,858 398,896 452,911 329,917 1309,909 1291,843 813,857 493,885 532,906 1022,924 552,958 1238,854 350,864 235,908 1304,872 920,883 335,862 872,920 971,793 1259,890 344,942 1100,913 653,933 506,886 908,903 647,974 400,902 236,878 955,756 744,920 1242,917 518,883 1214,877 366,939 269,978 1090,888 659,895 1132,988 1076,919 928,823 608,953 291,901 1076,888 920,885 866,881 480,916 1089,907 1177,854 556,924 855,856 1138,849 752,843 413,915 1198,932 304,926 901,799 632,852 426,950 858,958 1306,837 358,867 226,820 1071,909 697,949 410,932 583,799 395,893 524,932 256,899 518,876 319,906 1258,840 988,1002 487,907 548,914 380,911 602,879 744,960 509,925 896,921 597,898 889,904 1081,876 896,913 384,912 1026,934 1117,847 1038,870 1195,824 611,914 723,867 631,888 1074,869 229,877 868,891 493,903 832,877 1279,937 1122,890 808,965 835,925 427,971 1056,858 1238,862 415,825 1102,961 272,916 662,889 291,936 1100,937 525,982 260,908 488,889 350,805 1032,872 1247,917 735,929 726,878 901,877 701,897 1156,897 1042,912 1223,884 1069,907 340,915 784,1004 1104,975 990,891 981,891 1047,962 1086,832 1273,954 978,893 556,915 305,908 1058,869 1219,851 635,902 234,913 1225,990 1072,927 1159,823 359,885 988,907 1264,953 314,881 1087,812 948,846 657,842 605,919 1045,915 843,943 664,909 617,920 394,861 1000,954 372,867 1139,899 234,889 396,875 516,920 1053,820 396,942 269,968 809,799 999,934 907,851 865,876 1128,815 1251,977 445,896 321,900 332,786 243,933 1181,855 641,887 1306,877 943,867 1022,947 666,873 493,949 944,839 1099,1055 792,918 639,949 1266,873 688,938 928,846 1214,930 672,897 858,817 571,885 627,929 428,889 371,931 1284,964 1247,835 1295,845 1004,714 1028,777 338,881 557,945 682,876 817,835 330,881 856,816 666,895 1224,947 572,840 1297,931 742,958 1271,886 581,825 324,869 351,910 905,835 1223,876 424,896 1075,920 1009,922 1208,938 1125,807 286,895 821,889 929,859 488,920 403,842 1298,946 787,906 1301,920 868,899 469,968 325,862 1040,920 266,847 457,868 852,914 1067,957 597,870 409,832 825,905 1142,830 224,915 327,977 426,905 1045,882 1001,880 901,852 475,899 330,868 783,919 708,875 994,925 663,898 471,863 656,897 475,924 378,878 1176,907 1124,853 431,885 889,850 377,844 651,962 1249,927 743,933 812,915 604,922 1243,931 1017,994 330,973 929,862 1257,867 1304,887 466,845 818,996 258,939 819,887 1136,913 786,946 588,878 820,907 574,894 311,909 264,895 951,822 329,952 994,937 952,847 339,976 1147,885 834,850 800,957 331,808 1217,840 1070,957 1111,871 356,835 731,875 1167,1045 788,973 991,918 1292,898 341,873 958,852 783,941 857,824 983,932 318,903 879,891 758,891 584,898 257,867 907,892 326,862 579,944 949,855 1175,917 1239,914 1161,910 871,939 973,786 920,842 696,861 956,898 241,926 1110,925 872,822 640,884 785,860 1294,898 1146,877 1149,923 562,837 974,850 381,898 362,891 379,898 654,883 232,799 1128,843 886,906 325,863 450,926 466,892 1051,923 871,965 878,839 957,794 648,893 796,867 930,909 1180,847 429,931 610,909 656,918 1121,917 757,884 484,923 890,827 418,883 803,953 568,912 1214,791 832,896 1005,916 945,842 813,914 450,958 1070,904 1208,905 1271,928 487,855 432,895 1139,891 893,889 744,758 651,857 353,923 416,848 332,951 864,977 1266,912 1101,843 901,891 316,968 1177,955 1002,876 331,872 748,874 485,887 286,875 850,897 919,857 918,799 722,921 554,882 693,1067 489,838 872,998 1153,881 304,797 1039,927 391,945 565,905 1304,927 924,915 1104,906 1124,865 814,906 1174,927 1224,909 1240,959 320,915 761,884 503,857 1195,912 1029,917 1157,885 1021,886 805,843 469,814 877,928 1035,977 1142,910 533,914 1271,853 1210,971 507,848 839,918 483,836 955,829 410,875 997,976 1304,929 401,856 612,922 672,957 733,854 252,1058 958,913 1308,948 1029,918 1152,1028 1053,907 243,872 1176,903 1042,934 403,802 1120,812 1244,773 404,943 1214,947 709,953 635,914 404,902 1045,918 816,875 745,876 922,826 432,859 1135,953 871,874 464,863 377,873 854,923 598,977 839,868 898,851 1287,912 561,912 498,860 649,976 1076,971 956,786 657,906 754,876 677,897 761,941 475,937 1193,854 963,814 837,860 244,857 685,872 1050,905 274,865 402,904 733,926 852,950 278,875 509,837 350,977 475,905 908,865 381,906 926,829 290,878 1021,922 956,838 343,930 294,886 901,817 419,899 1105,799 758,907 243,941 469,899 433,928 925,829 1006,953 454,875 549,911 826,957 727,881 1180,963 1153,821 1107,877 1279,991 1189,886 755,915 1149,871 600,912 915,846 1267,835 329,929 677,886 404,822 1072,964 236,949 1119,883 575,923 937,815 315,889 1033,899 981,847 1050,911 415,855 732,849 630,857 987,968 1242,894 660,989 434,793 759,891 1155,890 358,957 913,844 898,848 1081,916 1122,834 741,869 1126,932 346,884 858,856 1046,952 1002,927 311,868 1181,926 378,945 704,896 899,886 1208,897 308,930 545,947 745,833 1254,849 1242,861 571,902 873,908 1071,933 480,871 1094,920 1211,920 454,939 708,857 996,976 365,934 1236,883 685,914 1203,932 243,869 1288,906 473,896 1217,843 560,936 246,946 1021,901 301,865 561,930 598,970 945,883 870,869 486,885 1165,882 371,941 500,884 995,911 732,889 234,969 826,884 1108,824 1224,908 1251,893 954,834 233,927 1266,934 1175,889 645,876 393,910 1243,844 316,862 804,871 607,928 1114,867 506,889 1144,942 580,917 532,906 669,880 426,877 1132,982 338,864 821,743 969,832 1052,1065 749,865 378,928 442,906 378,906 569,879 504,932 726,834 1188,972 577,921 598,944 394,870 581,894 1219,833 1166,954 795,826 236,874 956,772 930,896 633,906 1300,909 737,845 1297,874 799,981 1162,884 1237,971 308,845 607,954 1191,747 895,814 651,1094 938,828 458,939 687,910 799,923 371,931 227,939 1024,919 1237,872 305,888 637,901 459,904 920,851 1188,872 1088,861 1037,901 1137,871 1013,958 1154,899 1175,848 532,903 1181,905 860,876 544,942 581,943 361,922 1121,920 1005,915 898,951 526,845 309,827 1036,848 993,892 1299,902 1236,953 704,881 1208,847 869,913 1045,928 828,897 914,828 316,873 243,836 476,895 1135,891 625,884 551,943 918,1024 874,906 731,956 502,947 895,873 439,959 552,856 422,834 1245,884 899,903 561,855 363,863 538,899 829,870 879,817 999,866 516,881 727,866 747,917 1074,888 793,913 611,836 907,796 378,767 305,919 543,902 1248,888 1304,851 916,874 472,881 991,983 1117,918 471,882 1293,891 857,890 558,829 927,834 304,930 555,854 328,930 916,884 1058,892 613,851 492,868 229,880 576,824 561,932 724,903 264,802 868,895 385,858 906,912 283,847 537,960 1097,922 579,889 1287,946 992,914 1186,894 1298,970 267,919 428,867 1109,910 977,690 400,892 1223,958 706,977" marker-start="url(#ob)" marker-mid="url(#ob)" marker-end="url(#ob)"/>
</g>
<g stroke="#3a3a3a" stroke-width=".85" fill="none"><line x1="69.2" x2="69.2" y1="316.6" y2="586.7"/><line x1="62.8" x2="680" y1="580.1" y2="580.1"/><line x1="62.8" x2="75.6" y1="316.60" y2="316.60"/><line x1="62.8" x2="75.6" y1="382.20" y2="382.20"/><line x1="62.8" x2="75.6" y1="447.80" y2="447.80"/><line x1="62.8" x2="75.6" y1="513.40" y2="513.40"/><line x1="123.61" x2="123.61" y1="573.8" y2="586.7"/><line x1="172.80" x2="172.80" y1="573.8" y2="586.7"/><line x1="227.26" x2="227.26" y1="573.8" y2="586.7"/><line x1="279.97" x2="279.97" y1="573.8" y2="586.7"/><line x1="334.43" x2="334.43" y1="573.8" y2="586.7"/><line x1="387.13" x2="387.13" y1="573.8" y2="586.7"/><line x1="441.59" x2="441.59" y1="573.8" y2="586.7"/><line x1="496.05" x2="496.05" y1="573.8" y2="586.7"/><line x1="548.76" x2="548.76" y1="573.8" y2="586.7"/><line x1="603.22" x2="603.22" y1="573.8" y2="586.7"/><line x1="655.92" x2="655.92" y1="573.8" y2="586.7"/></g>
<g class="ar" font-size="15.5" fill="#262626" text-anchor="end"><text x="56.4" y="321.9">4</text><text x="56.4" y="387.5">2</text><text x="56.4" y="453.1">0</text><text x="56.4" y="518.7">-2</text><text x="56.4" y="584.3">-4</text></g><g class="ar" font-size="15.5" fill="#262626" text-anchor="middle"><text x="67.6" y="606.5">Jan/15</text><text x="122.3" y="606.5">Feb</text><text x="171.5" y="606.5">Mar</text><text x="226.0" y="606.5">Apr</text><text x="278.7" y="606.5">May</text><text x="333.1" y="606.5">Jun</text><text x="385.8" y="606.5">Jul</text><text x="440.3" y="606.5">Aug</text><text x="494.8" y="606.5">Sep</text><text x="547.5" y="606.5">Oct</text><text x="601.9" y="606.5">Nov</text><text x="654.6" y="606.5">Dec</text></g>
<text class="ar" font-size="17.2" font-weight="bold" fill="#262626" text-anchor="middle" transform="translate(36 462) rotate(-90)">Time shift (ms)</text>
<text class="ar" font-size="22" font-weight="bold" fill="#000" x="75.4" y="321.6">(b)</text>
<rect x="79.6" y="534" width="142" height="35.4" fill="#fff" stroke="#3a3a3a" stroke-width=".85"/>
<circle cx="95.5" cy="543.6" r="3.15" fill="none" stroke="#f01428" stroke-opacity=".42" stroke-width="1"/>
<circle cx="95.5" cy="559.6" r="3.15" fill="none" stroke="#1a10ee" stroke-opacity=".42" stroke-width="1"/>
<g class="ar" font-size="14.2" fill="#000"><text x="110.8" y="548.9" textLength="97" lengthAdjust="spacingAndGlyphs">Train Ste -&gt; Lop</text><text x="110.8" y="564.9" textLength="97" lengthAdjust="spacingAndGlyphs">Train Lop -&gt; Ste</text></g>
</svg></body></html>
